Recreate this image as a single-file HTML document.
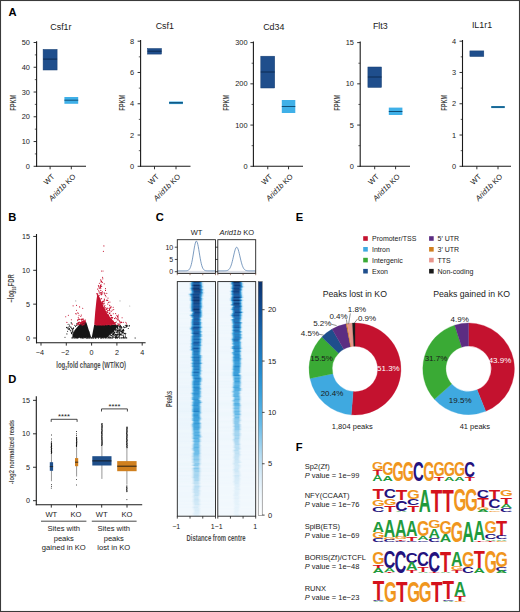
<!DOCTYPE html>
<html><head><meta charset="utf-8"><title>Figure</title>
<style>
html,body{margin:0;padding:0;background:#fff;}
body{width:520px;height:612px;overflow:hidden;font-family:"Liberation Sans",sans-serif;}
svg{display:block;font-family:"Liberation Sans",sans-serif;}
</style></head><body>
<svg width="520" height="612" viewBox="0 0 520 612">
<rect width="520" height="612" fill="#fff"/>
<rect x="0.50" y="0.50" width="519.00" height="611.00" fill="none" stroke="#3a3a3a" stroke-width="1.1"/>
<text x="8.40" y="15.90" font-size="11.2" text-anchor="start" font-weight="bold" font-style="normal" fill="#000" >A</text>
<line x1="36.60" y1="41.30" x2="36.60" y2="166.80" stroke="#1a1a1a" stroke-width="1.1" />
<line x1="36.10" y1="166.30" x2="86.00" y2="166.30" stroke="#1a1a1a" stroke-width="1.1" />
<line x1="33.60" y1="166.30" x2="36.60" y2="166.30" stroke="#1a1a1a" stroke-width="0.9" />
<text x="29.90" y="168.90" font-size="7.4" text-anchor="end" font-weight="normal" font-style="normal" fill="#1a1a1a" >0</text>
<line x1="33.60" y1="141.54" x2="36.60" y2="141.54" stroke="#1a1a1a" stroke-width="0.9" />
<text x="29.90" y="144.14" font-size="7.4" text-anchor="end" font-weight="normal" font-style="normal" fill="#1a1a1a" >10</text>
<line x1="33.60" y1="116.78" x2="36.60" y2="116.78" stroke="#1a1a1a" stroke-width="0.9" />
<text x="29.90" y="119.38" font-size="7.4" text-anchor="end" font-weight="normal" font-style="normal" fill="#1a1a1a" >20</text>
<line x1="33.60" y1="92.02" x2="36.60" y2="92.02" stroke="#1a1a1a" stroke-width="0.9" />
<text x="29.90" y="94.62" font-size="7.4" text-anchor="end" font-weight="normal" font-style="normal" fill="#1a1a1a" >30</text>
<line x1="33.60" y1="67.26" x2="36.60" y2="67.26" stroke="#1a1a1a" stroke-width="0.9" />
<text x="29.90" y="69.86" font-size="7.4" text-anchor="end" font-weight="normal" font-style="normal" fill="#1a1a1a" >40</text>
<line x1="33.60" y1="42.50" x2="36.60" y2="42.50" stroke="#1a1a1a" stroke-width="0.9" />
<text x="29.90" y="45.10" font-size="7.4" text-anchor="end" font-weight="normal" font-style="normal" fill="#1a1a1a" >50</text>
<line x1="34.80" y1="153.92" x2="36.60" y2="153.92" stroke="#1a1a1a" stroke-width="0.7" />
<line x1="34.80" y1="129.16" x2="36.60" y2="129.16" stroke="#1a1a1a" stroke-width="0.7" />
<line x1="34.80" y1="104.40" x2="36.60" y2="104.40" stroke="#1a1a1a" stroke-width="0.7" />
<line x1="34.80" y1="79.64" x2="36.60" y2="79.64" stroke="#1a1a1a" stroke-width="0.7" />
<line x1="34.80" y1="54.88" x2="36.60" y2="54.88" stroke="#1a1a1a" stroke-width="0.7" />
<text x="60.90" y="29.60" font-size="8.9" text-anchor="middle" font-weight="normal" font-style="normal" fill="#1a1a1a" >Csf1r</text>
<text x="0" y="0" transform="translate(15.70 102.80) rotate(-90) scale(0.67 1)" font-size="8.5" text-anchor="middle" font-weight="bold" font-style="normal" fill="#1a1a1a" opacity="0.8">FPKM</text>
<rect x="43.10" y="49.40" width="14.00" height="20.60" fill="#1f4e8c" stroke="#173e72" stroke-width="0.5"/>
<line x1="43.10" y1="59.10" x2="57.10" y2="59.10" stroke="#0d2a52" stroke-width="1.0" />
<rect x="64.40" y="97.00" width="13.80" height="6.80" fill="#3fb0e8" />
<line x1="64.40" y1="100.20" x2="78.20" y2="100.20" stroke="#0f4f78" stroke-width="1.0" />
<line x1="50.10" y1="166.30" x2="50.10" y2="169.30" stroke="#1a1a1a" stroke-width="0.9" />
<line x1="71.30" y1="166.30" x2="71.30" y2="169.30" stroke="#1a1a1a" stroke-width="0.9" />
<text x="0" y="0" transform="translate(55.00 177.00) rotate(-45)" font-size="7.5" text-anchor="end" font-weight="normal" font-style="normal" fill="#1a1a1a" >WT</text>
<text x="0" y="0" transform="translate(76.20 177.00) rotate(-45)" font-size="7.5" text-anchor="end" font-weight="normal" font-style="normal" fill="#1a1a1a" ><tspan font-style="italic">Arid1b</tspan> KO</text>
<line x1="140.60" y1="40.00" x2="140.60" y2="166.80" stroke="#1a1a1a" stroke-width="1.1" />
<line x1="140.10" y1="166.30" x2="190.50" y2="166.30" stroke="#1a1a1a" stroke-width="1.1" />
<line x1="137.60" y1="166.30" x2="140.60" y2="166.30" stroke="#1a1a1a" stroke-width="0.9" />
<text x="134.00" y="168.90" font-size="7.4" text-anchor="end" font-weight="normal" font-style="normal" fill="#1a1a1a" >0</text>
<line x1="137.60" y1="135.03" x2="140.60" y2="135.03" stroke="#1a1a1a" stroke-width="0.9" />
<text x="134.00" y="137.62" font-size="7.4" text-anchor="end" font-weight="normal" font-style="normal" fill="#1a1a1a" >2</text>
<line x1="137.60" y1="103.75" x2="140.60" y2="103.75" stroke="#1a1a1a" stroke-width="0.9" />
<text x="134.00" y="106.35" font-size="7.4" text-anchor="end" font-weight="normal" font-style="normal" fill="#1a1a1a" >4</text>
<line x1="137.60" y1="72.48" x2="140.60" y2="72.48" stroke="#1a1a1a" stroke-width="0.9" />
<text x="134.00" y="75.08" font-size="7.4" text-anchor="end" font-weight="normal" font-style="normal" fill="#1a1a1a" >6</text>
<line x1="137.60" y1="41.20" x2="140.60" y2="41.20" stroke="#1a1a1a" stroke-width="0.9" />
<text x="134.00" y="43.80" font-size="7.4" text-anchor="end" font-weight="normal" font-style="normal" fill="#1a1a1a" >8</text>
<line x1="138.80" y1="150.66" x2="140.60" y2="150.66" stroke="#1a1a1a" stroke-width="0.7" />
<line x1="138.80" y1="119.39" x2="140.60" y2="119.39" stroke="#1a1a1a" stroke-width="0.7" />
<line x1="138.80" y1="88.11" x2="140.60" y2="88.11" stroke="#1a1a1a" stroke-width="0.7" />
<line x1="138.80" y1="56.84" x2="140.60" y2="56.84" stroke="#1a1a1a" stroke-width="0.7" />
<text x="164.80" y="28.80" font-size="8.9" text-anchor="middle" font-weight="normal" font-style="normal" fill="#1a1a1a" >Csf1</text>
<text x="0" y="0" transform="translate(125.20 102.80) rotate(-90) scale(0.67 1)" font-size="8.5" text-anchor="middle" font-weight="bold" font-style="normal" fill="#1a1a1a" opacity="0.8">FPKM</text>
<rect x="147.50" y="48.50" width="14.00" height="5.60" fill="#1f4e8c" stroke="#173e72" stroke-width="0.5"/>
<line x1="147.50" y1="51.20" x2="161.50" y2="51.20" stroke="#0d2a52" stroke-width="1.0" />
<rect x="169.10" y="101.50" width="13.80" height="2.60" fill="#3fb0e8" />
<line x1="169.10" y1="102.80" x2="182.90" y2="102.80" stroke="#0f4f78" stroke-width="1.4" />
<line x1="154.50" y1="166.30" x2="154.50" y2="169.30" stroke="#1a1a1a" stroke-width="0.9" />
<line x1="176.00" y1="166.30" x2="176.00" y2="169.30" stroke="#1a1a1a" stroke-width="0.9" />
<text x="0" y="0" transform="translate(159.40 177.00) rotate(-45)" font-size="7.5" text-anchor="end" font-weight="normal" font-style="normal" fill="#1a1a1a" >WT</text>
<text x="0" y="0" transform="translate(180.90 177.00) rotate(-45)" font-size="7.5" text-anchor="end" font-weight="normal" font-style="normal" fill="#1a1a1a" ><tspan font-style="italic">Arid1b</tspan> KO</text>
<line x1="253.40" y1="41.40" x2="253.40" y2="166.80" stroke="#1a1a1a" stroke-width="1.1" />
<line x1="252.90" y1="166.30" x2="303.00" y2="166.30" stroke="#1a1a1a" stroke-width="1.1" />
<line x1="250.40" y1="166.30" x2="253.40" y2="166.30" stroke="#1a1a1a" stroke-width="0.9" />
<text x="247.50" y="168.90" font-size="7.4" text-anchor="end" font-weight="normal" font-style="normal" fill="#1a1a1a" >0</text>
<line x1="250.40" y1="125.07" x2="253.40" y2="125.07" stroke="#1a1a1a" stroke-width="0.9" />
<text x="247.50" y="127.67" font-size="7.4" text-anchor="end" font-weight="normal" font-style="normal" fill="#1a1a1a" >100</text>
<line x1="250.40" y1="83.83" x2="253.40" y2="83.83" stroke="#1a1a1a" stroke-width="0.9" />
<text x="247.50" y="86.43" font-size="7.4" text-anchor="end" font-weight="normal" font-style="normal" fill="#1a1a1a" >200</text>
<line x1="250.40" y1="42.60" x2="253.40" y2="42.60" stroke="#1a1a1a" stroke-width="0.9" />
<text x="247.50" y="45.20" font-size="7.4" text-anchor="end" font-weight="normal" font-style="normal" fill="#1a1a1a" >300</text>
<line x1="251.60" y1="145.68" x2="253.40" y2="145.68" stroke="#1a1a1a" stroke-width="0.7" />
<line x1="251.60" y1="104.45" x2="253.40" y2="104.45" stroke="#1a1a1a" stroke-width="0.7" />
<line x1="251.60" y1="63.22" x2="253.40" y2="63.22" stroke="#1a1a1a" stroke-width="0.7" />
<text x="273.80" y="30.40" font-size="8.9" text-anchor="middle" font-weight="normal" font-style="normal" fill="#1a1a1a" >Cd34</text>
<text x="0" y="0" transform="translate(228.90 102.80) rotate(-90) scale(0.67 1)" font-size="8.5" text-anchor="middle" font-weight="bold" font-style="normal" fill="#1a1a1a" opacity="0.8">FPKM</text>
<rect x="260.80" y="56.20" width="13.90" height="31.80" fill="#1f4e8c" stroke="#173e72" stroke-width="0.5"/>
<line x1="260.80" y1="72.00" x2="274.70" y2="72.00" stroke="#0d2a52" stroke-width="1.0" />
<rect x="281.80" y="100.00" width="13.50" height="13.00" fill="#3fb0e8" />
<line x1="281.80" y1="106.50" x2="295.30" y2="106.50" stroke="#0f4f78" stroke-width="1.0" />
<line x1="267.75" y1="166.30" x2="267.75" y2="169.30" stroke="#1a1a1a" stroke-width="0.9" />
<line x1="288.55" y1="166.30" x2="288.55" y2="169.30" stroke="#1a1a1a" stroke-width="0.9" />
<text x="0" y="0" transform="translate(272.65 177.00) rotate(-45)" font-size="7.5" text-anchor="end" font-weight="normal" font-style="normal" fill="#1a1a1a" >WT</text>
<text x="0" y="0" transform="translate(293.45 177.00) rotate(-45)" font-size="7.5" text-anchor="end" font-weight="normal" font-style="normal" fill="#1a1a1a" ><tspan font-style="italic">Arid1b</tspan> KO</text>
<line x1="360.20" y1="41.40" x2="360.20" y2="166.80" stroke="#1a1a1a" stroke-width="1.1" />
<line x1="359.70" y1="166.30" x2="410.00" y2="166.30" stroke="#1a1a1a" stroke-width="1.1" />
<line x1="357.20" y1="166.30" x2="360.20" y2="166.30" stroke="#1a1a1a" stroke-width="0.9" />
<text x="353.90" y="168.90" font-size="7.4" text-anchor="end" font-weight="normal" font-style="normal" fill="#1a1a1a" >0</text>
<line x1="357.20" y1="125.07" x2="360.20" y2="125.07" stroke="#1a1a1a" stroke-width="0.9" />
<text x="353.90" y="127.67" font-size="7.4" text-anchor="end" font-weight="normal" font-style="normal" fill="#1a1a1a" >5</text>
<line x1="357.20" y1="83.83" x2="360.20" y2="83.83" stroke="#1a1a1a" stroke-width="0.9" />
<text x="353.90" y="86.43" font-size="7.4" text-anchor="end" font-weight="normal" font-style="normal" fill="#1a1a1a" >10</text>
<line x1="357.20" y1="42.60" x2="360.20" y2="42.60" stroke="#1a1a1a" stroke-width="0.9" />
<text x="353.90" y="45.20" font-size="7.4" text-anchor="end" font-weight="normal" font-style="normal" fill="#1a1a1a" >15</text>
<line x1="358.40" y1="145.68" x2="360.20" y2="145.68" stroke="#1a1a1a" stroke-width="0.7" />
<line x1="358.40" y1="104.45" x2="360.20" y2="104.45" stroke="#1a1a1a" stroke-width="0.7" />
<line x1="358.40" y1="63.22" x2="360.20" y2="63.22" stroke="#1a1a1a" stroke-width="0.7" />
<text x="380.30" y="29.20" font-size="8.9" text-anchor="middle" font-weight="normal" font-style="normal" fill="#1a1a1a" >Flt3</text>
<text x="0" y="0" transform="translate(340.40 102.80) rotate(-90) scale(0.67 1)" font-size="8.5" text-anchor="middle" font-weight="bold" font-style="normal" fill="#1a1a1a" opacity="0.8">FPKM</text>
<rect x="367.90" y="67.00" width="13.60" height="20.40" fill="#1f4e8c" stroke="#173e72" stroke-width="0.5"/>
<line x1="367.90" y1="77.00" x2="381.50" y2="77.00" stroke="#0d2a52" stroke-width="1.0" />
<rect x="388.80" y="107.60" width="13.60" height="7.40" fill="#3fb0e8" />
<line x1="388.80" y1="111.50" x2="402.40" y2="111.50" stroke="#0f4f78" stroke-width="1.0" />
<line x1="374.70" y1="166.30" x2="374.70" y2="169.30" stroke="#1a1a1a" stroke-width="0.9" />
<line x1="395.60" y1="166.30" x2="395.60" y2="169.30" stroke="#1a1a1a" stroke-width="0.9" />
<text x="0" y="0" transform="translate(379.60 177.00) rotate(-45)" font-size="7.5" text-anchor="end" font-weight="normal" font-style="normal" fill="#1a1a1a" >WT</text>
<text x="0" y="0" transform="translate(400.50 177.00) rotate(-45)" font-size="7.5" text-anchor="end" font-weight="normal" font-style="normal" fill="#1a1a1a" ><tspan font-style="italic">Arid1b</tspan> KO</text>
<line x1="462.50" y1="40.00" x2="462.50" y2="166.80" stroke="#1a1a1a" stroke-width="1.1" />
<line x1="462.00" y1="166.30" x2="511.00" y2="166.30" stroke="#1a1a1a" stroke-width="1.1" />
<line x1="459.50" y1="166.30" x2="462.50" y2="166.30" stroke="#1a1a1a" stroke-width="0.9" />
<text x="456.00" y="168.90" font-size="7.4" text-anchor="end" font-weight="normal" font-style="normal" fill="#1a1a1a" >0</text>
<line x1="459.50" y1="135.03" x2="462.50" y2="135.03" stroke="#1a1a1a" stroke-width="0.9" />
<text x="456.00" y="137.62" font-size="7.4" text-anchor="end" font-weight="normal" font-style="normal" fill="#1a1a1a" >1</text>
<line x1="459.50" y1="103.75" x2="462.50" y2="103.75" stroke="#1a1a1a" stroke-width="0.9" />
<text x="456.00" y="106.35" font-size="7.4" text-anchor="end" font-weight="normal" font-style="normal" fill="#1a1a1a" >2</text>
<line x1="459.50" y1="72.48" x2="462.50" y2="72.48" stroke="#1a1a1a" stroke-width="0.9" />
<text x="456.00" y="75.08" font-size="7.4" text-anchor="end" font-weight="normal" font-style="normal" fill="#1a1a1a" >3</text>
<line x1="459.50" y1="41.20" x2="462.50" y2="41.20" stroke="#1a1a1a" stroke-width="0.9" />
<text x="456.00" y="43.80" font-size="7.4" text-anchor="end" font-weight="normal" font-style="normal" fill="#1a1a1a" >4</text>
<line x1="460.70" y1="150.66" x2="462.50" y2="150.66" stroke="#1a1a1a" stroke-width="0.7" />
<line x1="460.70" y1="119.39" x2="462.50" y2="119.39" stroke="#1a1a1a" stroke-width="0.7" />
<line x1="460.70" y1="88.11" x2="462.50" y2="88.11" stroke="#1a1a1a" stroke-width="0.7" />
<line x1="460.70" y1="56.84" x2="462.50" y2="56.84" stroke="#1a1a1a" stroke-width="0.7" />
<text x="482.00" y="28.20" font-size="8.9" text-anchor="middle" font-weight="normal" font-style="normal" fill="#1a1a1a" >IL1r1</text>
<text x="0" y="0" transform="translate(447.10 102.80) rotate(-90) scale(0.67 1)" font-size="8.5" text-anchor="middle" font-weight="bold" font-style="normal" fill="#1a1a1a" opacity="0.8">FPKM</text>
<rect x="469.90" y="50.90" width="13.90" height="5.60" fill="#1f4e8c" stroke="#173e72" stroke-width="0.5"/>
<rect x="491.30" y="106.00" width="13.40" height="2.10" fill="#3fb0e8" />
<line x1="491.30" y1="107.05" x2="504.70" y2="107.05" stroke="#0f4f78" stroke-width="1.4" />
<line x1="476.85" y1="166.30" x2="476.85" y2="169.30" stroke="#1a1a1a" stroke-width="0.9" />
<line x1="498.00" y1="166.30" x2="498.00" y2="169.30" stroke="#1a1a1a" stroke-width="0.9" />
<text x="0" y="0" transform="translate(481.75 177.00) rotate(-45)" font-size="7.5" text-anchor="end" font-weight="normal" font-style="normal" fill="#1a1a1a" >WT</text>
<text x="0" y="0" transform="translate(502.90 177.00) rotate(-45)" font-size="7.5" text-anchor="end" font-weight="normal" font-style="normal" fill="#1a1a1a" ><tspan font-style="italic">Arid1b</tspan> KO</text>
<text x="8.20" y="221.00" font-size="11.2" text-anchor="start" font-weight="bold" font-style="normal" fill="#000" >B</text>
<polygon points="91.7,337.8 94.2,324.8 116.0,324.8 117.4,326.4 114.2,330.8 110.0,334.6 107.0,337.8" fill="#161616"/>
<polygon points="91.3,337.8 88.6,329.5 86.4,322.6 84.4,321.6 81.5,323.2 78.6,325.6 75.2,329.6 72.8,334.0 72.2,337.8" fill="#161616"/>
<polygon points="94.2,324.8 95.2,312.0 96.4,300.5 97.4,293.5 98.6,295.0 100.8,300.5 103.4,306.5 107.0,313.0 110.6,318.0 114.2,322.0 116.4,324.8" fill="#c4122f"/>
<path d="M76.6 323.7h0M76.9 332.4h0M77.9 334.3h0M78.0 335.7h0M80.6 337.2h0M73.2 335.1h0M67.3 328.3h0M80.3 335.8h0M69.9 329.7h0M76.9 336.3h0M76.3 333.5h0M80.9 331.2h0M77.7 334.1h0M72.6 331.6h0M82.4 337.6h0M83.7 327.4h0M75.1 330.3h0M88.1 337.9h0M75.3 334.4h0M72.4 329.5h0M68.3 329.3h0M83.6 322.8h0M84.4 334.2h0M76.5 330.2h0M81.0 334.4h0M88.4 336.1h0M86.4 332.6h0M71.1 327.5h0M80.9 329.8h0M83.9 335.3h0M80.0 335.5h0M77.3 333.0h0M79.4 335.1h0M87.0 335.9h0M83.1 333.8h0M87.9 336.4h0M86.4 332.4h0M82.3 336.8h0M72.2 333.9h0M73.0 329.8h0M79.0 332.4h0M72.7 330.5h0M87.2 337.6h0M76.4 334.1h0M74.7 336.4h0M79.3 333.7h0M86.6 333.3h0M88.6 332.3h0M79.6 329.3h0M87.0 337.7h0M82.3 336.6h0M80.8 337.7h0M77.3 337.3h0M89.1 332.1h0M68.0 327.4h0M86.8 334.8h0M83.1 334.6h0M74.3 332.2h0M75.8 334.6h0M79.3 324.9h0M80.5 331.4h0M80.2 332.0h0M68.1 324.3h0M82.9 329.6h0M79.5 330.9h0M76.3 336.5h0M83.4 335.6h0M71.5 333.4h0M82.2 328.7h0M87.3 337.8h0M72.1 332.3h0M81.7 337.6h0M70.9 330.9h0M81.3 325.1h0M76.4 333.3h0M81.5 334.2h0M70.8 326.9h0M87.1 332.8h0M86.3 331.3h0M73.5 332.1h0M69.4 325.1h0M85.6 337.7h0M82.5 332.8h0M76.6 337.3h0M75.7 333.4h0M80.5 332.1h0M85.4 337.8h0M88.7 335.5h0M86.2 327.7h0M79.3 335.3h0M76.7 325.4h0M69.5 328.9h0M76.5 335.2h0M80.6 331.1h0M81.9 335.6h0M70.4 330.7h0M66.5 327.4h0M72.5 332.1h0M78.2 329.4h0M80.3 337.7h0M84.3 331.2h0M82.7 329.8h0M69.3 328.9h0M87.0 335.3h0M74.9 325.4h0M84.4 332.2h0M82.7 334.0h0M82.6 329.2h0M71.2 322.6h0M78.5 336.5h0M87.0 332.2h0M85.8 336.4h0M76.3 335.7h0M78.8 337.1h0M84.7 326.8h0M78.1 335.9h0M82.0 325.2h0M71.3 332.5h0M82.9 337.1h0M80.8 325.1h0M79.1 336.1h0M73.4 328.4h0M86.8 329.1h0M71.0 327.5h0M78.2 323.7h0M79.3 335.5h0M77.8 330.0h0M78.0 334.9h0M75.4 335.3h0M77.5 329.7h0M82.0 330.3h0M75.7 334.6h0M88.1 333.2h0M77.1 335.5h0M69.2 326.6h0M86.8 333.0h0M77.2 336.2h0M80.4 334.0h0M87.4 329.9h0M73.6 327.8h0M74.4 335.7h0M82.9 335.8h0M78.4 331.9h0M75.7 335.5h0M78.4 335.5h0M80.7 334.1h0M80.8 325.0h0M80.2 335.6h0M85.8 336.8h0M84.8 326.9h0M86.9 335.6h0M87.3 332.6h0M71.3 323.8h0M85.2 327.5h0M75.5 337.5h0M81.8 322.9h0M68.9 328.6h0M77.8 337.6h0M81.9 330.0h0M78.9 329.3h0M87.4 336.0h0M88.0 336.6h0M76.8 337.4h0M76.9 332.0h0M78.0 329.7h0M82.3 335.6h0M76.6 334.4h0M83.1 334.3h0M78.0 323.7h0M84.6 336.6h0M82.3 331.9h0M75.5 330.7h0M84.6 337.5h0M72.2 328.5h0M84.0 332.1h0M84.8 326.0h0M86.3 329.9h0M82.1 336.8h0M75.5 326.5h0M82.8 332.4h0M77.0 335.3h0M80.5 330.4h0M71.6 328.6h0M74.0 334.6h0M81.3 330.4h0M75.2 334.5h0M83.6 329.8h0M83.1 336.7h0M107.4 336.7h0M103.0 326.4h0M113.6 331.5h0M115.3 328.2h0M95.7 326.0h0M99.8 331.9h0M100.1 331.6h0M115.8 337.2h0M112.8 330.3h0M107.1 334.3h0M117.3 330.8h0M104.2 328.8h0M104.6 337.8h0M102.8 337.4h0M99.7 328.3h0M107.9 326.5h0M129.2 325.9h0M96.7 326.4h0M109.3 331.9h0M112.7 325.9h0M119.7 332.0h0M115.5 336.5h0M116.2 332.1h0M101.3 337.3h0M112.8 336.4h0M109.8 329.4h0M110.3 334.6h0M114.8 332.6h0M121.7 331.2h0M129.5 325.7h0M120.1 334.9h0M98.2 326.5h0M121.9 330.0h0M106.9 334.5h0M118.4 330.7h0M115.1 329.9h0M102.9 325.4h0M126.6 326.7h0M95.5 337.2h0M103.7 332.5h0M116.2 336.7h0M113.3 337.1h0M97.2 329.3h0M113.6 329.9h0M107.3 331.8h0M101.6 333.6h0M120.5 327.2h0M96.8 336.5h0M122.8 330.0h0M109.2 334.7h0M117.3 325.3h0M105.7 330.9h0M120.6 326.2h0M109.3 333.3h0M97.6 326.7h0M96.9 336.9h0M114.1 331.8h0M118.4 334.2h0M101.7 329.5h0M97.0 334.1h0M119.8 329.1h0M104.2 336.2h0M106.8 328.7h0M107.1 336.5h0M119.3 330.7h0M126.7 325.9h0M105.4 332.9h0M127.2 326.5h0M102.9 333.3h0M107.1 333.3h0M108.1 333.0h0M101.0 330.7h0M122.4 331.0h0M123.8 330.8h0M100.4 328.2h0M94.9 331.4h0M113.4 330.7h0M113.5 327.9h0M97.1 336.9h0M120.2 326.4h0M97.1 329.8h0M99.2 328.4h0M117.1 334.8h0M101.9 328.2h0M112.6 328.2h0M108.1 333.7h0M111.6 331.1h0M119.7 328.9h0M123.4 329.4h0M124.4 327.6h0M123.7 326.6h0M112.7 328.9h0M122.5 332.6h0M109.0 336.1h0M120.4 325.3h0M107.4 335.8h0M101.4 332.5h0M104.5 325.5h0M96.2 334.0h0M98.2 329.7h0M96.3 332.1h0M114.8 326.3h0M95.4 336.6h0M100.7 335.2h0M102.5 328.8h0M115.2 335.1h0M100.7 334.4h0M100.2 328.3h0M105.2 330.9h0M123.1 331.8h0M103.4 326.6h0M113.5 325.7h0M111.2 335.2h0M95.9 325.8h0M122.5 333.0h0M112.8 331.4h0M103.9 325.3h0M117.4 334.9h0M94.5 331.9h0M107.3 327.8h0M119.4 330.2h0M99.7 336.0h0M105.5 334.7h0M116.7 325.2h0M103.6 331.1h0M99.5 328.1h0M124.1 327.4h0M97.0 334.5h0M111.1 332.0h0M122.1 332.6h0M113.4 331.2h0M99.7 327.3h0M105.2 334.0h0M96.8 334.1h0M110.7 328.8h0M106.9 329.2h0M97.9 332.9h0M110.5 325.6h0M123.5 329.6h0M94.6 333.1h0M119.3 334.9h0M114.1 332.1h0M116.0 334.3h0M107.4 331.1h0M104.7 333.7h0M108.0 329.4h0M103.2 335.4h0M120.0 333.8h0M119.8 333.7h0M99.1 336.8h0M118.1 328.9h0M100.5 332.8h0M123.8 330.4h0M97.3 335.1h0M99.7 336.4h0M108.5 337.1h0M112.2 329.7h0M121.3 327.4h0M107.8 333.7h0M108.7 337.8h0M108.3 329.0h0M117.5 330.2h0M94.8 333.7h0M106.3 329.6h0M97.9 333.1h0M112.2 327.9h0M123.4 330.1h0M99.7 328.1h0M106.6 331.6h0M99.2 328.8h0M119.5 327.3h0M101.1 325.8h0M116.3 335.5h0M97.1 334.9h0M114.5 329.0h0M105.8 326.0h0M106.9 332.0h0M98.5 325.5h0M98.9 326.4h0M113.4 330.8h0M114.0 334.6h0M126.3 325.2h0M123.1 330.3h0M98.5 327.4h0M104.4 326.5h0M102.7 330.6h0M113.5 337.0h0M95.3 335.7h0M129.1 325.9h0M117.4 334.0h0M117.9 328.5h0M107.6 330.4h0M101.2 332.0h0M99.2 333.0h0M114.3 335.8h0M112.5 334.6h0M114.2 333.7h0M116.9 337.5h0M117.9 336.1h0M110.8 332.7h0M116.2 329.1h0M121.0 328.3h0M111.3 325.2h0M123.8 327.0h0M108.6 332.4h0M114.2 326.4h0M112.8 331.2h0M109.4 326.4h0M105.5 337.3h0M119.8 326.4h0M120.1 330.3h0M120.8 334.1h0M115.1 337.1h0M98.5 332.3h0M111.9 332.9h0M96.0 329.1h0M112.8 334.9h0M105.0 332.9h0M102.5 337.1h0M126.4 325.6h0M117.7 326.9h0M109.1 327.6h0M102.0 328.4h0M114.2 326.4h0M97.6 327.8h0M98.5 331.1h0M102.8 334.2h0M105.6 337.2h0M125.8 327.5h0M108.2 333.4h0M114.9 337.4h0M95.2 326.4h0M105.0 331.6h0M127.2 325.4h0M110.9 335.3h0M104.6 326.1h0M110.9 335.8h0M125.3 325.2h0M101.3 329.9h0M100.9 326.7h0M95.9 336.6h0M119.8 334.0h0M126.0 326.8h0M119.4 336.3h0M118.8 325.9h0M109.9 337.0h0M102.0 334.0h0M119.3 335.5h0M100.5 335.0h0M117.7 327.8h0M107.3 329.5h0M102.2 334.1h0M103.9 329.8h0M97.3 325.4h0M109.7 331.2h0M112.9 337.4h0M115.4 334.3h0M103.0 327.7h0M97.2 334.3h0M120.9 334.8h0M104.0 330.9h0M100.7 326.5h0M110.5 328.3h0M107.8 326.0h0M111.8 335.7h0M113.8 329.7h0M106.9 329.5h0M121.9 331.4h0M112.0 327.1h0M118.4 331.3h0M115.7 335.0h0M109.7 328.1h0M122.0 327.8h0M110.0 330.5h0M115.6 337.5h0M117.6 328.8h0M117.1 326.8h0M114.3 332.3h0M110.8 327.7h0M107.0 326.3h0M117.0 331.0h0M121.5 334.9h0M118.1 331.2h0M110.9 330.4h0M107.3 327.4h0M108.7 329.1h0M125.2 337.5h0M115.4 328.2h0M125.5 336.1h0M114.7 328.4h0M123.5 336.2h0M113.5 334.2h0M106.2 325.2h0M121.0 328.6h0M116.7 334.9h0M114.9 326.0h0M112.9 333.7h0M118.7 337.2h0M112.5 329.1h0M123.0 330.4h0M123.5 332.0h0M113.5 327.2h0M113.2 327.9h0M111.8 332.2h0M123.0 335.4h0M119.5 333.3h0M113.5 326.1h0M120.0 334.5h0M124.5 333.4h0M121.0 328.7h0M123.9 337.7h0M112.0 333.1h0M107.2 326.6h0M112.1 328.1h0M116.0 337.3h0M113.5 334.9h0M117.6 337.6h0M111.8 332.5h0M116.5 336.3h0M119.8 334.7h0M120.2 329.4h0M111.2 328.8h0M113.7 333.0h0M123.0 335.1h0M117.0 327.6h0M125.3 334.2h0M119.1 326.2h0M109.9 329.1h0M119.0 325.7h0M123.1 335.0h0M118.3 336.8h0M114.2 333.0h0M112.2 331.6h0M113.7 331.9h0M108.9 329.4h0M112.4 332.6h0M119.7 330.9h0M119.7 337.7h0M113.4 333.3h0M117.4 332.0h0M123.6 330.7h0M110.8 329.4h0M118.0 325.7h0M112.9 330.6h0M118.2 330.0h0M113.8 332.7h0M111.1 327.3h0M123.3 333.1h0M123.9 337.5h0M111.8 333.4h0M125.3 336.1h0M119.3 335.0h0M113.5 334.9h0M115.5 329.6h0M116.6 330.0h0M116.9 327.3h0M125.1 333.7h0M112.5 326.6h0M111.9 328.8h0M119.6 329.2h0M115.4 330.7h0M113.0 334.3h0M120.7 331.1h0M115.9 336.4h0M121.1 331.8h0M108.8 326.9h0M123.1 337.3h0M110.7 331.5h0M121.6 333.0h0M120.0 334.8h0M120.0 333.8h0M112.3 328.2h0M117.0 332.6h0M119.8 330.0h0M119.1 335.0h0M117.4 325.9h0M125.2 336.3h0M119.4 332.6h0M118.3 332.9h0M77.9 337.9h0M87.3 338.1h0M126.7 337.9h0M89.7 337.9h0M101.6 338.0h0M92.1 337.9h0M115.9 338.1h0M87.2 338.0h0M105.7 338.1h0M126.0 338.0h0M110.0 338.0h0M115.9 337.9h0M81.1 337.9h0M123.3 337.9h0M98.5 337.9h0M89.4 337.9h0M102.9 337.9h0M106.2 337.9h0M84.0 338.0h0M91.7 337.9h0M74.2 337.9h0M121.0 337.9h0M75.7 337.9h0M98.3 338.1h0M82.6 338.1h0M98.3 338.0h0M116.3 338.0h0M74.6 338.0h0M107.9 338.0h0M86.8 338.1h0M119.5 338.1h0M96.0 338.1h0M111.7 337.9h0M72.9 337.9h0M78.0 337.9h0M91.3 338.1h0M88.6 338.0h0M71.9 337.9h0M124.8 337.9h0M100.7 338.1h0M115.5 338.1h0M93.6 338.1h0M117.4 338.1h0M126.2 337.9h0M124.3 338.0h0M110.6 337.9h0M122.0 337.9h0M103.5 337.9h0M93.0 338.0h0M107.9 338.1h0M91.7 338.0h0M91.1 337.9h0M121.7 337.9h0M76.6 338.0h0M112.6 337.9h0M112.7 338.0h0M109.2 337.9h0M77.3 337.9h0M90.9 338.0h0M71.9 338.0h0M93.8 337.9h0M101.3 338.1h0M82.8 338.1h0M89.2 338.1h0M77.4 338.1h0M95.3 338.1h0M83.6 338.0h0M110.7 337.9h0M86.6 338.1h0M124.1 337.9h0M135.2 338.0h0M65.0 337.3h0M66.9 333.9h0M128.3 328.5h0M125.8 333.3h0M121.3 326.5h0M69.5 328.5h0M67.6 331.2h0" stroke="#161616" stroke-width="1.1" stroke-linecap="round" fill="none" opacity="1"/>
<path d="M97.8 320.0h0M98.7 301.5h0M106.1 316.1h0M116.3 318.6h0M101.7 322.3h0M104.7 324.8h0M102.1 315.4h0M109.9 310.7h0M101.4 323.7h0M102.9 305.3h0M119.8 322.0h0M102.3 303.4h0M99.6 324.3h0M112.5 322.1h0M118.0 316.5h0M100.8 324.7h0M119.1 323.8h0M101.2 314.7h0M96.7 322.6h0M120.7 322.8h0M101.9 320.6h0M106.1 315.1h0M98.3 312.3h0M105.6 322.8h0M108.1 320.3h0M101.5 314.3h0M114.8 318.5h0M108.5 315.8h0M118.0 318.6h0M101.2 315.2h0M96.5 321.6h0M108.2 322.1h0M97.6 322.0h0M100.5 304.6h0M104.0 300.6h0M100.8 311.2h0M100.5 292.8h0M106.2 320.3h0M100.1 315.1h0M101.3 313.8h0M102.4 313.6h0M100.9 319.7h0M96.9 313.8h0M110.1 307.1h0M102.5 303.9h0M100.6 316.9h0M112.7 317.5h0M104.5 324.1h0M99.8 322.1h0M96.4 318.6h0M102.4 323.9h0M97.9 317.1h0M103.7 323.9h0M101.6 321.9h0M102.9 301.5h0M104.5 299.8h0M99.9 321.9h0M101.8 320.3h0M102.2 305.6h0M103.7 319.6h0M97.1 321.0h0M98.9 317.9h0M101.5 325.1h0M105.3 321.3h0M105.0 317.7h0M97.0 321.7h0M101.8 319.6h0M100.3 306.6h0M106.5 309.5h0M106.0 296.7h0M109.9 312.8h0M112.2 310.1h0M102.2 323.8h0M97.3 313.3h0M97.3 321.1h0M104.4 322.6h0M103.8 323.7h0M102.6 319.0h0M107.5 317.8h0M101.2 323.9h0M98.1 322.7h0M98.0 315.4h0M101.2 305.1h0M108.3 321.9h0M104.7 324.4h0M101.0 319.0h0M104.3 299.1h0M102.9 310.0h0M100.0 324.8h0M104.5 320.7h0M98.5 314.9h0M99.8 311.1h0M103.9 321.4h0M97.6 321.7h0M99.6 302.7h0M118.5 315.0h0M109.8 313.5h0M111.8 324.5h0M100.8 322.3h0M100.9 294.0h0M104.5 322.3h0M97.3 313.5h0M107.2 324.8h0M118.1 317.2h0M103.6 317.0h0M103.1 311.9h0M102.8 317.9h0M97.6 320.7h0M118.4 324.9h0M105.1 314.9h0M103.5 324.8h0M119.7 324.9h0M115.6 317.2h0M110.9 325.1h0M100.4 325.0h0M99.4 317.0h0M107.5 322.2h0M98.2 322.0h0M112.3 322.2h0M99.3 321.9h0M98.3 321.3h0M109.4 308.2h0M96.8 322.1h0M101.6 320.1h0M112.7 320.7h0M101.0 315.4h0M102.7 325.0h0M101.1 298.5h0M108.9 322.8h0M107.6 311.1h0M102.3 323.8h0M98.3 324.6h0M98.3 317.0h0M104.5 317.0h0M96.8 324.3h0M111.0 317.5h0M100.3 321.4h0M105.4 318.4h0M101.4 323.2h0M109.9 324.9h0M113.3 313.7h0M99.9 321.9h0M100.9 314.5h0M100.7 315.7h0M103.9 320.8h0M99.0 304.4h0M99.7 311.2h0M104.9 293.2h0M97.1 320.5h0M103.1 317.3h0M104.7 318.4h0M103.1 314.0h0M99.6 324.2h0M99.0 307.8h0M101.8 293.5h0M102.8 305.2h0M100.5 322.5h0M113.2 307.2h0M98.2 321.2h0M103.3 308.1h0M100.0 312.3h0M97.5 324.5h0M103.0 320.4h0M98.0 322.3h0M111.8 317.3h0M99.5 313.8h0M99.7 314.7h0M111.8 321.6h0M102.9 303.6h0M102.6 322.0h0M104.8 320.8h0M96.3 317.0h0M106.4 319.5h0M102.6 323.7h0M107.9 316.4h0M103.7 309.4h0M97.8 321.7h0M109.5 309.4h0M108.6 319.0h0M102.6 301.4h0M96.7 312.3h0M97.5 315.9h0M101.4 312.8h0M96.2 323.6h0M102.6 324.3h0M102.5 291.8h0M102.9 321.0h0M97.4 322.4h0M103.3 319.6h0M99.3 311.8h0M100.8 318.6h0M105.9 321.2h0M102.3 302.2h0M101.0 284.6h0M101.4 310.5h0M109.3 313.6h0M101.9 322.4h0M103.9 320.6h0M99.3 322.4h0M104.9 305.5h0M105.1 309.6h0M104.8 311.9h0M104.0 323.5h0M100.2 292.6h0M104.5 317.7h0M106.0 313.3h0M113.8 323.4h0M99.9 312.4h0M101.1 320.3h0M97.8 302.8h0M99.2 323.8h0M113.0 321.8h0M114.7 322.6h0M108.4 302.3h0M102.6 318.8h0M98.8 323.4h0M100.5 319.0h0M98.1 311.9h0M121.5 322.4h0M98.9 324.6h0M96.5 316.6h0M100.6 315.2h0M96.5 324.9h0M98.2 313.2h0M100.2 321.4h0M100.7 322.0h0M100.0 321.7h0M103.3 301.5h0M105.9 312.4h0M101.6 317.5h0M103.7 308.3h0M99.9 307.9h0M99.7 303.2h0M107.8 310.4h0M101.3 302.1h0M104.0 321.1h0M103.4 324.3h0M101.2 323.9h0M111.1 315.7h0M102.4 313.0h0M102.1 320.7h0M98.8 322.5h0M97.1 321.8h0M109.3 324.5h0M100.2 306.1h0M104.4 306.3h0M109.0 317.7h0M99.1 298.1h0M96.6 322.2h0M106.1 311.4h0M96.4 319.9h0M100.3 315.4h0M98.2 317.6h0M104.5 322.9h0M96.8 324.8h0M102.5 314.7h0M111.1 324.6h0M97.8 324.7h0M97.3 322.8h0M98.5 323.1h0M103.8 323.4h0M103.3 318.2h0M105.7 320.7h0M101.2 294.7h0M101.1 320.1h0M99.7 310.1h0M108.4 322.9h0M117.8 323.8h0M110.1 320.3h0M106.9 323.5h0M104.5 308.7h0M106.1 320.9h0M98.4 304.1h0M99.4 312.3h0M104.3 325.1h0M99.5 314.1h0M109.0 318.0h0M118.2 319.2h0M101.3 310.5h0M107.9 308.6h0M98.6 323.2h0M101.6 310.9h0M107.5 324.5h0M107.8 304.1h0M97.3 324.9h0M95.9 324.4h0M97.5 306.3h0M97.4 311.0h0M104.2 303.6h0M111.8 318.3h0M102.7 315.2h0M103.3 323.6h0M107.7 308.1h0M102.3 307.5h0M101.3 320.3h0M96.2 324.2h0M97.8 319.2h0M111.2 321.3h0M97.6 301.2h0M96.5 322.5h0M105.4 295.4h0M97.7 323.9h0M106.8 300.1h0M105.4 321.3h0M98.6 324.3h0M100.2 299.8h0M96.1 323.5h0M99.2 321.0h0M110.2 320.7h0M108.2 318.4h0M103.0 320.2h0M98.2 315.1h0M108.5 314.8h0M106.6 319.4h0M106.6 320.4h0M106.5 321.0h0M113.3 321.2h0M97.4 314.1h0M96.9 309.7h0M102.6 321.4h0M99.6 324.8h0M98.4 324.3h0M102.3 321.0h0M101.7 286.3h0M104.7 307.3h0M104.3 324.1h0M97.9 315.8h0M106.6 308.8h0M97.9 319.4h0M108.9 316.0h0M98.0 321.1h0M102.5 321.6h0M100.3 307.5h0M104.1 301.8h0M99.4 315.5h0M101.6 322.7h0M99.3 323.9h0M98.5 315.7h0M101.1 306.2h0M98.2 306.7h0M98.6 323.2h0M100.6 313.8h0M111.9 318.5h0M100.9 312.6h0M100.3 323.4h0M101.2 324.8h0M101.8 305.5h0M100.1 321.1h0M105.1 319.9h0M111.3 311.2h0M96.9 321.0h0M109.9 318.6h0M102.6 321.9h0M98.1 322.7h0M97.4 318.8h0M107.7 300.4h0M103.3 321.5h0M101.7 315.3h0M96.7 310.9h0M98.9 324.6h0M104.1 316.1h0M102.9 321.7h0M99.8 323.8h0M102.7 302.3h0M102.1 324.9h0M112.4 317.8h0M110.6 308.1h0M107.5 316.9h0M103.6 304.0h0M110.6 315.3h0M96.3 320.0h0M98.0 323.4h0M102.9 321.2h0M121.0 321.7h0M108.7 324.5h0M103.7 318.1h0M97.5 321.7h0M97.3 319.4h0M101.9 294.6h0M125.9 322.3h0M102.4 315.0h0M98.6 305.2h0M99.0 308.4h0M99.4 288.2h0M109.0 310.3h0M103.3 317.1h0M100.2 323.4h0M98.7 290.2h0M117.3 316.1h0M109.7 305.4h0M96.5 317.9h0M107.5 312.3h0M106.4 300.2h0M113.5 322.7h0M107.7 323.9h0M101.3 322.4h0M101.6 298.7h0M109.7 320.4h0M96.7 324.5h0M105.5 290.4h0M118.9 320.2h0M99.5 324.0h0M101.3 315.3h0M103.7 325.0h0M102.9 321.8h0M96.6 321.5h0M111.5 315.3h0M97.6 305.3h0M104.5 315.1h0M99.4 319.9h0M107.3 322.5h0M105.5 313.3h0M104.9 324.0h0M97.5 317.0h0M122.1 317.7h0M95.8 324.7h0M97.4 312.0h0M111.6 319.4h0M99.5 301.3h0M111.6 322.9h0M96.5 324.6h0M105.9 321.3h0M98.8 324.8h0M101.7 292.4h0M115.4 324.0h0M105.6 324.6h0M99.0 305.7h0M99.1 288.1h0M96.6 324.7h0M100.7 320.4h0M101.9 313.5h0M103.8 318.8h0M99.4 322.1h0M104.2 311.5h0M108.2 322.7h0M99.6 324.1h0M101.6 323.7h0M117.4 319.8h0M97.5 307.5h0M102.7 314.0h0M97.6 314.0h0M99.9 317.8h0M115.5 322.5h0M96.4 318.2h0M99.7 303.3h0M105.8 312.9h0M103.2 316.0h0M102.4 319.3h0M110.0 318.5h0M96.4 316.0h0M97.8 324.4h0M96.8 323.5h0M105.6 316.4h0M99.6 315.6h0M106.2 322.7h0M116.9 315.4h0M96.2 319.4h0M98.6 325.0h0M113.9 323.3h0M104.7 314.8h0M110.4 315.0h0M99.3 321.1h0M96.1 322.1h0M110.7 320.2h0M104.9 320.0h0M99.2 303.5h0M100.9 304.8h0M103.5 316.4h0M104.3 322.2h0M102.0 293.4h0M104.7 318.6h0M98.9 322.7h0M96.8 323.1h0M105.3 318.0h0M99.8 312.5h0M104.1 321.5h0M101.9 311.4h0M103.0 314.6h0M105.1 314.8h0M102.0 315.1h0M104.1 316.2h0M107.5 319.1h0M102.8 317.4h0M98.0 323.0h0M96.9 325.1h0M106.3 323.2h0M102.0 323.8h0M102.6 308.1h0M100.2 315.2h0M104.1 324.6h0M102.9 323.3h0M102.0 315.2h0M105.8 307.9h0M99.0 316.6h0M99.3 318.9h0M99.3 321.8h0M102.0 315.8h0M104.1 292.7h0M97.0 325.0h0M96.4 317.8h0M106.6 315.5h0M107.4 320.1h0M97.3 318.0h0M103.0 321.7h0M97.0 322.9h0M107.9 312.5h0M110.5 320.7h0M102.3 323.0h0M106.6 324.8h0M104.0 321.8h0M102.1 312.8h0M105.9 316.8h0M116.3 322.0h0M97.2 317.5h0M104.4 294.0h0M114.5 318.6h0M103.0 323.7h0M100.1 320.4h0M102.8 323.4h0M99.2 322.1h0M103.9 245.9h0M103.4 251.3h0M101.5 271.0h0M103.0 271.0h0M100.7 279.8h0M102.4 282.5h0M104.2 283.8h0M99.4 283.2h0M105.5 288.6h0M119.4 321.1h0M123.2 322.4h0M126.4 323.8h0M117.5 317.0h0M115.6 313.6h0M113.7 309.6h0M111.2 306.9h0M109.9 302.1h0M108.0 298.1h0M106.8 293.3h0M100.2 287.9h0M100.6 288.0h0M98.4 285.6h0M98.8 286.7h0M100.8 290.4h0M100.6 286.9h0M99.2 293.1h0M97.5 293.8h0M96.8 293.6h0M102.8 278.8h0M97.5 289.1h0M101.1 282.1h0M99.3 295.2h0M97.4 294.7h0M101.7 281.3h0M99.0 291.6h0M101.1 280.9h0M98.7 286.1h0M97.2 294.7h0M100.2 286.1h0M100.2 287.3h0M100.5 285.3h0M100.8 288.2h0M101.3 286.0h0M102.6 277.3h0M101.4 281.4h0" stroke="#c4122f" stroke-width="1.15" stroke-linecap="round" fill="none" opacity="1"/>
<path d="M79.6 324.6h0M77.7 320.0h0M79.7 322.1h0M83.1 318.7h0M82.4 322.1h0M78.3 317.2h0M73.1 305.8h0M81.0 319.4h0M82.4 322.2h0M79.6 322.7h0M85.5 321.6h0M65.7 316.7h0M82.5 319.1h0M72.4 324.1h0M80.3 322.6h0M80.4 323.3h0M77.6 323.5h0M84.8 320.4h0M76.5 310.2h0M76.2 313.9h0M83.6 320.8h0M78.9 319.0h0M84.9 321.7h0M83.4 319.8h0M82.9 321.7h0M82.0 324.3h0M82.9 325.0h0M80.0 322.3h0M77.8 312.7h0M82.0 323.6h0M83.6 324.2h0M81.7 322.9h0M81.9 322.4h0M84.4 322.8h0M76.5 305.3h0M68.4 315.2h0M79.0 322.7h0M82.2 325.1h0M81.3 315.1h0M78.3 319.2h0M83.1 322.2h0M82.0 321.0h0M77.5 324.7h0M82.2 321.4h0M77.0 324.6h0M84.9 323.2h0M79.2 324.6h0M77.9 322.9h0M82.0 325.0h0M78.5 322.3h0M83.7 322.9h0M81.7 323.9h0M80.1 323.9h0M82.0 319.6h0M80.8 316.5h0M80.9 323.6h0M84.5 321.2h0M82.1 322.0h0M79.0 315.2h0M85.4 320.1h0M82.6 323.0h0M81.6 321.9h0M81.3 319.1h0M83.3 321.3h0M78.6 324.1h0M84.0 321.3h0M84.1 324.6h0M82.0 323.9h0M77.7 320.6h0M78.2 313.3h0M84.9 322.4h0M82.2 319.6h0M83.3 323.0h0M78.5 319.1h0M81.0 322.6h0M83.1 321.3h0M79.4 319.4h0M81.7 319.9h0M78.1 322.6h0M79.6 306.9h0M82.7 308.2h0M75.8 313.6h0M71.4 319.7h0M66.9 322.4h0" stroke="#c4122f" stroke-width="1.15" stroke-linecap="round" fill="none" opacity="1"/>
<path d="M75.7 300.9h0M120.0 300.9h0M129.7 306.0h0M135.0 337.8h0" stroke="#9a9a9a" stroke-width="1.2" stroke-linecap="round" fill="none" opacity="0.8"/>
<line x1="36.50" y1="234.00" x2="36.50" y2="343.30" stroke="#1a1a1a" stroke-width="1.1" />
<line x1="36.00" y1="342.80" x2="145.60" y2="342.80" stroke="#1a1a1a" stroke-width="1.1" />
<line x1="33.20" y1="338.00" x2="36.50" y2="338.00" stroke="#1a1a1a" stroke-width="0.9" />
<text x="30.00" y="340.55" font-size="7.2" text-anchor="end" font-weight="normal" font-style="normal" fill="#1a1a1a" >0</text>
<line x1="33.20" y1="304.15" x2="36.50" y2="304.15" stroke="#1a1a1a" stroke-width="0.9" />
<text x="30.00" y="306.70" font-size="7.2" text-anchor="end" font-weight="normal" font-style="normal" fill="#1a1a1a" >5</text>
<line x1="33.20" y1="270.30" x2="36.50" y2="270.30" stroke="#1a1a1a" stroke-width="0.9" />
<text x="30.00" y="272.85" font-size="7.2" text-anchor="end" font-weight="normal" font-style="normal" fill="#1a1a1a" >10</text>
<line x1="33.20" y1="236.45" x2="36.50" y2="236.45" stroke="#1a1a1a" stroke-width="0.9" />
<text x="30.00" y="239.00" font-size="7.2" text-anchor="end" font-weight="normal" font-style="normal" fill="#1a1a1a" >15</text>
<line x1="41.00" y1="342.80" x2="41.00" y2="345.60" stroke="#1a1a1a" stroke-width="0.9" />
<text x="39.80" y="355.40" font-size="7.2" text-anchor="middle" font-weight="normal" font-style="normal" fill="#1a1a1a" >−4</text>
<line x1="66.30" y1="342.80" x2="66.30" y2="345.60" stroke="#1a1a1a" stroke-width="0.9" />
<text x="65.10" y="355.40" font-size="7.2" text-anchor="middle" font-weight="normal" font-style="normal" fill="#1a1a1a" >−2</text>
<line x1="91.60" y1="342.80" x2="91.60" y2="345.60" stroke="#1a1a1a" stroke-width="0.9" />
<text x="91.60" y="355.40" font-size="7.2" text-anchor="middle" font-weight="normal" font-style="normal" fill="#1a1a1a" >0</text>
<line x1="116.90" y1="342.80" x2="116.90" y2="345.60" stroke="#1a1a1a" stroke-width="0.9" />
<text x="116.90" y="355.40" font-size="7.2" text-anchor="middle" font-weight="normal" font-style="normal" fill="#1a1a1a" >2</text>
<line x1="142.20" y1="342.80" x2="142.20" y2="345.60" stroke="#1a1a1a" stroke-width="0.9" />
<text x="142.20" y="355.40" font-size="7.2" text-anchor="middle" font-weight="normal" font-style="normal" fill="#1a1a1a" >4</text>
<text x="0" y="0" transform="translate(14.40 288.50) rotate(-90) scale(0.69 1)" font-size="8.5" text-anchor="middle" font-weight="bold" font-style="normal" fill="#1a1a1a" opacity="0.8">−log<tspan font-size="5.2" dy="1.5">10</tspan><tspan dy="-1.5">FDR</tspan></text>
<text x="0" y="0" transform="translate(91.20 368.20) scale(0.7 1)" font-size="8.5" text-anchor="middle" font-weight="bold" font-style="normal" fill="#1a1a1a" opacity="0.8">log<tspan font-size="5.2" dy="1.5">2</tspan><tspan dy="-1.5">fold change (WT/KO)</tspan></text>
<text x="155.70" y="221.00" font-size="11.2" text-anchor="start" font-weight="bold" font-style="normal" fill="#000" >C</text>
<rect x="177.30" y="281.60" width="38.20" height="234.60" fill="#f1f8fd" />
<rect x="217.80" y="281.60" width="37.90" height="234.60" fill="#f1f8fd" />
<defs><linearGradient id="h0"><stop offset=".316" stop-color="#f1f8fd"/><stop offset=".353" stop-color="#c6e4f5"/><stop offset=".371" stop-color="#72bfe9"/><stop offset=".389" stop-color="#3298d6"/><stop offset=".408" stop-color="#1d74ba"/><stop offset=".444" stop-color="#0f4b91"/><stop offset=".566" stop-color="#0f4b91"/><stop offset=".603" stop-color="#1d74ba"/><stop offset=".621" stop-color="#3298d6"/><stop offset=".639" stop-color="#72bfe9"/><stop offset=".658" stop-color="#c6e4f5"/><stop offset=".694" stop-color="#f1f8fd"/></linearGradient><linearGradient id="h1"><stop offset=".295" stop-color="#f2f8fd"/><stop offset=".334" stop-color="#cbe6f6"/><stop offset=".354" stop-color="#80c5eb"/><stop offset=".374" stop-color="#3ba1db"/><stop offset=".394" stop-color="#217fc3"/><stop offset=".433" stop-color="#145aa1"/><stop offset=".565" stop-color="#145aa1"/><stop offset=".605" stop-color="#217fc3"/><stop offset=".624" stop-color="#3ba1db"/><stop offset=".644" stop-color="#80c5eb"/><stop offset=".664" stop-color="#cbe6f6"/><stop offset=".704" stop-color="#f2f8fd"/></linearGradient><linearGradient id="h2"><stop offset=".308" stop-color="#f1f8fd"/><stop offset=".346" stop-color="#bde0f3"/><stop offset=".365" stop-color="#5eb5e5"/><stop offset=".384" stop-color="#2488cb"/><stop offset=".403" stop-color="#155ca3"/><stop offset=".440" stop-color="#0b326c"/><stop offset=".566" stop-color="#0b326c"/><stop offset=".604" stop-color="#155ca3"/><stop offset=".622" stop-color="#2488cb"/><stop offset=".641" stop-color="#5eb5e5"/><stop offset=".660" stop-color="#bde0f3"/><stop offset=".698" stop-color="#f1f8fd"/></linearGradient><linearGradient id="h3"><stop offset=".310" stop-color="#f1f8fd"/><stop offset=".348" stop-color="#c3e2f4"/><stop offset=".368" stop-color="#6abce8"/><stop offset=".387" stop-color="#2d93d3"/><stop offset=".407" stop-color="#1b6eb4"/><stop offset=".445" stop-color="#0e4385"/><stop offset=".574" stop-color="#0e4385"/><stop offset=".613" stop-color="#1b6eb4"/><stop offset=".632" stop-color="#2d93d3"/><stop offset=".652" stop-color="#6abce8"/><stop offset=".671" stop-color="#c3e2f4"/><stop offset=".710" stop-color="#f1f8fd"/></linearGradient><linearGradient id="h4"><stop offset=".297" stop-color="#f0f8fd"/><stop offset=".336" stop-color="#bee0f4"/><stop offset=".355" stop-color="#62b7e6"/><stop offset=".375" stop-color="#268ccf"/><stop offset=".394" stop-color="#1764ab"/><stop offset=".432" stop-color="#0c3976"/><stop offset=".561" stop-color="#0c3976"/><stop offset=".600" stop-color="#1764ab"/><stop offset=".619" stop-color="#268ccf"/><stop offset=".638" stop-color="#62b7e6"/><stop offset=".658" stop-color="#bee0f4"/><stop offset=".696" stop-color="#f0f8fd"/></linearGradient><linearGradient id="h5"><stop offset=".303" stop-color="#f2f8fd"/><stop offset=".343" stop-color="#bbdff3"/><stop offset=".363" stop-color="#5ab3e4"/><stop offset=".384" stop-color="#2384c7"/><stop offset=".404" stop-color="#13569e"/><stop offset=".444" stop-color="#0b326c"/><stop offset=".579" stop-color="#0b326c"/><stop offset=".620" stop-color="#13569e"/><stop offset=".640" stop-color="#2384c7"/><stop offset=".660" stop-color="#5ab3e4"/><stop offset=".680" stop-color="#bbdff3"/><stop offset=".721" stop-color="#f2f8fd"/></linearGradient><linearGradient id="h6"><stop offset=".323" stop-color="#f2f8fd"/><stop offset=".361" stop-color="#c5e3f5"/><stop offset=".379" stop-color="#6ebde9"/><stop offset=".398" stop-color="#3096d5"/><stop offset=".417" stop-color="#1c71b7"/><stop offset=".454" stop-color="#0f468a"/><stop offset=".578" stop-color="#0f468a"/><stop offset=".615" stop-color="#1c71b7"/><stop offset=".634" stop-color="#3096d5"/><stop offset=".653" stop-color="#6ebde9"/><stop offset=".671" stop-color="#c5e3f5"/><stop offset=".708" stop-color="#f2f8fd"/></linearGradient><linearGradient id="h7"><stop offset=".319" stop-color="#f0f7fd"/><stop offset=".358" stop-color="#c0e1f4"/><stop offset=".378" stop-color="#67bae8"/><stop offset=".398" stop-color="#2c92d3"/><stop offset=".417" stop-color="#1a6db3"/><stop offset=".456" stop-color="#0e4284"/><stop offset=".587" stop-color="#0e4284"/><stop offset=".626" stop-color="#1a6db3"/><stop offset=".646" stop-color="#2c92d3"/><stop offset=".666" stop-color="#67bae8"/><stop offset=".685" stop-color="#c0e1f4"/><stop offset=".725" stop-color="#f0f7fd"/></linearGradient><linearGradient id="h8"><stop offset=".265" stop-color="#f2f8fd"/><stop offset=".308" stop-color="#c6e3f5"/><stop offset=".330" stop-color="#71bfe9"/><stop offset=".352" stop-color="#3298d6"/><stop offset=".373" stop-color="#1d74b9"/><stop offset=".416" stop-color="#0f4a90"/><stop offset=".561" stop-color="#0f4a90"/><stop offset=".604" stop-color="#1d74b9"/><stop offset=".625" stop-color="#3298d6"/><stop offset=".647" stop-color="#71bfe9"/><stop offset=".669" stop-color="#c6e3f5"/><stop offset=".712" stop-color="#f2f8fd"/></linearGradient><linearGradient id="h9"><stop offset=".286" stop-color="#eff7fd"/><stop offset=".326" stop-color="#c1e1f4"/><stop offset=".347" stop-color="#6bbce8"/><stop offset=".367" stop-color="#3096d5"/><stop offset=".387" stop-color="#1c72b7"/><stop offset=".428" stop-color="#0f478c"/><stop offset=".563" stop-color="#0f478c"/><stop offset=".604" stop-color="#1c72b7"/><stop offset=".624" stop-color="#3096d5"/><stop offset=".645" stop-color="#6bbce8"/><stop offset=".665" stop-color="#c1e1f4"/><stop offset=".706" stop-color="#eff7fd"/></linearGradient><linearGradient id="h10"><stop offset=".311" stop-color="#f2f8fd"/><stop offset=".347" stop-color="#c1e1f4"/><stop offset=".365" stop-color="#65bae7"/><stop offset=".383" stop-color="#2a90d1"/><stop offset=".401" stop-color="#1969af"/><stop offset=".437" stop-color="#0d3d7d"/><stop offset=".557" stop-color="#0d3d7d"/><stop offset=".593" stop-color="#1969af"/><stop offset=".611" stop-color="#2a90d1"/><stop offset=".629" stop-color="#65bae7"/><stop offset=".647" stop-color="#c1e1f4"/><stop offset=".683" stop-color="#f2f8fd"/></linearGradient><linearGradient id="h11"><stop offset=".302" stop-color="#f0f8fd"/><stop offset=".341" stop-color="#bfe1f4"/><stop offset=".360" stop-color="#66bae7"/><stop offset=".380" stop-color="#2b91d2"/><stop offset=".399" stop-color="#1a6bb2"/><stop offset=".438" stop-color="#0d4081"/><stop offset=".567" stop-color="#0d4081"/><stop offset=".606" stop-color="#1a6bb2"/><stop offset=".625" stop-color="#2b91d2"/><stop offset=".645" stop-color="#66bae7"/><stop offset=".664" stop-color="#bfe1f4"/><stop offset=".703" stop-color="#f0f8fd"/></linearGradient><linearGradient id="h12"><stop offset=".306" stop-color="#eff7fd"/><stop offset=".343" stop-color="#badef3"/><stop offset=".361" stop-color="#5eb5e5"/><stop offset=".380" stop-color="#258acd"/><stop offset=".398" stop-color="#1762a8"/><stop offset=".435" stop-color="#0c3571"/><stop offset=".558" stop-color="#0c3571"/><stop offset=".595" stop-color="#1762a8"/><stop offset=".613" stop-color="#258acd"/><stop offset=".632" stop-color="#5eb5e5"/><stop offset=".650" stop-color="#badef3"/><stop offset=".687" stop-color="#eff7fd"/></linearGradient><linearGradient id="h13"><stop offset=".321" stop-color="#f0f8fd"/><stop offset=".356" stop-color="#bfe0f4"/><stop offset=".373" stop-color="#65b9e7"/><stop offset=".391" stop-color="#2a90d2"/><stop offset=".408" stop-color="#196ab0"/><stop offset=".443" stop-color="#0d3e7e"/><stop offset=".559" stop-color="#0d3e7e"/><stop offset=".593" stop-color="#196ab0"/><stop offset=".611" stop-color="#2a90d2"/><stop offset=".628" stop-color="#65b9e7"/><stop offset=".646" stop-color="#bfe0f4"/><stop offset=".680" stop-color="#f0f8fd"/></linearGradient><linearGradient id="h14"><stop offset=".317" stop-color="#f0f7fd"/><stop offset=".353" stop-color="#c1e1f4"/><stop offset=".371" stop-color="#6bbce8"/><stop offset=".389" stop-color="#3096d5"/><stop offset=".406" stop-color="#1c72b8"/><stop offset=".442" stop-color="#0f488d"/><stop offset=".561" stop-color="#0f488d"/><stop offset=".597" stop-color="#1c72b8"/><stop offset=".615" stop-color="#3096d5"/><stop offset=".633" stop-color="#6bbce8"/><stop offset=".651" stop-color="#c1e1f4"/><stop offset=".686" stop-color="#f0f7fd"/></linearGradient><linearGradient id="h15"><stop offset=".310" stop-color="#eff7fd"/><stop offset=".347" stop-color="#c0e1f4"/><stop offset=".365" stop-color="#6abce8"/><stop offset=".383" stop-color="#3096d5"/><stop offset=".401" stop-color="#1c72b8"/><stop offset=".438" stop-color="#0f488d"/><stop offset=".560" stop-color="#0f488d"/><stop offset=".596" stop-color="#1c72b8"/><stop offset=".614" stop-color="#3096d5"/><stop offset=".633" stop-color="#6abce8"/><stop offset=".651" stop-color="#c0e1f4"/><stop offset=".687" stop-color="#eff7fd"/></linearGradient><linearGradient id="h16"><stop offset=".305" stop-color="#f1f8fd"/><stop offset=".343" stop-color="#c6e4f5"/><stop offset=".362" stop-color="#77c1ea"/><stop offset=".382" stop-color="#379dd9"/><stop offset=".401" stop-color="#1f7bc0"/><stop offset=".439" stop-color="#11529a"/><stop offset=".566" stop-color="#11529a"/><stop offset=".604" stop-color="#1f7bc0"/><stop offset=".623" stop-color="#379dd9"/><stop offset=".642" stop-color="#77c1ea"/><stop offset=".661" stop-color="#c6e4f5"/><stop offset=".700" stop-color="#f1f8fd"/></linearGradient><linearGradient id="h17"><stop offset=".306" stop-color="#eff7fd"/><stop offset=".344" stop-color="#c0e1f4"/><stop offset=".362" stop-color="#6bbce8"/><stop offset=".381" stop-color="#3197d6"/><stop offset=".399" stop-color="#1d74b9"/><stop offset=".437" stop-color="#0f498f"/><stop offset=".561" stop-color="#0f498f"/><stop offset=".598" stop-color="#1d74b9"/><stop offset=".616" stop-color="#3197d6"/><stop offset=".635" stop-color="#6bbce8"/><stop offset=".654" stop-color="#c0e1f4"/><stop offset=".691" stop-color="#eff7fd"/></linearGradient><linearGradient id="h18"><stop offset=".323" stop-color="#f0f7fd"/><stop offset=".356" stop-color="#b9def3"/><stop offset=".373" stop-color="#5db5e5"/><stop offset=".390" stop-color="#258acd"/><stop offset=".407" stop-color="#1661a8"/><stop offset=".440" stop-color="#0b346f"/><stop offset=".552" stop-color="#0b346f"/><stop offset=".585" stop-color="#1661a8"/><stop offset=".602" stop-color="#258acd"/><stop offset=".619" stop-color="#5db5e5"/><stop offset=".635" stop-color="#b9def3"/><stop offset=".669" stop-color="#f0f7fd"/></linearGradient><linearGradient id="h19"><stop offset=".312" stop-color="#eff7fd"/><stop offset=".348" stop-color="#bee0f3"/><stop offset=".366" stop-color="#66bae8"/><stop offset=".384" stop-color="#2e94d4"/><stop offset=".401" stop-color="#1b6fb5"/><stop offset=".437" stop-color="#0e4487"/><stop offset=".556" stop-color="#0e4487"/><stop offset=".591" stop-color="#1b6fb5"/><stop offset=".609" stop-color="#2e94d4"/><stop offset=".627" stop-color="#66bae8"/><stop offset=".645" stop-color="#bee0f3"/><stop offset=".680" stop-color="#eff7fd"/></linearGradient><linearGradient id="h20"><stop offset=".357" stop-color="#f1f8fd"/><stop offset=".388" stop-color="#c1e2f4"/><stop offset=".404" stop-color="#6cbde8"/><stop offset=".420" stop-color="#3096d5"/><stop offset=".435" stop-color="#1c73b8"/><stop offset=".466" stop-color="#0f478c"/><stop offset=".571" stop-color="#0f478c"/><stop offset=".602" stop-color="#1c73b8"/><stop offset=".617" stop-color="#3096d5"/><stop offset=".633" stop-color="#6cbde8"/><stop offset=".649" stop-color="#c1e2f4"/><stop offset=".680" stop-color="#f1f8fd"/></linearGradient><linearGradient id="h21"><stop offset=".336" stop-color="#eef7fc"/><stop offset=".370" stop-color="#bee0f4"/><stop offset=".386" stop-color="#69bbe8"/><stop offset=".403" stop-color="#3096d5"/><stop offset=".420" stop-color="#1d73b9"/><stop offset=".453" stop-color="#0f498e"/><stop offset=".565" stop-color="#0f498e"/><stop offset=".598" stop-color="#1d73b9"/><stop offset=".615" stop-color="#3096d5"/><stop offset=".632" stop-color="#69bbe8"/><stop offset=".649" stop-color="#bee0f4"/><stop offset=".682" stop-color="#eef7fc"/></linearGradient><linearGradient id="h22"><stop offset=".293" stop-color="#f1f8fd"/><stop offset=".332" stop-color="#c8e4f5"/><stop offset=".351" stop-color="#80c5eb"/><stop offset=".370" stop-color="#3fa3dc"/><stop offset=".390" stop-color="#2383c7"/><stop offset=".429" stop-color="#155ea5"/><stop offset=".558" stop-color="#155ea5"/><stop offset=".597" stop-color="#2383c7"/><stop offset=".616" stop-color="#3fa3dc"/><stop offset=".636" stop-color="#80c5eb"/><stop offset=".655" stop-color="#c8e4f5"/><stop offset=".694" stop-color="#f1f8fd"/></linearGradient><linearGradient id="h23"><stop offset=".322" stop-color="#f1f8fd"/><stop offset=".357" stop-color="#c5e3f5"/><stop offset=".374" stop-color="#77c1ea"/><stop offset=".392" stop-color="#389eda"/><stop offset=".410" stop-color="#207dc1"/><stop offset=".445" stop-color="#12549c"/><stop offset=".561" stop-color="#12549c"/><stop offset=".596" stop-color="#207dc1"/><stop offset=".614" stop-color="#389eda"/><stop offset=".631" stop-color="#77c1ea"/><stop offset=".649" stop-color="#c5e3f5"/><stop offset=".684" stop-color="#f1f8fd"/></linearGradient><linearGradient id="h24"><stop offset=".357" stop-color="#eff7fc"/><stop offset=".385" stop-color="#c5e3f5"/><stop offset=".399" stop-color="#7fc5eb"/><stop offset=".413" stop-color="#40a4dd"/><stop offset=".427" stop-color="#2385c9"/><stop offset=".455" stop-color="#1661a8"/><stop offset=".548" stop-color="#1661a8"/><stop offset=".576" stop-color="#2385c9"/><stop offset=".590" stop-color="#40a4dd"/><stop offset=".604" stop-color="#7fc5eb"/><stop offset=".618" stop-color="#c5e3f5"/><stop offset=".646" stop-color="#eff7fc"/></linearGradient><linearGradient id="h25"><stop offset=".332" stop-color="#f1f8fd"/><stop offset=".364" stop-color="#c3e2f4"/><stop offset=".380" stop-color="#73c0e9"/><stop offset=".396" stop-color="#369cd9"/><stop offset=".413" stop-color="#1f7abf"/><stop offset=".445" stop-color="#115199"/><stop offset=".552" stop-color="#115199"/><stop offset=".584" stop-color="#1f7abf"/><stop offset=".600" stop-color="#369cd9"/><stop offset=".616" stop-color="#73c0e9"/><stop offset=".632" stop-color="#c3e2f4"/><stop offset=".665" stop-color="#f1f8fd"/></linearGradient><linearGradient id="h26"><stop offset=".327" stop-color="#f1f8fd"/><stop offset=".359" stop-color="#cbe6f6"/><stop offset=".375" stop-color="#88c9ec"/><stop offset=".391" stop-color="#47a8df"/><stop offset=".407" stop-color="#258acd"/><stop offset=".439" stop-color="#1968ae"/><stop offset=".545" stop-color="#1968ae"/><stop offset=".577" stop-color="#258acd"/><stop offset=".593" stop-color="#47a8df"/><stop offset=".609" stop-color="#88c9ec"/><stop offset=".625" stop-color="#cbe6f6"/><stop offset=".657" stop-color="#f1f8fd"/></linearGradient><linearGradient id="h27"><stop offset=".322" stop-color="#f0f7fd"/><stop offset=".356" stop-color="#c2e2f4"/><stop offset=".373" stop-color="#74c0ea"/><stop offset=".390" stop-color="#379dd9"/><stop offset=".408" stop-color="#207cc1"/><stop offset=".442" stop-color="#12539b"/><stop offset=".556" stop-color="#12539b"/><stop offset=".590" stop-color="#207cc1"/><stop offset=".608" stop-color="#379dd9"/><stop offset=".625" stop-color="#74c0ea"/><stop offset=".642" stop-color="#c2e2f4"/><stop offset=".676" stop-color="#f0f7fd"/></linearGradient><linearGradient id="h28"><stop offset=".329" stop-color="#eff7fd"/><stop offset=".361" stop-color="#c2e2f4"/><stop offset=".378" stop-color="#74c0ea"/><stop offset=".394" stop-color="#389eda"/><stop offset=".411" stop-color="#207dc2"/><stop offset=".443" stop-color="#12559d"/><stop offset=".552" stop-color="#12559d"/><stop offset=".585" stop-color="#207dc2"/><stop offset=".601" stop-color="#389eda"/><stop offset=".618" stop-color="#74c0ea"/><stop offset=".634" stop-color="#c2e2f4"/><stop offset=".667" stop-color="#eff7fd"/></linearGradient><linearGradient id="h29"><stop offset=".323" stop-color="#f1f8fd"/><stop offset=".356" stop-color="#cde7f6"/><stop offset=".373" stop-color="#92cded"/><stop offset=".390" stop-color="#52aee2"/><stop offset=".407" stop-color="#2e94d4"/><stop offset=".440" stop-color="#1d75ba"/><stop offset=".552" stop-color="#1d75ba"/><stop offset=".586" stop-color="#2e94d4"/><stop offset=".603" stop-color="#52aee2"/><stop offset=".620" stop-color="#92cded"/><stop offset=".637" stop-color="#cde7f6"/><stop offset=".670" stop-color="#f1f8fd"/></linearGradient><linearGradient id="h30"><stop offset=".310" stop-color="#edf6fc"/><stop offset=".346" stop-color="#bde0f3"/><stop offset=".364" stop-color="#6cbde9"/><stop offset=".383" stop-color="#349ad7"/><stop offset=".401" stop-color="#1e78bd"/><stop offset=".437" stop-color="#104e96"/><stop offset=".558" stop-color="#104e96"/><stop offset=".594" stop-color="#1e78bd"/><stop offset=".613" stop-color="#349ad7"/><stop offset=".631" stop-color="#6cbde9"/><stop offset=".649" stop-color="#bde0f3"/><stop offset=".685" stop-color="#edf6fc"/></linearGradient><linearGradient id="h31"><stop offset=".295" stop-color="#eff7fd"/><stop offset=".332" stop-color="#c0e1f4"/><stop offset=".350" stop-color="#70bfe9"/><stop offset=".368" stop-color="#369cd8"/><stop offset=".386" stop-color="#1f7abf"/><stop offset=".422" stop-color="#115198"/><stop offset=".543" stop-color="#115198"/><stop offset=".580" stop-color="#1f7abf"/><stop offset=".598" stop-color="#369cd8"/><stop offset=".616" stop-color="#70bfe9"/><stop offset=".634" stop-color="#c0e1f4"/><stop offset=".670" stop-color="#eff7fd"/></linearGradient><linearGradient id="h32"><stop offset=".322" stop-color="#f0f8fd"/><stop offset=".355" stop-color="#cae6f6"/><stop offset=".372" stop-color="#8dcbed"/><stop offset=".388" stop-color="#4dabe1"/><stop offset=".405" stop-color="#2a90d1"/><stop offset=".438" stop-color="#1b70b6"/><stop offset=".549" stop-color="#1b70b6"/><stop offset=".582" stop-color="#2a90d1"/><stop offset=".599" stop-color="#4dabe1"/><stop offset=".615" stop-color="#8dcbed"/><stop offset=".632" stop-color="#cae6f6"/><stop offset=".665" stop-color="#f0f8fd"/></linearGradient><linearGradient id="h33"><stop offset=".330" stop-color="#eef6fc"/><stop offset=".364" stop-color="#c2e2f4"/><stop offset=".381" stop-color="#79c2ea"/><stop offset=".398" stop-color="#3da2dc"/><stop offset=".415" stop-color="#2383c7"/><stop offset=".449" stop-color="#155ea5"/><stop offset=".563" stop-color="#155ea5"/><stop offset=".597" stop-color="#2383c7"/><stop offset=".614" stop-color="#3da2dc"/><stop offset=".631" stop-color="#79c2ea"/><stop offset=".648" stop-color="#c2e2f4"/><stop offset=".682" stop-color="#eef6fc"/></linearGradient><linearGradient id="h34"><stop offset=".327" stop-color="#f0f8fd"/><stop offset=".359" stop-color="#c1e1f4"/><stop offset=".375" stop-color="#72bfe9"/><stop offset=".391" stop-color="#379dd9"/><stop offset=".407" stop-color="#207bc0"/><stop offset=".439" stop-color="#115299"/><stop offset=".546" stop-color="#115299"/><stop offset=".579" stop-color="#207bc0"/><stop offset=".595" stop-color="#379dd9"/><stop offset=".611" stop-color="#72bfe9"/><stop offset=".627" stop-color="#c1e1f4"/><stop offset=".659" stop-color="#f0f8fd"/></linearGradient><linearGradient id="h35"><stop offset=".347" stop-color="#eef6fc"/><stop offset=".379" stop-color="#c3e2f4"/><stop offset=".395" stop-color="#7dc4eb"/><stop offset=".411" stop-color="#41a4dd"/><stop offset=".427" stop-color="#2486ca"/><stop offset=".460" stop-color="#1762a9"/><stop offset=".567" stop-color="#1762a9"/><stop offset=".600" stop-color="#2486ca"/><stop offset=".616" stop-color="#41a4dd"/><stop offset=".632" stop-color="#7dc4eb"/><stop offset=".648" stop-color="#c3e2f4"/><stop offset=".681" stop-color="#eef6fc"/></linearGradient><linearGradient id="h36"><stop offset=".319" stop-color="#eff7fd"/><stop offset=".354" stop-color="#c8e5f5"/><stop offset=".372" stop-color="#8acaec"/><stop offset=".390" stop-color="#4dabe0"/><stop offset=".408" stop-color="#2a90d1"/><stop offset=".443" stop-color="#1b6fb5"/><stop offset=".561" stop-color="#1b6fb5"/><stop offset=".596" stop-color="#2a90d1"/><stop offset=".614" stop-color="#4dabe0"/><stop offset=".632" stop-color="#8acaec"/><stop offset=".649" stop-color="#c8e5f5"/><stop offset=".685" stop-color="#eff7fd"/></linearGradient><linearGradient id="h37"><stop offset=".323" stop-color="#eff7fd"/><stop offset=".356" stop-color="#cae5f5"/><stop offset=".372" stop-color="#8fcced"/><stop offset=".389" stop-color="#51aee2"/><stop offset=".405" stop-color="#2e94d4"/><stop offset=".438" stop-color="#1d74ba"/><stop offset=".547" stop-color="#1d74ba"/><stop offset=".580" stop-color="#2e94d4"/><stop offset=".596" stop-color="#51aee2"/><stop offset=".613" stop-color="#8fcced"/><stop offset=".629" stop-color="#cae5f5"/><stop offset=".662" stop-color="#eff7fd"/></linearGradient><linearGradient id="h38"><stop offset=".321" stop-color="#f0f7fd"/><stop offset=".356" stop-color="#c7e4f5"/><stop offset=".374" stop-color="#85c7ec"/><stop offset=".391" stop-color="#47a8df"/><stop offset=".409" stop-color="#268bce"/><stop offset=".443" stop-color="#1968af"/><stop offset=".560" stop-color="#1968af"/><stop offset=".594" stop-color="#268bce"/><stop offset=".612" stop-color="#47a8df"/><stop offset=".629" stop-color="#85c7ec"/><stop offset=".647" stop-color="#c7e4f5"/><stop offset=".682" stop-color="#f0f7fd"/></linearGradient><linearGradient id="h39"><stop offset=".314" stop-color="#eff7fd"/><stop offset=".349" stop-color="#cae6f6"/><stop offset=".367" stop-color="#91cded"/><stop offset=".385" stop-color="#53afe2"/><stop offset=".402" stop-color="#3096d5"/><stop offset=".437" stop-color="#1e77bc"/><stop offset=".555" stop-color="#1e77bc"/><stop offset=".590" stop-color="#3096d5"/><stop offset=".608" stop-color="#53afe2"/><stop offset=".625" stop-color="#91cded"/><stop offset=".643" stop-color="#cae6f6"/><stop offset=".678" stop-color="#eff7fd"/></linearGradient><linearGradient id="h40"><stop offset=".331" stop-color="#eff7fd"/><stop offset=".364" stop-color="#c1e1f4"/><stop offset=".380" stop-color="#78c2ea"/><stop offset=".396" stop-color="#3ca1dc"/><stop offset=".413" stop-color="#2282c6"/><stop offset=".445" stop-color="#145ba3"/><stop offset=".554" stop-color="#145ba3"/><stop offset=".587" stop-color="#2282c6"/><stop offset=".604" stop-color="#3ca1dc"/><stop offset=".620" stop-color="#78c2ea"/><stop offset=".636" stop-color="#c1e1f4"/><stop offset=".669" stop-color="#eff7fd"/></linearGradient><linearGradient id="h41"><stop offset=".316" stop-color="#edf6fc"/><stop offset=".349" stop-color="#bfe0f4"/><stop offset=".366" stop-color="#75c1ea"/><stop offset=".383" stop-color="#3ba0db"/><stop offset=".400" stop-color="#2281c5"/><stop offset=".434" stop-color="#145aa2"/><stop offset=".546" stop-color="#145aa2"/><stop offset=".579" stop-color="#2281c5"/><stop offset=".596" stop-color="#3ba0db"/><stop offset=".613" stop-color="#75c1ea"/><stop offset=".630" stop-color="#bfe0f4"/><stop offset=".663" stop-color="#edf6fc"/></linearGradient><linearGradient id="h42"><stop offset=".319" stop-color="#f0f7fd"/><stop offset=".354" stop-color="#cae5f5"/><stop offset=".372" stop-color="#8fcced"/><stop offset=".389" stop-color="#51ade1"/><stop offset=".406" stop-color="#2e94d4"/><stop offset=".441" stop-color="#1d74b9"/><stop offset=".557" stop-color="#1d74b9"/><stop offset=".591" stop-color="#2e94d4"/><stop offset=".609" stop-color="#51ade1"/><stop offset=".626" stop-color="#8fcced"/><stop offset=".644" stop-color="#cae5f5"/><stop offset=".678" stop-color="#f0f7fd"/></linearGradient><linearGradient id="h43"><stop offset=".308" stop-color="#eff7fd"/><stop offset=".343" stop-color="#cce6f6"/><stop offset=".360" stop-color="#98cfee"/><stop offset=".377" stop-color="#5ab3e4"/><stop offset=".395" stop-color="#369cd9"/><stop offset=".429" stop-color="#217ec3"/><stop offset=".544" stop-color="#217ec3"/><stop offset=".579" stop-color="#369cd9"/><stop offset=".596" stop-color="#5ab3e4"/><stop offset=".613" stop-color="#98cfee"/><stop offset=".631" stop-color="#cce6f6"/><stop offset=".665" stop-color="#eff7fd"/></linearGradient><linearGradient id="h44"><stop offset=".327" stop-color="#eff7fd"/><stop offset=".359" stop-color="#bfe0f4"/><stop offset=".375" stop-color="#72bfe9"/><stop offset=".390" stop-color="#389eda"/><stop offset=".406" stop-color="#217ec2"/><stop offset=".438" stop-color="#12559c"/><stop offset=".543" stop-color="#12559c"/><stop offset=".575" stop-color="#217ec2"/><stop offset=".591" stop-color="#389eda"/><stop offset=".606" stop-color="#72bfe9"/><stop offset=".622" stop-color="#bfe0f4"/><stop offset=".654" stop-color="#eff7fd"/></linearGradient><linearGradient id="h45"><stop offset=".305" stop-color="#eff7fd"/><stop offset=".340" stop-color="#c7e4f5"/><stop offset=".357" stop-color="#8acaec"/><stop offset=".374" stop-color="#4eace1"/><stop offset=".392" stop-color="#2b91d2"/><stop offset=".426" stop-color="#1c71b7"/><stop offset=".542" stop-color="#1c71b7"/><stop offset=".577" stop-color="#2b91d2"/><stop offset=".594" stop-color="#4eace1"/><stop offset=".611" stop-color="#8acaec"/><stop offset=".629" stop-color="#c7e4f5"/><stop offset=".663" stop-color="#eff7fd"/></linearGradient><linearGradient id="h46"><stop offset=".348" stop-color="#eef6fc"/><stop offset=".377" stop-color="#c8e4f5"/><stop offset=".392" stop-color="#8ecbed"/><stop offset=".406" stop-color="#52aee2"/><stop offset=".421" stop-color="#2f95d5"/><stop offset=".450" stop-color="#1e76bb"/><stop offset=".548" stop-color="#1e76bb"/><stop offset=".578" stop-color="#2f95d5"/><stop offset=".592" stop-color="#52aee2"/><stop offset=".607" stop-color="#8ecbed"/><stop offset=".622" stop-color="#c8e4f5"/><stop offset=".651" stop-color="#eef6fc"/></linearGradient><linearGradient id="h47"><stop offset=".341" stop-color="#eff7fd"/><stop offset=".371" stop-color="#c9e5f5"/><stop offset=".385" stop-color="#91cded"/><stop offset=".400" stop-color="#54afe2"/><stop offset=".415" stop-color="#3197d5"/><stop offset=".445" stop-color="#1e77bc"/><stop offset=".544" stop-color="#1e77bc"/><stop offset=".574" stop-color="#3197d5"/><stop offset=".588" stop-color="#54afe2"/><stop offset=".603" stop-color="#91cded"/><stop offset=".618" stop-color="#c9e5f5"/><stop offset=".648" stop-color="#eff7fd"/></linearGradient><linearGradient id="h48"><stop offset=".338" stop-color="#f1f8fd"/><stop offset=".368" stop-color="#cee7f6"/><stop offset=".383" stop-color="#9ad0ee"/><stop offset=".397" stop-color="#5bb4e4"/><stop offset=".412" stop-color="#369cd9"/><stop offset=".442" stop-color="#217ec2"/><stop offset=".541" stop-color="#217ec2"/><stop offset=".571" stop-color="#369cd9"/><stop offset=".586" stop-color="#5bb4e4"/><stop offset=".601" stop-color="#9ad0ee"/><stop offset=".616" stop-color="#cee7f6"/><stop offset=".646" stop-color="#f1f8fd"/></linearGradient><linearGradient id="h49"><stop offset=".336" stop-color="#eef7fc"/><stop offset=".369" stop-color="#cbe6f6"/><stop offset=".385" stop-color="#97cfee"/><stop offset=".402" stop-color="#5bb3e4"/><stop offset=".419" stop-color="#379dd9"/><stop offset=".452" stop-color="#217fc3"/><stop offset=".562" stop-color="#217fc3"/><stop offset=".596" stop-color="#379dd9"/><stop offset=".612" stop-color="#5bb3e4"/><stop offset=".629" stop-color="#97cfee"/><stop offset=".645" stop-color="#cbe6f6"/><stop offset=".679" stop-color="#eef7fc"/></linearGradient><linearGradient id="h50"><stop offset=".318" stop-color="#eef7fc"/><stop offset=".353" stop-color="#c7e4f5"/><stop offset=".370" stop-color="#8ccaed"/><stop offset=".388" stop-color="#50ade1"/><stop offset=".405" stop-color="#2d93d3"/><stop offset=".440" stop-color="#1c73b8"/><stop offset=".557" stop-color="#1c73b8"/><stop offset=".592" stop-color="#2d93d3"/><stop offset=".609" stop-color="#50ade1"/><stop offset=".626" stop-color="#8ccaed"/><stop offset=".644" stop-color="#c7e4f5"/><stop offset=".679" stop-color="#eef7fc"/></linearGradient><linearGradient id="h51"><stop offset=".337" stop-color="#f0f7fd"/><stop offset=".369" stop-color="#cae5f6"/><stop offset=".385" stop-color="#93cdee"/><stop offset=".401" stop-color="#56b0e3"/><stop offset=".417" stop-color="#3298d6"/><stop offset=".449" stop-color="#1f79be"/><stop offset=".556" stop-color="#1f79be"/><stop offset=".588" stop-color="#3298d6"/><stop offset=".604" stop-color="#56b0e3"/><stop offset=".620" stop-color="#93cdee"/><stop offset=".636" stop-color="#cae5f6"/><stop offset=".668" stop-color="#f0f7fd"/></linearGradient><linearGradient id="h52"><stop offset=".330" stop-color="#eef7fc"/><stop offset=".363" stop-color="#c9e5f5"/><stop offset=".380" stop-color="#93cdee"/><stop offset=".396" stop-color="#57b1e3"/><stop offset=".413" stop-color="#3399d7"/><stop offset=".446" stop-color="#1f7abf"/><stop offset=".556" stop-color="#1f7abf"/><stop offset=".589" stop-color="#3399d7"/><stop offset=".605" stop-color="#57b1e3"/><stop offset=".622" stop-color="#93cdee"/><stop offset=".638" stop-color="#c9e5f5"/><stop offset=".671" stop-color="#eef7fc"/></linearGradient><linearGradient id="h53"><stop offset=".353" stop-color="#eef6fc"/><stop offset=".383" stop-color="#c7e4f5"/><stop offset=".398" stop-color="#8ecbed"/><stop offset=".412" stop-color="#53afe2"/><stop offset=".427" stop-color="#3096d5"/><stop offset=".457" stop-color="#1e77bc"/><stop offset=".557" stop-color="#1e77bc"/><stop offset=".587" stop-color="#3096d5"/><stop offset=".602" stop-color="#53afe2"/><stop offset=".617" stop-color="#8ecbed"/><stop offset=".632" stop-color="#c7e4f5"/><stop offset=".662" stop-color="#eef6fc"/></linearGradient><linearGradient id="h54"><stop offset=".322" stop-color="#eff7fd"/><stop offset=".358" stop-color="#c9e5f5"/><stop offset=".376" stop-color="#91cded"/><stop offset=".394" stop-color="#56b0e3"/><stop offset=".412" stop-color="#3298d6"/><stop offset=".448" stop-color="#1f78bd"/><stop offset=".568" stop-color="#1f78bd"/><stop offset=".604" stop-color="#3298d6"/><stop offset=".622" stop-color="#56b0e3"/><stop offset=".640" stop-color="#91cded"/><stop offset=".658" stop-color="#c9e5f5"/><stop offset=".694" stop-color="#eff7fd"/></linearGradient><linearGradient id="h55"><stop offset=".342" stop-color="#edf6fc"/><stop offset=".373" stop-color="#c7e4f5"/><stop offset=".388" stop-color="#91cded"/><stop offset=".404" stop-color="#57b1e3"/><stop offset=".419" stop-color="#349ad7"/><stop offset=".450" stop-color="#1f7bc0"/><stop offset=".554" stop-color="#1f7bc0"/><stop offset=".585" stop-color="#349ad7"/><stop offset=".600" stop-color="#57b1e3"/><stop offset=".616" stop-color="#91cded"/><stop offset=".631" stop-color="#c7e4f5"/><stop offset=".662" stop-color="#edf6fc"/></linearGradient><linearGradient id="h56"><stop offset=".331" stop-color="#eef6fc"/><stop offset=".364" stop-color="#c9e5f5"/><stop offset=".380" stop-color="#95ceee"/><stop offset=".396" stop-color="#5ab3e4"/><stop offset=".412" stop-color="#369cd9"/><stop offset=".444" stop-color="#207dc2"/><stop offset=".551" stop-color="#207dc2"/><stop offset=".583" stop-color="#369cd9"/><stop offset=".599" stop-color="#5ab3e4"/><stop offset=".615" stop-color="#95ceee"/><stop offset=".631" stop-color="#c9e5f5"/><stop offset=".663" stop-color="#eef6fc"/></linearGradient><linearGradient id="h57"><stop offset=".352" stop-color="#ecf6fc"/><stop offset=".382" stop-color="#c8e4f5"/><stop offset=".397" stop-color="#95ceee"/><stop offset=".413" stop-color="#5bb3e4"/><stop offset=".428" stop-color="#379dd9"/><stop offset=".458" stop-color="#217fc4"/><stop offset=".559" stop-color="#217fc4"/><stop offset=".590" stop-color="#379dd9"/><stop offset=".605" stop-color="#5bb3e4"/><stop offset=".620" stop-color="#95ceee"/><stop offset=".635" stop-color="#c8e4f5"/><stop offset=".666" stop-color="#ecf6fc"/></linearGradient><linearGradient id="h58"><stop offset=".350" stop-color="#eef7fc"/><stop offset=".380" stop-color="#c8e5f5"/><stop offset=".395" stop-color="#92cded"/><stop offset=".410" stop-color="#57b1e3"/><stop offset=".425" stop-color="#349ad7"/><stop offset=".455" stop-color="#1f7abf"/><stop offset=".554" stop-color="#1f7abf"/><stop offset=".584" stop-color="#349ad7"/><stop offset=".599" stop-color="#57b1e3"/><stop offset=".614" stop-color="#92cded"/><stop offset=".629" stop-color="#c8e5f5"/><stop offset=".659" stop-color="#eef7fc"/></linearGradient><linearGradient id="h59"><stop offset=".337" stop-color="#eef7fc"/><stop offset=".370" stop-color="#cee7f6"/><stop offset=".387" stop-color="#a1d4ef"/><stop offset=".403" stop-color="#65b9e7"/><stop offset=".420" stop-color="#43a5de"/><stop offset=".453" stop-color="#258acd"/><stop offset=".564" stop-color="#258acd"/><stop offset=".597" stop-color="#43a5de"/><stop offset=".613" stop-color="#65b9e7"/><stop offset=".630" stop-color="#a1d4ef"/><stop offset=".647" stop-color="#cee7f6"/><stop offset=".680" stop-color="#eef7fc"/></linearGradient><linearGradient id="h60"><stop offset=".338" stop-color="#ebf5fc"/><stop offset=".368" stop-color="#bfe0f4"/><stop offset=".384" stop-color="#7fc5eb"/><stop offset=".399" stop-color="#48a8df"/><stop offset=".414" stop-color="#288ed0"/><stop offset=".444" stop-color="#1a6bb1"/><stop offset=".545" stop-color="#1a6bb1"/><stop offset=".575" stop-color="#288ed0"/><stop offset=".590" stop-color="#48a8df"/><stop offset=".605" stop-color="#7fc5eb"/><stop offset=".620" stop-color="#bfe0f4"/><stop offset=".650" stop-color="#ebf5fc"/></linearGradient><linearGradient id="h61"><stop offset=".333" stop-color="#eef6fc"/><stop offset=".365" stop-color="#cbe6f6"/><stop offset=".381" stop-color="#9dd2ef"/><stop offset=".397" stop-color="#62b7e6"/><stop offset=".414" stop-color="#3ea2dc"/><stop offset=".446" stop-color="#2486c9"/><stop offset=".554" stop-color="#2486c9"/><stop offset=".586" stop-color="#3ea2dc"/><stop offset=".603" stop-color="#62b7e6"/><stop offset=".619" stop-color="#9dd2ef"/><stop offset=".635" stop-color="#cbe6f6"/><stop offset=".667" stop-color="#eef6fc"/></linearGradient><linearGradient id="h62"><stop offset=".330" stop-color="#eef7fc"/><stop offset=".361" stop-color="#cce6f6"/><stop offset=".376" stop-color="#9dd2ef"/><stop offset=".391" stop-color="#62b7e6"/><stop offset=".407" stop-color="#3ea2dc"/><stop offset=".437" stop-color="#2385c9"/><stop offset=".540" stop-color="#2385c9"/><stop offset=".571" stop-color="#3ea2dc"/><stop offset=".586" stop-color="#62b7e6"/><stop offset=".601" stop-color="#9dd2ef"/><stop offset=".617" stop-color="#cce6f6"/><stop offset=".647" stop-color="#eef7fc"/></linearGradient><linearGradient id="h63"><stop offset=".347" stop-color="#eff7fd"/><stop offset=".377" stop-color="#d0e8f7"/><stop offset=".392" stop-color="#a8d6f0"/><stop offset=".407" stop-color="#6dbde9"/><stop offset=".422" stop-color="#4aaae0"/><stop offset=".452" stop-color="#298fd1"/><stop offset=".553" stop-color="#298fd1"/><stop offset=".583" stop-color="#4aaae0"/><stop offset=".598" stop-color="#6dbde9"/><stop offset=".613" stop-color="#a8d6f0"/><stop offset=".628" stop-color="#d0e8f7"/><stop offset=".658" stop-color="#eff7fd"/></linearGradient><linearGradient id="h64"><stop offset=".357" stop-color="#edf6fc"/><stop offset=".388" stop-color="#c7e4f5"/><stop offset=".403" stop-color="#92cded"/><stop offset=".419" stop-color="#59b2e4"/><stop offset=".434" stop-color="#369cd8"/><stop offset=".465" stop-color="#207dc1"/><stop offset=".569" stop-color="#207dc1"/><stop offset=".600" stop-color="#369cd8"/><stop offset=".615" stop-color="#59b2e4"/><stop offset=".631" stop-color="#92cded"/><stop offset=".646" stop-color="#c7e4f5"/><stop offset=".677" stop-color="#edf6fc"/></linearGradient><linearGradient id="h65"><stop offset=".362" stop-color="#eef6fc"/><stop offset=".393" stop-color="#cce6f6"/><stop offset=".409" stop-color="#a0d3ef"/><stop offset=".424" stop-color="#65b9e7"/><stop offset=".440" stop-color="#43a5de"/><stop offset=".470" stop-color="#2589cd"/><stop offset=".574" stop-color="#2589cd"/><stop offset=".605" stop-color="#43a5de"/><stop offset=".620" stop-color="#65b9e7"/><stop offset=".636" stop-color="#a0d3ef"/><stop offset=".651" stop-color="#cce6f6"/><stop offset=".682" stop-color="#eef6fc"/></linearGradient><linearGradient id="h66"><stop offset=".343" stop-color="#eef7fc"/><stop offset=".375" stop-color="#cee7f6"/><stop offset=".392" stop-color="#a4d5f0"/><stop offset=".408" stop-color="#68bbe8"/><stop offset=".424" stop-color="#47a7df"/><stop offset=".456" stop-color="#268ccf"/><stop offset=".563" stop-color="#268ccf"/><stop offset=".595" stop-color="#47a7df"/><stop offset=".611" stop-color="#68bbe8"/><stop offset=".627" stop-color="#a4d5f0"/><stop offset=".643" stop-color="#cee7f6"/><stop offset=".675" stop-color="#eef7fc"/></linearGradient><linearGradient id="h67"><stop offset=".344" stop-color="#edf6fc"/><stop offset=".375" stop-color="#cbe6f6"/><stop offset=".390" stop-color="#9ed2ef"/><stop offset=".405" stop-color="#64b8e7"/><stop offset=".420" stop-color="#41a4dd"/><stop offset=".450" stop-color="#2588cc"/><stop offset=".551" stop-color="#2588cc"/><stop offset=".581" stop-color="#41a4dd"/><stop offset=".596" stop-color="#64b8e7"/><stop offset=".611" stop-color="#9ed2ef"/><stop offset=".627" stop-color="#cbe6f6"/><stop offset=".657" stop-color="#edf6fc"/></linearGradient><linearGradient id="h68"><stop offset=".339" stop-color="#eff7fd"/><stop offset=".371" stop-color="#d0e8f6"/><stop offset=".387" stop-color="#a7d6f0"/><stop offset=".403" stop-color="#6cbde9"/><stop offset=".418" stop-color="#4aa9df"/><stop offset=".450" stop-color="#288ed0"/><stop offset=".556" stop-color="#288ed0"/><stop offset=".587" stop-color="#4aa9df"/><stop offset=".603" stop-color="#6cbde9"/><stop offset=".619" stop-color="#a7d6f0"/><stop offset=".635" stop-color="#d0e8f6"/><stop offset=".667" stop-color="#eff7fd"/></linearGradient><linearGradient id="h69"><stop offset=".346" stop-color="#edf6fc"/><stop offset=".375" stop-color="#d0e8f6"/><stop offset=".390" stop-color="#acd8f1"/><stop offset=".405" stop-color="#77c2ea"/><stop offset=".420" stop-color="#53afe2"/><stop offset=".449" stop-color="#3197d6"/><stop offset=".548" stop-color="#3197d6"/><stop offset=".578" stop-color="#53afe2"/><stop offset=".593" stop-color="#77c2ea"/><stop offset=".607" stop-color="#acd8f1"/><stop offset=".622" stop-color="#d0e8f6"/><stop offset=".652" stop-color="#edf6fc"/></linearGradient><linearGradient id="h70"><stop offset=".346" stop-color="#ebf5fc"/><stop offset=".376" stop-color="#c9e5f5"/><stop offset=".391" stop-color="#9dd2ef"/><stop offset=".406" stop-color="#64b9e7"/><stop offset=".420" stop-color="#42a5dd"/><stop offset=".450" stop-color="#2589cc"/><stop offset=".549" stop-color="#2589cc"/><stop offset=".579" stop-color="#42a5dd"/><stop offset=".593" stop-color="#64b9e7"/><stop offset=".608" stop-color="#9dd2ef"/><stop offset=".623" stop-color="#c9e5f5"/><stop offset=".653" stop-color="#ebf5fc"/></linearGradient><linearGradient id="h71"><stop offset=".354" stop-color="#edf6fc"/><stop offset=".384" stop-color="#cae5f6"/><stop offset=".399" stop-color="#9cd1ef"/><stop offset=".414" stop-color="#63b8e7"/><stop offset=".430" stop-color="#40a4dd"/><stop offset=".460" stop-color="#2487cb"/><stop offset=".561" stop-color="#2487cb"/><stop offset=".591" stop-color="#40a4dd"/><stop offset=".606" stop-color="#63b8e7"/><stop offset=".621" stop-color="#9cd1ef"/><stop offset=".637" stop-color="#cae5f6"/><stop offset=".667" stop-color="#edf6fc"/></linearGradient><linearGradient id="h72"><stop offset=".350" stop-color="#edf6fc"/><stop offset=".379" stop-color="#cee7f6"/><stop offset=".394" stop-color="#a7d6f0"/><stop offset=".408" stop-color="#70bee9"/><stop offset=".423" stop-color="#4eace1"/><stop offset=".452" stop-color="#2d93d3"/><stop offset=".548" stop-color="#2d93d3"/><stop offset=".577" stop-color="#4eace1"/><stop offset=".591" stop-color="#70bee9"/><stop offset=".606" stop-color="#a7d6f0"/><stop offset=".620" stop-color="#cee7f6"/><stop offset=".649" stop-color="#edf6fc"/></linearGradient><linearGradient id="h73"><stop offset=".353" stop-color="#eef6fc"/><stop offset=".384" stop-color="#cfe7f6"/><stop offset=".399" stop-color="#a7d6f0"/><stop offset=".414" stop-color="#6fbee9"/><stop offset=".429" stop-color="#4dabe0"/><stop offset=".459" stop-color="#2b91d2"/><stop offset=".559" stop-color="#2b91d2"/><stop offset=".590" stop-color="#4dabe0"/><stop offset=".605" stop-color="#6fbee9"/><stop offset=".620" stop-color="#a7d6f0"/><stop offset=".635" stop-color="#cfe7f6"/><stop offset=".665" stop-color="#eef6fc"/></linearGradient><linearGradient id="h74"><stop offset=".322" stop-color="#ecf6fc"/><stop offset=".355" stop-color="#cde7f6"/><stop offset=".372" stop-color="#a5d5f0"/><stop offset=".388" stop-color="#6dbde9"/><stop offset=".405" stop-color="#4cabe0"/><stop offset=".438" stop-color="#2b91d2"/><stop offset=".548" stop-color="#2b91d2"/><stop offset=".581" stop-color="#4cabe0"/><stop offset=".597" stop-color="#6dbde9"/><stop offset=".614" stop-color="#a5d5f0"/><stop offset=".630" stop-color="#cde7f6"/><stop offset=".663" stop-color="#ecf6fc"/></linearGradient><linearGradient id="h75"><stop offset=".342" stop-color="#eef6fc"/><stop offset=".372" stop-color="#cde7f6"/><stop offset=".388" stop-color="#a4d5f0"/><stop offset=".403" stop-color="#6abce8"/><stop offset=".418" stop-color="#49a9df"/><stop offset=".448" stop-color="#288ed0"/><stop offset=".549" stop-color="#288ed0"/><stop offset=".580" stop-color="#49a9df"/><stop offset=".595" stop-color="#6abce8"/><stop offset=".610" stop-color="#a4d5f0"/><stop offset=".625" stop-color="#cde7f6"/><stop offset=".656" stop-color="#eef6fc"/></linearGradient><linearGradient id="h76"><stop offset=".343" stop-color="#eff7fd"/><stop offset=".375" stop-color="#d6ebf8"/><stop offset=".391" stop-color="#b7ddf2"/><stop offset=".407" stop-color="#87c8ec"/><stop offset=".423" stop-color="#5fb6e5"/><stop offset=".454" stop-color="#3aa0db"/><stop offset=".561" stop-color="#3aa0db"/><stop offset=".592" stop-color="#5fb6e5"/><stop offset=".608" stop-color="#87c8ec"/><stop offset=".624" stop-color="#b7ddf2"/><stop offset=".640" stop-color="#d6ebf8"/><stop offset=".672" stop-color="#eff7fd"/></linearGradient><linearGradient id="h77"><stop offset=".332" stop-color="#edf6fc"/><stop offset=".363" stop-color="#cfe8f6"/><stop offset=".378" stop-color="#acd8f1"/><stop offset=".394" stop-color="#77c2ea"/><stop offset=".409" stop-color="#54afe2"/><stop offset=".440" stop-color="#3197d6"/><stop offset=".544" stop-color="#3197d6"/><stop offset=".575" stop-color="#54afe2"/><stop offset=".590" stop-color="#77c2ea"/><stop offset=".606" stop-color="#acd8f1"/><stop offset=".621" stop-color="#cfe8f6"/><stop offset=".652" stop-color="#edf6fc"/></linearGradient><linearGradient id="h78"><stop offset=".338" stop-color="#edf6fc"/><stop offset=".366" stop-color="#cfe8f6"/><stop offset=".380" stop-color="#aad7f1"/><stop offset=".394" stop-color="#74c0ea"/><stop offset=".408" stop-color="#51aee2"/><stop offset=".436" stop-color="#2f95d4"/><stop offset=".530" stop-color="#2f95d4"/><stop offset=".558" stop-color="#51aee2"/><stop offset=".572" stop-color="#74c0ea"/><stop offset=".586" stop-color="#aad7f1"/><stop offset=".600" stop-color="#cfe8f6"/><stop offset=".628" stop-color="#edf6fc"/></linearGradient><linearGradient id="h79"><stop offset=".366" stop-color="#eef6fc"/><stop offset=".394" stop-color="#cee7f6"/><stop offset=".408" stop-color="#a7d6f0"/><stop offset=".422" stop-color="#70bee9"/><stop offset=".436" stop-color="#4dabe0"/><stop offset=".463" stop-color="#2b91d2"/><stop offset=".556" stop-color="#2b91d2"/><stop offset=".584" stop-color="#4dabe0"/><stop offset=".598" stop-color="#70bee9"/><stop offset=".611" stop-color="#a7d6f0"/><stop offset=".625" stop-color="#cee7f6"/><stop offset=".653" stop-color="#eef6fc"/></linearGradient><linearGradient id="h80"><stop offset=".339" stop-color="#ecf6fc"/><stop offset=".373" stop-color="#cfe7f6"/><stop offset=".390" stop-color="#acd8f1"/><stop offset=".407" stop-color="#78c2ea"/><stop offset=".424" stop-color="#55b0e2"/><stop offset=".457" stop-color="#3298d6"/><stop offset=".570" stop-color="#3298d6"/><stop offset=".604" stop-color="#55b0e2"/><stop offset=".621" stop-color="#78c2ea"/><stop offset=".637" stop-color="#acd8f1"/><stop offset=".654" stop-color="#cfe7f6"/><stop offset=".688" stop-color="#ecf6fc"/></linearGradient><linearGradient id="h81"><stop offset=".353" stop-color="#ebf5fc"/><stop offset=".382" stop-color="#cae5f6"/><stop offset=".396" stop-color="#a2d4f0"/><stop offset=".411" stop-color="#6bbce8"/><stop offset=".425" stop-color="#4baae0"/><stop offset=".454" stop-color="#298fd1"/><stop offset=".551" stop-color="#298fd1"/><stop offset=".580" stop-color="#4baae0"/><stop offset=".595" stop-color="#6bbce8"/><stop offset=".609" stop-color="#a2d4f0"/><stop offset=".624" stop-color="#cae5f6"/><stop offset=".653" stop-color="#ebf5fc"/></linearGradient><linearGradient id="h82"><stop offset=".336" stop-color="#ecf6fc"/><stop offset=".366" stop-color="#cde6f6"/><stop offset=".381" stop-color="#a6d6f0"/><stop offset=".396" stop-color="#71bfe9"/><stop offset=".411" stop-color="#4face1"/><stop offset=".441" stop-color="#2d93d3"/><stop offset=".540" stop-color="#2d93d3"/><stop offset=".570" stop-color="#4face1"/><stop offset=".584" stop-color="#71bfe9"/><stop offset=".599" stop-color="#a6d6f0"/><stop offset=".614" stop-color="#cde6f6"/><stop offset=".644" stop-color="#ecf6fc"/></linearGradient><linearGradient id="h83"><stop offset=".351" stop-color="#ecf6fc"/><stop offset=".380" stop-color="#cde7f6"/><stop offset=".395" stop-color="#a9d7f0"/><stop offset=".410" stop-color="#75c1ea"/><stop offset=".425" stop-color="#52aee2"/><stop offset=".454" stop-color="#3096d5"/><stop offset=".553" stop-color="#3096d5"/><stop offset=".583" stop-color="#52aee2"/><stop offset=".598" stop-color="#75c1ea"/><stop offset=".613" stop-color="#a9d7f0"/><stop offset=".628" stop-color="#cde7f6"/><stop offset=".657" stop-color="#ecf6fc"/></linearGradient><linearGradient id="h84"><stop offset=".349" stop-color="#ebf5fc"/><stop offset=".379" stop-color="#cde7f6"/><stop offset=".394" stop-color="#a9d7f0"/><stop offset=".408" stop-color="#76c1ea"/><stop offset=".423" stop-color="#53afe2"/><stop offset=".453" stop-color="#3197d5"/><stop offset=".551" stop-color="#3197d5"/><stop offset=".580" stop-color="#53afe2"/><stop offset=".595" stop-color="#76c1ea"/><stop offset=".610" stop-color="#a9d7f0"/><stop offset=".625" stop-color="#cde7f6"/><stop offset=".654" stop-color="#ebf5fc"/></linearGradient><linearGradient id="h85"><stop offset=".344" stop-color="#ebf5fc"/><stop offset=".374" stop-color="#c8e4f5"/><stop offset=".389" stop-color="#9ed2ef"/><stop offset=".404" stop-color="#67bae8"/><stop offset=".419" stop-color="#47a7df"/><stop offset=".449" stop-color="#268ccf"/><stop offset=".548" stop-color="#268ccf"/><stop offset=".578" stop-color="#47a7df"/><stop offset=".593" stop-color="#67bae8"/><stop offset=".608" stop-color="#9ed2ef"/><stop offset=".623" stop-color="#c8e4f5"/><stop offset=".653" stop-color="#ebf5fc"/></linearGradient><linearGradient id="h86"><stop offset=".349" stop-color="#e9f4fb"/><stop offset=".378" stop-color="#c2e2f4"/><stop offset=".393" stop-color="#91cded"/><stop offset=".407" stop-color="#5db4e5"/><stop offset=".422" stop-color="#3aa0db"/><stop offset=".451" stop-color="#2282c6"/><stop offset=".548" stop-color="#2282c6"/><stop offset=".577" stop-color="#3aa0db"/><stop offset=".591" stop-color="#5db4e5"/><stop offset=".606" stop-color="#91cded"/><stop offset=".620" stop-color="#c2e2f4"/><stop offset=".650" stop-color="#e9f4fb"/></linearGradient><linearGradient id="h87"><stop offset=".354" stop-color="#ebf5fc"/><stop offset=".385" stop-color="#cfe7f6"/><stop offset=".400" stop-color="#afd9f1"/><stop offset=".415" stop-color="#7fc5eb"/><stop offset=".430" stop-color="#5bb3e4"/><stop offset=".460" stop-color="#379dd9"/><stop offset=".562" stop-color="#379dd9"/><stop offset=".592" stop-color="#5bb3e4"/><stop offset=".607" stop-color="#7fc5eb"/><stop offset=".622" stop-color="#afd9f1"/><stop offset=".638" stop-color="#cfe7f6"/><stop offset=".668" stop-color="#ebf5fc"/></linearGradient><linearGradient id="h88"><stop offset=".346" stop-color="#edf6fc"/><stop offset=".375" stop-color="#d2e9f7"/><stop offset=".390" stop-color="#b2dbf2"/><stop offset=".404" stop-color="#82c6eb"/><stop offset=".418" stop-color="#5cb4e5"/><stop offset=".447" stop-color="#379dd9"/><stop offset=".543" stop-color="#379dd9"/><stop offset=".572" stop-color="#5cb4e5"/><stop offset=".587" stop-color="#82c6eb"/><stop offset=".601" stop-color="#b2dbf2"/><stop offset=".616" stop-color="#d2e9f7"/><stop offset=".644" stop-color="#edf6fc"/></linearGradient><linearGradient id="h89"><stop offset=".349" stop-color="#ecf6fc"/><stop offset=".377" stop-color="#cbe6f6"/><stop offset=".391" stop-color="#a3d4f0"/><stop offset=".405" stop-color="#6cbde9"/><stop offset=".419" stop-color="#4baae0"/><stop offset=".448" stop-color="#298fd1"/><stop offset=".542" stop-color="#298fd1"/><stop offset=".570" stop-color="#4baae0"/><stop offset=".584" stop-color="#6cbde9"/><stop offset=".599" stop-color="#a3d4f0"/><stop offset=".613" stop-color="#cbe6f6"/><stop offset=".641" stop-color="#ecf6fc"/></linearGradient><linearGradient id="h90"><stop offset=".355" stop-color="#eef6fc"/><stop offset=".384" stop-color="#d3e9f7"/><stop offset=".399" stop-color="#b5dcf2"/><stop offset=".413" stop-color="#87c8ec"/><stop offset=".428" stop-color="#60b6e6"/><stop offset=".457" stop-color="#3aa0db"/><stop offset=".555" stop-color="#3aa0db"/><stop offset=".584" stop-color="#60b6e6"/><stop offset=".599" stop-color="#87c8ec"/><stop offset=".613" stop-color="#b5dcf2"/><stop offset=".628" stop-color="#d3e9f7"/><stop offset=".657" stop-color="#eef6fc"/></linearGradient><linearGradient id="h91"><stop offset=".340" stop-color="#ebf5fc"/><stop offset=".372" stop-color="#cee7f6"/><stop offset=".387" stop-color="#aed9f1"/><stop offset=".403" stop-color="#7ec4eb"/><stop offset=".419" stop-color="#5ab3e4"/><stop offset=".451" stop-color="#369cd9"/><stop offset=".556" stop-color="#369cd9"/><stop offset=".588" stop-color="#5ab3e4"/><stop offset=".604" stop-color="#7ec4eb"/><stop offset=".620" stop-color="#aed9f1"/><stop offset=".636" stop-color="#cee7f6"/><stop offset=".667" stop-color="#ebf5fc"/></linearGradient><linearGradient id="h92"><stop offset=".345" stop-color="#ecf5fc"/><stop offset=".374" stop-color="#d0e8f6"/><stop offset=".388" stop-color="#b1daf2"/><stop offset=".403" stop-color="#83c6eb"/><stop offset=".417" stop-color="#5db5e5"/><stop offset=".446" stop-color="#399fda"/><stop offset=".542" stop-color="#399fda"/><stop offset=".571" stop-color="#5db5e5"/><stop offset=".585" stop-color="#83c6eb"/><stop offset=".599" stop-color="#b1daf2"/><stop offset=".614" stop-color="#d0e8f6"/><stop offset=".643" stop-color="#ecf5fc"/></linearGradient><linearGradient id="h93"><stop offset=".371" stop-color="#ecf6fc"/><stop offset=".396" stop-color="#d1e9f7"/><stop offset=".409" stop-color="#b4dbf2"/><stop offset=".421" stop-color="#86c8ec"/><stop offset=".434" stop-color="#5fb6e6"/><stop offset=".459" stop-color="#3aa0db"/><stop offset=".543" stop-color="#3aa0db"/><stop offset=".568" stop-color="#5fb6e6"/><stop offset=".581" stop-color="#86c8ec"/><stop offset=".594" stop-color="#b4dbf2"/><stop offset=".606" stop-color="#d1e9f7"/><stop offset=".631" stop-color="#ecf6fc"/></linearGradient><linearGradient id="h94"><stop offset=".350" stop-color="#ebf5fc"/><stop offset=".381" stop-color="#cee7f6"/><stop offset=".396" stop-color="#add8f1"/><stop offset=".411" stop-color="#7cc4eb"/><stop offset=".426" stop-color="#59b2e4"/><stop offset=".456" stop-color="#359bd8"/><stop offset=".557" stop-color="#359bd8"/><stop offset=".587" stop-color="#59b2e4"/><stop offset=".602" stop-color="#7cc4eb"/><stop offset=".617" stop-color="#add8f1"/><stop offset=".632" stop-color="#cee7f6"/><stop offset=".663" stop-color="#ebf5fc"/></linearGradient><linearGradient id="h95"><stop offset=".334" stop-color="#ebf5fc"/><stop offset=".365" stop-color="#cfe7f6"/><stop offset=".381" stop-color="#b0daf1"/><stop offset=".396" stop-color="#81c6eb"/><stop offset=".412" stop-color="#5cb4e5"/><stop offset=".443" stop-color="#389eda"/><stop offset=".546" stop-color="#389eda"/><stop offset=".578" stop-color="#5cb4e5"/><stop offset=".593" stop-color="#81c6eb"/><stop offset=".609" stop-color="#b0daf1"/><stop offset=".624" stop-color="#cfe7f6"/><stop offset=".655" stop-color="#ebf5fc"/></linearGradient><linearGradient id="h96"><stop offset=".338" stop-color="#ecf6fc"/><stop offset=".369" stop-color="#d3e9f7"/><stop offset=".385" stop-color="#b8ddf3"/><stop offset=".400" stop-color="#8fcced"/><stop offset=".416" stop-color="#67bae8"/><stop offset=".447" stop-color="#45a6de"/><stop offset=".552" stop-color="#45a6de"/><stop offset=".583" stop-color="#67bae8"/><stop offset=".599" stop-color="#8fcced"/><stop offset=".615" stop-color="#b8ddf3"/><stop offset=".630" stop-color="#d3e9f7"/><stop offset=".661" stop-color="#ecf6fc"/></linearGradient><linearGradient id="h97"><stop offset=".350" stop-color="#ecf5fc"/><stop offset=".380" stop-color="#cfe8f6"/><stop offset=".395" stop-color="#b0daf1"/><stop offset=".410" stop-color="#81c6eb"/><stop offset=".425" stop-color="#5cb4e5"/><stop offset=".454" stop-color="#379dd9"/><stop offset=".554" stop-color="#379dd9"/><stop offset=".584" stop-color="#5cb4e5"/><stop offset=".599" stop-color="#81c6eb"/><stop offset=".614" stop-color="#b0daf1"/><stop offset=".629" stop-color="#cfe8f6"/><stop offset=".659" stop-color="#ecf5fc"/></linearGradient><linearGradient id="h98"><stop offset=".353" stop-color="#edf6fc"/><stop offset=".381" stop-color="#d6ebf7"/><stop offset=".395" stop-color="#bbdff3"/><stop offset=".409" stop-color="#94ceee"/><stop offset=".423" stop-color="#6cbde8"/><stop offset=".451" stop-color="#48a8df"/><stop offset=".544" stop-color="#48a8df"/><stop offset=".572" stop-color="#6cbde8"/><stop offset=".586" stop-color="#94ceee"/><stop offset=".600" stop-color="#bbdff3"/><stop offset=".613" stop-color="#d6ebf7"/><stop offset=".641" stop-color="#edf6fc"/></linearGradient><linearGradient id="h99"><stop offset=".350" stop-color="#eef7fc"/><stop offset=".378" stop-color="#daecf8"/><stop offset=".393" stop-color="#c2e2f4"/><stop offset=".407" stop-color="#a2d4f0"/><stop offset=".421" stop-color="#7ec4eb"/><stop offset=".450" stop-color="#56b1e3"/><stop offset=".545" stop-color="#56b1e3"/><stop offset=".573" stop-color="#7ec4eb"/><stop offset=".587" stop-color="#a2d4f0"/><stop offset=".601" stop-color="#c2e2f4"/><stop offset=".616" stop-color="#daecf8"/><stop offset=".644" stop-color="#eef7fc"/></linearGradient><linearGradient id="h100"><stop offset=".361" stop-color="#edf6fc"/><stop offset=".389" stop-color="#d7ebf8"/><stop offset=".403" stop-color="#bfe0f4"/><stop offset=".418" stop-color="#9cd1ef"/><stop offset=".432" stop-color="#77c1ea"/><stop offset=".460" stop-color="#51ade1"/><stop offset=".553" stop-color="#51ade1"/><stop offset=".581" stop-color="#77c1ea"/><stop offset=".595" stop-color="#9cd1ef"/><stop offset=".609" stop-color="#bfe0f4"/><stop offset=".623" stop-color="#d7ebf8"/><stop offset=".651" stop-color="#edf6fc"/></linearGradient><linearGradient id="h101"><stop offset=".349" stop-color="#ecf5fc"/><stop offset=".378" stop-color="#d7ebf8"/><stop offset=".392" stop-color="#bfe0f4"/><stop offset=".407" stop-color="#9ed2ef"/><stop offset=".421" stop-color="#7ac3ea"/><stop offset=".450" stop-color="#54afe2"/><stop offset=".546" stop-color="#54afe2"/><stop offset=".575" stop-color="#7ac3ea"/><stop offset=".589" stop-color="#9ed2ef"/><stop offset=".604" stop-color="#bfe0f4"/><stop offset=".618" stop-color="#d7ebf8"/><stop offset=".647" stop-color="#ecf5fc"/></linearGradient><linearGradient id="h102"><stop offset=".362" stop-color="#edf6fc"/><stop offset=".391" stop-color="#d5eaf7"/><stop offset=".405" stop-color="#bcdff3"/><stop offset=".420" stop-color="#96cfee"/><stop offset=".434" stop-color="#6fbee9"/><stop offset=".463" stop-color="#4baae0"/><stop offset=".560" stop-color="#4baae0"/><stop offset=".589" stop-color="#6fbee9"/><stop offset=".603" stop-color="#96cfee"/><stop offset=".617" stop-color="#bcdff3"/><stop offset=".632" stop-color="#d5eaf7"/><stop offset=".661" stop-color="#edf6fc"/></linearGradient><linearGradient id="h103"><stop offset=".349" stop-color="#ecf5fc"/><stop offset=".381" stop-color="#d7ebf8"/><stop offset=".397" stop-color="#c0e1f4"/><stop offset=".413" stop-color="#9fd3ef"/><stop offset=".429" stop-color="#7cc4eb"/><stop offset=".461" stop-color="#55b0e3"/><stop offset=".567" stop-color="#55b0e3"/><stop offset=".599" stop-color="#7cc4eb"/><stop offset=".615" stop-color="#9fd3ef"/><stop offset=".631" stop-color="#c0e1f4"/><stop offset=".647" stop-color="#d7ebf8"/><stop offset=".679" stop-color="#ecf5fc"/></linearGradient><linearGradient id="h104"><stop offset=".352" stop-color="#edf6fc"/><stop offset=".380" stop-color="#d7ebf8"/><stop offset=".394" stop-color="#bfe0f4"/><stop offset=".407" stop-color="#9dd2ef"/><stop offset=".421" stop-color="#78c2ea"/><stop offset=".449" stop-color="#52aee2"/><stop offset=".541" stop-color="#52aee2"/><stop offset=".568" stop-color="#78c2ea"/><stop offset=".582" stop-color="#9dd2ef"/><stop offset=".596" stop-color="#bfe0f4"/><stop offset=".610" stop-color="#d7ebf8"/><stop offset=".637" stop-color="#edf6fc"/></linearGradient><linearGradient id="h105"><stop offset=".369" stop-color="#edf6fc"/><stop offset=".396" stop-color="#daecf8"/><stop offset=".410" stop-color="#c4e3f4"/><stop offset=".423" stop-color="#a7d6f0"/><stop offset=".437" stop-color="#85c7ec"/><stop offset=".464" stop-color="#5cb4e5"/><stop offset=".555" stop-color="#5cb4e5"/><stop offset=".582" stop-color="#85c7ec"/><stop offset=".595" stop-color="#a7d6f0"/><stop offset=".609" stop-color="#c4e3f4"/><stop offset=".623" stop-color="#daecf8"/><stop offset=".650" stop-color="#edf6fc"/></linearGradient><linearGradient id="h106"><stop offset=".356" stop-color="#ebf5fc"/><stop offset=".385" stop-color="#d8ecf8"/><stop offset=".400" stop-color="#c2e2f4"/><stop offset=".414" stop-color="#a5d5f0"/><stop offset=".429" stop-color="#84c7ec"/><stop offset=".457" stop-color="#5cb4e5"/><stop offset=".554" stop-color="#5cb4e5"/><stop offset=".583" stop-color="#84c7ec"/><stop offset=".597" stop-color="#a5d5f0"/><stop offset=".611" stop-color="#c2e2f4"/><stop offset=".626" stop-color="#d8ecf8"/><stop offset=".655" stop-color="#ebf5fc"/></linearGradient><linearGradient id="h107"><stop offset=".376" stop-color="#edf6fc"/><stop offset=".401" stop-color="#dbedf8"/><stop offset=".414" stop-color="#c8e4f5"/><stop offset=".427" stop-color="#b0daf1"/><stop offset=".439" stop-color="#91cced"/><stop offset=".464" stop-color="#65b9e7"/><stop offset=".548" stop-color="#65b9e7"/><stop offset=".573" stop-color="#91cced"/><stop offset=".586" stop-color="#b0daf1"/><stop offset=".599" stop-color="#c8e4f5"/><stop offset=".611" stop-color="#dbedf8"/><stop offset=".636" stop-color="#edf6fc"/></linearGradient><linearGradient id="h108"><stop offset=".361" stop-color="#eef7fc"/><stop offset=".387" stop-color="#dceef9"/><stop offset=".401" stop-color="#c9e5f5"/><stop offset=".414" stop-color="#b2dbf2"/><stop offset=".428" stop-color="#93cdee"/><stop offset=".455" stop-color="#66bae8"/><stop offset=".544" stop-color="#66bae8"/><stop offset=".571" stop-color="#93cdee"/><stop offset=".585" stop-color="#b2dbf2"/><stop offset=".598" stop-color="#c9e5f5"/><stop offset=".612" stop-color="#dceef9"/><stop offset=".639" stop-color="#eef7fc"/></linearGradient><linearGradient id="h109"><stop offset=".351" stop-color="#eef7fc"/><stop offset=".380" stop-color="#ddeef9"/><stop offset=".394" stop-color="#cae5f6"/><stop offset=".409" stop-color="#b4dbf2"/><stop offset=".423" stop-color="#95ceee"/><stop offset=".453" stop-color="#68bbe8"/><stop offset=".550" stop-color="#68bbe8"/><stop offset=".579" stop-color="#95ceee"/><stop offset=".593" stop-color="#b4dbf2"/><stop offset=".608" stop-color="#cae5f6"/><stop offset=".622" stop-color="#ddeef9"/><stop offset=".652" stop-color="#eef7fc"/></linearGradient><linearGradient id="h110"><stop offset=".362" stop-color="#ecf5fc"/><stop offset=".389" stop-color="#d8ecf8"/><stop offset=".402" stop-color="#c2e2f4"/><stop offset=".415" stop-color="#a5d5f0"/><stop offset=".429" stop-color="#84c7ec"/><stop offset=".455" stop-color="#5bb3e4"/><stop offset=".545" stop-color="#5bb3e4"/><stop offset=".571" stop-color="#84c7ec"/><stop offset=".585" stop-color="#a5d5f0"/><stop offset=".598" stop-color="#c2e2f4"/><stop offset=".611" stop-color="#d8ecf8"/><stop offset=".638" stop-color="#ecf5fc"/></linearGradient><linearGradient id="h111"><stop offset=".340" stop-color="#edf6fc"/><stop offset=".369" stop-color="#dbedf8"/><stop offset=".384" stop-color="#c7e4f5"/><stop offset=".399" stop-color="#afd9f1"/><stop offset=".414" stop-color="#90cced"/><stop offset=".444" stop-color="#65b9e7"/><stop offset=".542" stop-color="#65b9e7"/><stop offset=".572" stop-color="#90cced"/><stop offset=".587" stop-color="#afd9f1"/><stop offset=".602" stop-color="#c7e4f5"/><stop offset=".617" stop-color="#dbedf8"/><stop offset=".646" stop-color="#edf6fc"/></linearGradient><linearGradient id="h112"><stop offset=".358" stop-color="#edf6fc"/><stop offset=".386" stop-color="#dcedf9"/><stop offset=".400" stop-color="#cae5f6"/><stop offset=".414" stop-color="#b5dcf2"/><stop offset=".428" stop-color="#97cfee"/><stop offset=".456" stop-color="#6cbde8"/><stop offset=".549" stop-color="#6cbde8"/><stop offset=".577" stop-color="#97cfee"/><stop offset=".591" stop-color="#b5dcf2"/><stop offset=".605" stop-color="#cae5f6"/><stop offset=".619" stop-color="#dcedf9"/><stop offset=".647" stop-color="#edf6fc"/></linearGradient><linearGradient id="h113"><stop offset=".381" stop-color="#edf6fc"/><stop offset=".406" stop-color="#dbedf8"/><stop offset=".419" stop-color="#c8e5f5"/><stop offset=".431" stop-color="#b1daf1"/><stop offset=".444" stop-color="#92cded"/><stop offset=".469" stop-color="#66bae7"/><stop offset=".553" stop-color="#66bae7"/><stop offset=".578" stop-color="#92cded"/><stop offset=".590" stop-color="#b1daf1"/><stop offset=".603" stop-color="#c8e5f5"/><stop offset=".615" stop-color="#dbedf8"/><stop offset=".640" stop-color="#edf6fc"/></linearGradient><linearGradient id="h114"><stop offset=".354" stop-color="#edf6fc"/><stop offset=".383" stop-color="#dceef9"/><stop offset=".397" stop-color="#cbe6f6"/><stop offset=".412" stop-color="#b6dcf2"/><stop offset=".426" stop-color="#99d0ee"/><stop offset=".455" stop-color="#6ebee9"/><stop offset=".552" stop-color="#6ebee9"/><stop offset=".581" stop-color="#99d0ee"/><stop offset=".595" stop-color="#b6dcf2"/><stop offset=".610" stop-color="#cbe6f6"/><stop offset=".624" stop-color="#dceef9"/><stop offset=".653" stop-color="#edf6fc"/></linearGradient><linearGradient id="h115"><stop offset=".360" stop-color="#ebf5fc"/><stop offset=".387" stop-color="#daecf8"/><stop offset=".401" stop-color="#c7e4f5"/><stop offset=".414" stop-color="#b1daf2"/><stop offset=".428" stop-color="#94ceee"/><stop offset=".455" stop-color="#69bbe8"/><stop offset=".545" stop-color="#69bbe8"/><stop offset=".573" stop-color="#94ceee"/><stop offset=".586" stop-color="#b1daf2"/><stop offset=".600" stop-color="#c7e4f5"/><stop offset=".613" stop-color="#daecf8"/><stop offset=".640" stop-color="#ebf5fc"/></linearGradient><linearGradient id="h116"><stop offset=".339" stop-color="#eef6fc"/><stop offset=".369" stop-color="#dfeff9"/><stop offset=".384" stop-color="#d2e9f7"/><stop offset=".400" stop-color="#c1e1f4"/><stop offset=".415" stop-color="#add9f1"/><stop offset=".445" stop-color="#88c9ec"/><stop offset=".546" stop-color="#88c9ec"/><stop offset=".576" stop-color="#add9f1"/><stop offset=".591" stop-color="#c1e1f4"/><stop offset=".607" stop-color="#d2e9f7"/><stop offset=".622" stop-color="#dfeff9"/><stop offset=".652" stop-color="#eef6fc"/></linearGradient><linearGradient id="h117"><stop offset=".353" stop-color="#edf6fc"/><stop offset=".381" stop-color="#dfeff9"/><stop offset=".396" stop-color="#d2e9f7"/><stop offset=".410" stop-color="#c1e1f4"/><stop offset=".424" stop-color="#add9f1"/><stop offset=".452" stop-color="#89c9ec"/><stop offset=".546" stop-color="#89c9ec"/><stop offset=".574" stop-color="#add9f1"/><stop offset=".588" stop-color="#c1e1f4"/><stop offset=".602" stop-color="#d2e9f7"/><stop offset=".616" stop-color="#dfeff9"/><stop offset=".644" stop-color="#edf6fc"/></linearGradient><linearGradient id="h118"><stop offset=".346" stop-color="#eef7fc"/><stop offset=".376" stop-color="#dfeff9"/><stop offset=".391" stop-color="#d1e8f7"/><stop offset=".406" stop-color="#bee0f4"/><stop offset=".420" stop-color="#a9d7f0"/><stop offset=".450" stop-color="#82c6eb"/><stop offset=".549" stop-color="#82c6eb"/><stop offset=".578" stop-color="#a9d7f0"/><stop offset=".593" stop-color="#bee0f4"/><stop offset=".608" stop-color="#d1e8f7"/><stop offset=".623" stop-color="#dfeff9"/><stop offset=".653" stop-color="#eef7fc"/></linearGradient><linearGradient id="h119"><stop offset=".354" stop-color="#eff7fd"/><stop offset=".383" stop-color="#e0eff9"/><stop offset=".397" stop-color="#d3e9f7"/><stop offset=".411" stop-color="#c1e1f4"/><stop offset=".425" stop-color="#add9f1"/><stop offset=".454" stop-color="#88c9ec"/><stop offset=".548" stop-color="#88c9ec"/><stop offset=".576" stop-color="#add9f1"/><stop offset=".591" stop-color="#c1e1f4"/><stop offset=".605" stop-color="#d3e9f7"/><stop offset=".619" stop-color="#e0eff9"/><stop offset=".647" stop-color="#eff7fd"/></linearGradient><linearGradient id="h120"><stop offset=".342" stop-color="#eef7fc"/><stop offset=".372" stop-color="#e2f0fa"/><stop offset=".387" stop-color="#d8ecf8"/><stop offset=".402" stop-color="#c9e5f5"/><stop offset=".416" stop-color="#badef3"/><stop offset=".446" stop-color="#9dd2ef"/><stop offset=".545" stop-color="#9dd2ef"/><stop offset=".575" stop-color="#badef3"/><stop offset=".589" stop-color="#c9e5f5"/><stop offset=".604" stop-color="#d8ecf8"/><stop offset=".619" stop-color="#e2f0fa"/><stop offset=".649" stop-color="#eef7fc"/></linearGradient><linearGradient id="h121"><stop offset=".376" stop-color="#ecf6fc"/><stop offset=".402" stop-color="#ddeef9"/><stop offset=".415" stop-color="#cfe8f6"/><stop offset=".429" stop-color="#bde0f3"/><stop offset=".442" stop-color="#a8d6f0"/><stop offset=".468" stop-color="#81c6eb"/><stop offset=".557" stop-color="#81c6eb"/><stop offset=".583" stop-color="#a8d6f0"/><stop offset=".596" stop-color="#bde0f3"/><stop offset=".610" stop-color="#cfe8f6"/><stop offset=".623" stop-color="#ddeef9"/><stop offset=".649" stop-color="#ecf6fc"/></linearGradient><linearGradient id="h122"><stop offset=".347" stop-color="#edf6fc"/><stop offset=".375" stop-color="#deeff9"/><stop offset=".389" stop-color="#d1e9f7"/><stop offset=".403" stop-color="#c0e1f4"/><stop offset=".417" stop-color="#add9f1"/><stop offset=".445" stop-color="#88c9ec"/><stop offset=".538" stop-color="#88c9ec"/><stop offset=".566" stop-color="#add9f1"/><stop offset=".580" stop-color="#c0e1f4"/><stop offset=".594" stop-color="#d1e9f7"/><stop offset=".608" stop-color="#deeff9"/><stop offset=".636" stop-color="#edf6fc"/></linearGradient><linearGradient id="h123"><stop offset=".391" stop-color="#f0f7fd"/><stop offset=".414" stop-color="#e4f1fa"/><stop offset=".425" stop-color="#dbedf8"/><stop offset=".437" stop-color="#cee7f6"/><stop offset=".448" stop-color="#c0e1f4"/><stop offset=".471" stop-color="#a6d6f0"/><stop offset=".547" stop-color="#a6d6f0"/><stop offset=".570" stop-color="#c0e1f4"/><stop offset=".581" stop-color="#cee7f6"/><stop offset=".593" stop-color="#dbedf8"/><stop offset=".604" stop-color="#e4f1fa"/><stop offset=".627" stop-color="#f0f7fd"/></linearGradient><linearGradient id="h124"><stop offset=".354" stop-color="#ecf6fc"/><stop offset=".382" stop-color="#deeef9"/><stop offset=".396" stop-color="#d0e8f7"/><stop offset=".410" stop-color="#bee0f4"/><stop offset=".424" stop-color="#aad7f1"/><stop offset=".452" stop-color="#84c7ec"/><stop offset=".544" stop-color="#84c7ec"/><stop offset=".572" stop-color="#aad7f1"/><stop offset=".586" stop-color="#bee0f4"/><stop offset=".600" stop-color="#d0e8f7"/><stop offset=".614" stop-color="#deeef9"/><stop offset=".642" stop-color="#ecf6fc"/></linearGradient><linearGradient id="h125"><stop offset=".352" stop-color="#eef6fc"/><stop offset=".380" stop-color="#e1f0fa"/><stop offset=".394" stop-color="#d6ebf8"/><stop offset=".409" stop-color="#c7e4f5"/><stop offset=".423" stop-color="#b7ddf2"/><stop offset=".452" stop-color="#96cfee"/><stop offset=".547" stop-color="#96cfee"/><stop offset=".576" stop-color="#b7ddf2"/><stop offset=".590" stop-color="#c7e4f5"/><stop offset=".604" stop-color="#d6ebf8"/><stop offset=".619" stop-color="#e1f0fa"/><stop offset=".647" stop-color="#eef6fc"/></linearGradient><linearGradient id="h126"><stop offset=".368" stop-color="#ecf6fc"/><stop offset=".395" stop-color="#dfeff9"/><stop offset=".409" stop-color="#d5eaf7"/><stop offset=".422" stop-color="#c6e4f5"/><stop offset=".436" stop-color="#b8ddf2"/><stop offset=".462" stop-color="#98d0ee"/><stop offset=".552" stop-color="#98d0ee"/><stop offset=".579" stop-color="#b8ddf2"/><stop offset=".593" stop-color="#c6e4f5"/><stop offset=".606" stop-color="#d5eaf7"/><stop offset=".620" stop-color="#dfeff9"/><stop offset=".646" stop-color="#ecf6fc"/></linearGradient><linearGradient id="h127"><stop offset=".359" stop-color="#f0f7fd"/><stop offset=".387" stop-color="#e4f1fa"/><stop offset=".401" stop-color="#dbedf8"/><stop offset=".415" stop-color="#cee7f6"/><stop offset=".428" stop-color="#c0e1f4"/><stop offset=".456" stop-color="#a6d6f0"/><stop offset=".548" stop-color="#a6d6f0"/><stop offset=".576" stop-color="#c0e1f4"/><stop offset=".589" stop-color="#cee7f6"/><stop offset=".603" stop-color="#dbedf8"/><stop offset=".617" stop-color="#e4f1fa"/><stop offset=".645" stop-color="#f0f7fd"/></linearGradient><linearGradient id="h128"><stop offset=".362" stop-color="#eff7fd"/><stop offset=".388" stop-color="#e3f1fa"/><stop offset=".402" stop-color="#dbedf8"/><stop offset=".415" stop-color="#cde7f6"/><stop offset=".428" stop-color="#c0e1f4"/><stop offset=".455" stop-color="#a6d6f0"/><stop offset=".544" stop-color="#a6d6f0"/><stop offset=".571" stop-color="#c0e1f4"/><stop offset=".584" stop-color="#cde7f6"/><stop offset=".598" stop-color="#dbedf8"/><stop offset=".611" stop-color="#e3f1fa"/><stop offset=".638" stop-color="#eff7fd"/></linearGradient><linearGradient id="h129"><stop offset=".363" stop-color="#ecf5fc"/><stop offset=".389" stop-color="#e0eff9"/><stop offset=".403" stop-color="#d7ebf8"/><stop offset=".416" stop-color="#c8e5f5"/><stop offset=".430" stop-color="#badef3"/><stop offset=".456" stop-color="#9ed2ef"/><stop offset=".545" stop-color="#9ed2ef"/><stop offset=".572" stop-color="#badef3"/><stop offset=".585" stop-color="#c8e5f5"/><stop offset=".599" stop-color="#d7ebf8"/><stop offset=".612" stop-color="#e0eff9"/><stop offset=".639" stop-color="#ecf5fc"/></linearGradient><linearGradient id="h130"><stop offset=".348" stop-color="#eff7fd"/><stop offset=".376" stop-color="#e3f1fa"/><stop offset=".390" stop-color="#dbedf8"/><stop offset=".404" stop-color="#cee7f6"/><stop offset=".418" stop-color="#c0e1f4"/><stop offset=".446" stop-color="#a7d6f0"/><stop offset=".539" stop-color="#a7d6f0"/><stop offset=".566" stop-color="#c0e1f4"/><stop offset=".580" stop-color="#cee7f6"/><stop offset=".594" stop-color="#dbedf8"/><stop offset=".608" stop-color="#e3f1fa"/><stop offset=".636" stop-color="#eff7fd"/></linearGradient><linearGradient id="h131"><stop offset=".370" stop-color="#eef6fc"/><stop offset=".396" stop-color="#e2f1fa"/><stop offset=".409" stop-color="#daedf8"/><stop offset=".422" stop-color="#cee7f6"/><stop offset=".435" stop-color="#c1e1f4"/><stop offset=".460" stop-color="#a9d7f0"/><stop offset=".546" stop-color="#a9d7f0"/><stop offset=".572" stop-color="#c1e1f4"/><stop offset=".585" stop-color="#cee7f6"/><stop offset=".598" stop-color="#daedf8"/><stop offset=".611" stop-color="#e2f1fa"/><stop offset=".637" stop-color="#eef6fc"/></linearGradient><linearGradient id="h132"><stop offset=".374" stop-color="#eff7fd"/><stop offset=".399" stop-color="#e4f1fa"/><stop offset=".412" stop-color="#dbedf9"/><stop offset=".424" stop-color="#cfe8f6"/><stop offset=".437" stop-color="#c2e2f4"/><stop offset=".462" stop-color="#a9d7f0"/><stop offset=".545" stop-color="#a9d7f0"/><stop offset=".570" stop-color="#c2e2f4"/><stop offset=".582" stop-color="#cfe8f6"/><stop offset=".595" stop-color="#dbedf9"/><stop offset=".607" stop-color="#e4f1fa"/><stop offset=".632" stop-color="#eff7fd"/></linearGradient><linearGradient id="h133"><stop offset=".373" stop-color="#eef7fc"/><stop offset=".397" stop-color="#e5f2fa"/><stop offset=".409" stop-color="#deeff9"/><stop offset=".421" stop-color="#d5eaf7"/><stop offset=".433" stop-color="#cae5f6"/><stop offset=".458" stop-color="#b9def3"/><stop offset=".538" stop-color="#b9def3"/><stop offset=".562" stop-color="#cae5f6"/><stop offset=".574" stop-color="#d5eaf7"/><stop offset=".586" stop-color="#deeff9"/><stop offset=".598" stop-color="#e5f2fa"/><stop offset=".622" stop-color="#eef7fc"/></linearGradient><linearGradient id="h134"><stop offset=".356" stop-color="#f0f7fd"/><stop offset=".384" stop-color="#e6f3fb"/><stop offset=".397" stop-color="#e0eff9"/><stop offset=".411" stop-color="#d9ecf8"/><stop offset=".425" stop-color="#cee7f6"/><stop offset=".452" stop-color="#bde0f3"/><stop offset=".543" stop-color="#bde0f3"/><stop offset=".570" stop-color="#cee7f6"/><stop offset=".584" stop-color="#d9ecf8"/><stop offset=".597" stop-color="#e0eff9"/><stop offset=".611" stop-color="#e6f3fb"/><stop offset=".638" stop-color="#f0f7fd"/></linearGradient><linearGradient id="h135"><stop offset=".386" stop-color="#f1f8fd"/><stop offset=".409" stop-color="#e8f4fb"/><stop offset=".421" stop-color="#e3f1fa"/><stop offset=".432" stop-color="#dceef9"/><stop offset=".443" stop-color="#d5eaf7"/><stop offset=".466" stop-color="#c6e4f5"/><stop offset=".543" stop-color="#c6e4f5"/><stop offset=".566" stop-color="#d5eaf7"/><stop offset=".577" stop-color="#dceef9"/><stop offset=".589" stop-color="#e3f1fa"/><stop offset=".600" stop-color="#e8f4fb"/><stop offset=".623" stop-color="#f1f8fd"/></linearGradient><linearGradient id="h136"><stop offset=".375" stop-color="#edf6fc"/><stop offset=".401" stop-color="#e4f1fa"/><stop offset=".415" stop-color="#ddeef9"/><stop offset=".428" stop-color="#d4eaf7"/><stop offset=".441" stop-color="#c9e5f5"/><stop offset=".467" stop-color="#b8ddf3"/><stop offset=".556" stop-color="#b8ddf3"/><stop offset=".582" stop-color="#c9e5f5"/><stop offset=".595" stop-color="#d4eaf7"/><stop offset=".609" stop-color="#ddeef9"/><stop offset=".622" stop-color="#e4f1fa"/><stop offset=".648" stop-color="#edf6fc"/></linearGradient><linearGradient id="h137"><stop offset=".374" stop-color="#f0f7fd"/><stop offset=".399" stop-color="#e6f2fb"/><stop offset=".412" stop-color="#dfeff9"/><stop offset=".424" stop-color="#d7ebf8"/><stop offset=".437" stop-color="#cbe6f6"/><stop offset=".462" stop-color="#b9def3"/><stop offset=".546" stop-color="#b9def3"/><stop offset=".571" stop-color="#cbe6f6"/><stop offset=".584" stop-color="#d7ebf8"/><stop offset=".596" stop-color="#dfeff9"/><stop offset=".609" stop-color="#e6f2fb"/><stop offset=".634" stop-color="#f0f7fd"/></linearGradient><linearGradient id="h138"><stop offset=".356" stop-color="#f0f7fd"/><stop offset=".382" stop-color="#e7f3fb"/><stop offset=".395" stop-color="#e1f0fa"/><stop offset=".408" stop-color="#daecf8"/><stop offset=".421" stop-color="#d0e8f7"/><stop offset=".447" stop-color="#c0e1f4"/><stop offset=".534" stop-color="#c0e1f4"/><stop offset=".560" stop-color="#d0e8f7"/><stop offset=".573" stop-color="#daecf8"/><stop offset=".586" stop-color="#e1f0fa"/><stop offset=".599" stop-color="#e7f3fb"/><stop offset=".625" stop-color="#f0f7fd"/></linearGradient><linearGradient id="h139"><stop offset=".363" stop-color="#f0f8fd"/><stop offset=".390" stop-color="#e7f3fb"/><stop offset=".404" stop-color="#e1f0fa"/><stop offset=".418" stop-color="#daecf8"/><stop offset=".431" stop-color="#d0e8f6"/><stop offset=".459" stop-color="#bfe0f4"/><stop offset=".550" stop-color="#bfe0f4"/><stop offset=".578" stop-color="#d0e8f6"/><stop offset=".592" stop-color="#daecf8"/><stop offset=".605" stop-color="#e1f0fa"/><stop offset=".619" stop-color="#e7f3fb"/><stop offset=".646" stop-color="#f0f8fd"/></linearGradient><linearGradient id="h140"><stop offset=".361" stop-color="#eff7fd"/><stop offset=".388" stop-color="#e7f3fb"/><stop offset=".401" stop-color="#e1f0fa"/><stop offset=".414" stop-color="#dbedf8"/><stop offset=".427" stop-color="#d2e9f7"/><stop offset=".454" stop-color="#c2e2f4"/><stop offset=".541" stop-color="#c2e2f4"/><stop offset=".568" stop-color="#d2e9f7"/><stop offset=".581" stop-color="#dbedf8"/><stop offset=".594" stop-color="#e1f0fa"/><stop offset=".607" stop-color="#e7f3fb"/><stop offset=".634" stop-color="#eff7fd"/></linearGradient><linearGradient id="h141"><stop offset=".388" stop-color="#eff7fd"/><stop offset=".412" stop-color="#e7f3fb"/><stop offset=".424" stop-color="#e1f0fa"/><stop offset=".436" stop-color="#dbedf8"/><stop offset=".448" stop-color="#d3e9f7"/><stop offset=".472" stop-color="#c4e3f5"/><stop offset=".552" stop-color="#c4e3f5"/><stop offset=".576" stop-color="#d3e9f7"/><stop offset=".588" stop-color="#dbedf8"/><stop offset=".600" stop-color="#e1f0fa"/><stop offset=".612" stop-color="#e7f3fb"/><stop offset=".637" stop-color="#eff7fd"/></linearGradient><linearGradient id="h142"><stop offset=".378" stop-color="#eff7fd"/><stop offset=".402" stop-color="#e7f3fb"/><stop offset=".414" stop-color="#e1f0fa"/><stop offset=".426" stop-color="#daedf8"/><stop offset=".438" stop-color="#d2e9f7"/><stop offset=".461" stop-color="#c2e2f4"/><stop offset=".540" stop-color="#c2e2f4"/><stop offset=".564" stop-color="#d2e9f7"/><stop offset=".575" stop-color="#daedf8"/><stop offset=".587" stop-color="#e1f0fa"/><stop offset=".599" stop-color="#e7f3fb"/><stop offset=".623" stop-color="#eff7fd"/></linearGradient><linearGradient id="h143"><stop offset=".356" stop-color="#eff7fc"/><stop offset=".382" stop-color="#e8f4fb"/><stop offset=".395" stop-color="#e4f1fa"/><stop offset=".408" stop-color="#dfeff9"/><stop offset=".421" stop-color="#daedf8"/><stop offset=".447" stop-color="#cfe8f6"/><stop offset=".532" stop-color="#cfe8f6"/><stop offset=".558" stop-color="#daedf8"/><stop offset=".571" stop-color="#dfeff9"/><stop offset=".584" stop-color="#e4f1fa"/><stop offset=".597" stop-color="#e8f4fb"/><stop offset=".623" stop-color="#eff7fc"/></linearGradient><linearGradient id="h144"><stop offset=".382" stop-color="#f0f8fd"/><stop offset=".405" stop-color="#e9f4fb"/><stop offset=".416" stop-color="#e4f2fa"/><stop offset=".427" stop-color="#dfeff9"/><stop offset=".438" stop-color="#d9ecf8"/><stop offset=".461" stop-color="#cde7f6"/><stop offset=".536" stop-color="#cde7f6"/><stop offset=".558" stop-color="#d9ecf8"/><stop offset=".570" stop-color="#dfeff9"/><stop offset=".581" stop-color="#e4f2fa"/><stop offset=".592" stop-color="#e9f4fb"/><stop offset=".615" stop-color="#f0f8fd"/></linearGradient><linearGradient id="h145"><stop offset=".373" stop-color="#f0f8fd"/><stop offset=".398" stop-color="#e8f3fb"/><stop offset=".410" stop-color="#e2f1fa"/><stop offset=".423" stop-color="#dceef9"/><stop offset=".435" stop-color="#d5eaf7"/><stop offset=".460" stop-color="#c6e3f5"/><stop offset=".544" stop-color="#c6e3f5"/><stop offset=".569" stop-color="#d5eaf7"/><stop offset=".581" stop-color="#dceef9"/><stop offset=".594" stop-color="#e2f1fa"/><stop offset=".606" stop-color="#e8f3fb"/><stop offset=".631" stop-color="#f0f8fd"/></linearGradient><linearGradient id="h146"><stop offset=".361" stop-color="#eff7fd"/><stop offset=".388" stop-color="#e9f4fb"/><stop offset=".401" stop-color="#e4f2fa"/><stop offset=".415" stop-color="#dfeff9"/><stop offset=".428" stop-color="#dbedf8"/><stop offset=".455" stop-color="#cfe8f6"/><stop offset=".544" stop-color="#cfe8f6"/><stop offset=".571" stop-color="#dbedf8"/><stop offset=".584" stop-color="#dfeff9"/><stop offset=".598" stop-color="#e4f2fa"/><stop offset=".611" stop-color="#e9f4fb"/><stop offset=".638" stop-color="#eff7fd"/></linearGradient><linearGradient id="h147"><stop offset=".375" stop-color="#f1f8fd"/><stop offset=".399" stop-color="#eaf5fc"/><stop offset=".411" stop-color="#e6f2fb"/><stop offset=".423" stop-color="#e0f0fa"/><stop offset=".435" stop-color="#dbedf8"/><stop offset=".459" stop-color="#cfe8f6"/><stop offset=".540" stop-color="#cfe8f6"/><stop offset=".564" stop-color="#dbedf8"/><stop offset=".576" stop-color="#e0f0fa"/><stop offset=".588" stop-color="#e6f2fb"/><stop offset=".600" stop-color="#eaf5fc"/><stop offset=".624" stop-color="#f1f8fd"/></linearGradient><linearGradient id="h148"><stop offset=".381" stop-color="#eff7fd"/><stop offset=".407" stop-color="#e9f4fb"/><stop offset=".419" stop-color="#e4f2fa"/><stop offset=".432" stop-color="#e0eff9"/><stop offset=".445" stop-color="#dbedf8"/><stop offset=".470" stop-color="#cfe8f6"/><stop offset=".554" stop-color="#cfe8f6"/><stop offset=".580" stop-color="#dbedf8"/><stop offset=".593" stop-color="#e0eff9"/><stop offset=".605" stop-color="#e4f2fa"/><stop offset=".618" stop-color="#e9f4fb"/><stop offset=".643" stop-color="#eff7fd"/></linearGradient><linearGradient id="h149"><stop offset=".382" stop-color="#f1f8fd"/><stop offset=".406" stop-color="#ecf6fc"/><stop offset=".419" stop-color="#e9f4fb"/><stop offset=".431" stop-color="#e5f2fa"/><stop offset=".443" stop-color="#e1f0fa"/><stop offset=".468" stop-color="#dbedf8"/><stop offset=".549" stop-color="#dbedf8"/><stop offset=".573" stop-color="#e1f0fa"/><stop offset=".586" stop-color="#e5f2fa"/><stop offset=".598" stop-color="#e9f4fb"/><stop offset=".610" stop-color="#ecf6fc"/><stop offset=".635" stop-color="#f1f8fd"/></linearGradient><linearGradient id="h150"><stop offset=".361" stop-color="#eff7fd"/><stop offset=".386" stop-color="#eaf4fc"/><stop offset=".398" stop-color="#e6f2fb"/><stop offset=".410" stop-color="#e2f0fa"/><stop offset=".422" stop-color="#deeef9"/><stop offset=".447" stop-color="#d5eaf7"/><stop offset=".528" stop-color="#d5eaf7"/><stop offset=".552" stop-color="#deeef9"/><stop offset=".564" stop-color="#e2f0fa"/><stop offset=".577" stop-color="#e6f2fb"/><stop offset=".589" stop-color="#eaf4fc"/><stop offset=".613" stop-color="#eff7fd"/></linearGradient><linearGradient id="h151"><stop offset=".374" stop-color="#f1f8fd"/><stop offset=".399" stop-color="#ecf6fc"/><stop offset=".412" stop-color="#e9f4fb"/><stop offset=".425" stop-color="#e5f2fa"/><stop offset=".437" stop-color="#e1f0fa"/><stop offset=".463" stop-color="#daedf8"/><stop offset=".548" stop-color="#daedf8"/><stop offset=".574" stop-color="#e1f0fa"/><stop offset=".586" stop-color="#e5f2fa"/><stop offset=".599" stop-color="#e9f4fb"/><stop offset=".612" stop-color="#ecf6fc"/><stop offset=".637" stop-color="#f1f8fd"/></linearGradient><linearGradient id="h152"><stop offset=".397" stop-color="#f1f8fd"/><stop offset=".419" stop-color="#ecf6fc"/><stop offset=".431" stop-color="#e8f4fb"/><stop offset=".442" stop-color="#e4f2fa"/><stop offset=".453" stop-color="#e0f0f9"/><stop offset=".476" stop-color="#d9ecf8"/><stop offset=".550" stop-color="#d9ecf8"/><stop offset=".573" stop-color="#e0f0f9"/><stop offset=".584" stop-color="#e4f2fa"/><stop offset=".595" stop-color="#e8f4fb"/><stop offset=".606" stop-color="#ecf6fc"/><stop offset=".629" stop-color="#f1f8fd"/></linearGradient><linearGradient id="h153"><stop offset=".399" stop-color="#f1f8fd"/><stop offset=".422" stop-color="#ecf5fc"/><stop offset=".433" stop-color="#e9f4fb"/><stop offset=".444" stop-color="#e5f2fa"/><stop offset=".456" stop-color="#e1f0fa"/><stop offset=".478" stop-color="#dbedf8"/><stop offset=".554" stop-color="#dbedf8"/><stop offset=".576" stop-color="#e1f0fa"/><stop offset=".587" stop-color="#e5f2fa"/><stop offset=".599" stop-color="#e9f4fb"/><stop offset=".610" stop-color="#ecf5fc"/><stop offset=".632" stop-color="#f1f8fd"/></linearGradient><linearGradient id="h154"><stop offset=".376" stop-color="#f1f8fd"/><stop offset=".400" stop-color="#ecf6fc"/><stop offset=".413" stop-color="#e9f4fb"/><stop offset=".425" stop-color="#e6f2fb"/><stop offset=".437" stop-color="#e2f1fa"/><stop offset=".461" stop-color="#ddeef9"/><stop offset=".543" stop-color="#ddeef9"/><stop offset=".567" stop-color="#e2f1fa"/><stop offset=".579" stop-color="#e6f2fb"/><stop offset=".591" stop-color="#e9f4fb"/><stop offset=".604" stop-color="#ecf6fc"/><stop offset=".628" stop-color="#f1f8fd"/></linearGradient><linearGradient id="h155"><stop offset=".366" stop-color="#f2f9fd"/><stop offset=".392" stop-color="#eff7fd"/><stop offset=".404" stop-color="#ecf6fc"/><stop offset=".417" stop-color="#e9f4fb"/><stop offset=".430" stop-color="#e6f3fb"/><stop offset=".455" stop-color="#e1f0fa"/><stop offset=".541" stop-color="#e1f0fa"/><stop offset=".566" stop-color="#e6f3fb"/><stop offset=".579" stop-color="#e9f4fb"/><stop offset=".592" stop-color="#ecf6fc"/><stop offset=".604" stop-color="#eff7fd"/><stop offset=".630" stop-color="#f2f9fd"/></linearGradient><linearGradient id="h156"><stop offset=".406" stop-color="#f2f8fd"/><stop offset=".428" stop-color="#edf6fc"/><stop offset=".439" stop-color="#eaf4fb"/><stop offset=".450" stop-color="#e6f2fb"/><stop offset=".461" stop-color="#e2f1fa"/><stop offset=".484" stop-color="#dcedf9"/><stop offset=".558" stop-color="#dcedf9"/><stop offset=".580" stop-color="#e2f1fa"/><stop offset=".591" stop-color="#e6f2fb"/><stop offset=".602" stop-color="#eaf4fb"/><stop offset=".613" stop-color="#edf6fc"/><stop offset=".635" stop-color="#f2f8fd"/></linearGradient><linearGradient id="h157"><stop offset=".311" stop-color="#f0f7fd"/><stop offset=".347" stop-color="#bde0f3"/><stop offset=".365" stop-color="#5fb6e6"/><stop offset=".383" stop-color="#2589cd"/><stop offset=".401" stop-color="#165fa6"/><stop offset=".436" stop-color="#0b346f"/><stop offset=".555" stop-color="#0b346f"/><stop offset=".591" stop-color="#165fa6"/><stop offset=".609" stop-color="#2589cd"/><stop offset=".627" stop-color="#5fb6e6"/><stop offset=".644" stop-color="#bde0f3"/><stop offset=".680" stop-color="#f0f7fd"/></linearGradient><linearGradient id="h158"><stop offset=".299" stop-color="#f1f8fd"/><stop offset=".338" stop-color="#c4e3f5"/><stop offset=".357" stop-color="#6cbde9"/><stop offset=".376" stop-color="#2e94d4"/><stop offset=".396" stop-color="#1b6fb5"/><stop offset=".435" stop-color="#0e4588"/><stop offset=".564" stop-color="#0e4588"/><stop offset=".602" stop-color="#1b6fb5"/><stop offset=".622" stop-color="#2e94d4"/><stop offset=".641" stop-color="#6cbde9"/><stop offset=".660" stop-color="#c4e3f5"/><stop offset=".699" stop-color="#f1f8fd"/></linearGradient><linearGradient id="h159"><stop offset=".329" stop-color="#f2f8fd"/><stop offset=".364" stop-color="#c1e1f4"/><stop offset=".381" stop-color="#64b8e7"/><stop offset=".399" stop-color="#278dd0"/><stop offset=".417" stop-color="#1764ab"/><stop offset=".452" stop-color="#0c3876"/><stop offset=".569" stop-color="#0c3876"/><stop offset=".604" stop-color="#1764ab"/><stop offset=".622" stop-color="#278dd0"/><stop offset=".639" stop-color="#64b8e7"/><stop offset=".657" stop-color="#c1e1f4"/><stop offset=".692" stop-color="#f2f8fd"/></linearGradient><linearGradient id="h160"><stop offset=".316" stop-color="#f0f8fd"/><stop offset=".354" stop-color="#c3e2f4"/><stop offset=".374" stop-color="#6bbce8"/><stop offset=".393" stop-color="#2e94d4"/><stop offset=".412" stop-color="#1b70b6"/><stop offset=".451" stop-color="#0e4689"/><stop offset=".579" stop-color="#0e4689"/><stop offset=".618" stop-color="#1b70b6"/><stop offset=".637" stop-color="#2e94d4"/><stop offset=".657" stop-color="#6bbce8"/><stop offset=".676" stop-color="#c3e2f4"/><stop offset=".714" stop-color="#f0f8fd"/></linearGradient><linearGradient id="h161"><stop offset=".312" stop-color="#f2f8fd"/><stop offset=".347" stop-color="#c5e3f5"/><stop offset=".365" stop-color="#6cbde9"/><stop offset=".383" stop-color="#2e94d4"/><stop offset=".400" stop-color="#1b6fb5"/><stop offset=".436" stop-color="#0e4487"/><stop offset=".553" stop-color="#0e4487"/><stop offset=".589" stop-color="#1b6fb5"/><stop offset=".606" stop-color="#2e94d4"/><stop offset=".624" stop-color="#6cbde9"/><stop offset=".642" stop-color="#c5e3f5"/><stop offset=".677" stop-color="#f2f8fd"/></linearGradient><linearGradient id="h162"><stop offset=".326" stop-color="#f2f8fd"/><stop offset=".361" stop-color="#c2e2f4"/><stop offset=".378" stop-color="#66bae7"/><stop offset=".395" stop-color="#2a90d1"/><stop offset=".413" stop-color="#1968ae"/><stop offset=".447" stop-color="#0d3c7b"/><stop offset=".562" stop-color="#0d3c7b"/><stop offset=".597" stop-color="#1968ae"/><stop offset=".614" stop-color="#2a90d1"/><stop offset=".631" stop-color="#66bae7"/><stop offset=".648" stop-color="#c2e2f4"/><stop offset=".683" stop-color="#f2f8fd"/></linearGradient><linearGradient id="h163"><stop offset=".300" stop-color="#f2f8fd"/><stop offset=".335" stop-color="#c3e2f4"/><stop offset=".353" stop-color="#69bce8"/><stop offset=".371" stop-color="#2d93d3"/><stop offset=".389" stop-color="#1a6db3"/><stop offset=".424" stop-color="#0e4284"/><stop offset=".543" stop-color="#0e4284"/><stop offset=".578" stop-color="#1a6db3"/><stop offset=".596" stop-color="#2d93d3"/><stop offset=".614" stop-color="#69bce8"/><stop offset=".631" stop-color="#c3e2f4"/><stop offset=".667" stop-color="#f2f8fd"/></linearGradient><linearGradient id="h164"><stop offset=".316" stop-color="#f1f8fd"/><stop offset=".350" stop-color="#c1e1f4"/><stop offset=".367" stop-color="#67bbe8"/><stop offset=".385" stop-color="#2c92d3"/><stop offset=".402" stop-color="#1a6db3"/><stop offset=".436" stop-color="#0e4283"/><stop offset=".551" stop-color="#0e4283"/><stop offset=".585" stop-color="#1a6db3"/><stop offset=".602" stop-color="#2c92d3"/><stop offset=".620" stop-color="#67bbe8"/><stop offset=".637" stop-color="#c1e1f4"/><stop offset=".671" stop-color="#f1f8fd"/></linearGradient><linearGradient id="h165"><stop offset=".303" stop-color="#f2f9fd"/><stop offset=".340" stop-color="#cce6f6"/><stop offset=".358" stop-color="#81c6eb"/><stop offset=".377" stop-color="#3da2dc"/><stop offset=".395" stop-color="#2280c5"/><stop offset=".432" stop-color="#145ba2"/><stop offset=".554" stop-color="#145ba2"/><stop offset=".590" stop-color="#2280c5"/><stop offset=".609" stop-color="#3da2dc"/><stop offset=".627" stop-color="#81c6eb"/><stop offset=".645" stop-color="#cce6f6"/><stop offset=".682" stop-color="#f2f9fd"/></linearGradient><linearGradient id="h166"><stop offset=".320" stop-color="#f1f8fd"/><stop offset=".355" stop-color="#c9e5f5"/><stop offset=".373" stop-color="#7bc3ea"/><stop offset=".391" stop-color="#399fda"/><stop offset=".408" stop-color="#207dc1"/><stop offset=".444" stop-color="#12559d"/><stop offset=".562" stop-color="#12559d"/><stop offset=".598" stop-color="#207dc1"/><stop offset=".616" stop-color="#399fda"/><stop offset=".633" stop-color="#7bc3ea"/><stop offset=".651" stop-color="#c9e5f5"/><stop offset=".687" stop-color="#f1f8fd"/></linearGradient><linearGradient id="h167"><stop offset=".309" stop-color="#f1f8fd"/><stop offset=".346" stop-color="#c0e1f4"/><stop offset=".364" stop-color="#65b9e7"/><stop offset=".383" stop-color="#2a90d1"/><stop offset=".402" stop-color="#1969b0"/><stop offset=".439" stop-color="#0d3d7d"/><stop offset=".563" stop-color="#0d3d7d"/><stop offset=".601" stop-color="#1969b0"/><stop offset=".619" stop-color="#2a90d1"/><stop offset=".638" stop-color="#65b9e7"/><stop offset=".656" stop-color="#c0e1f4"/><stop offset=".694" stop-color="#f1f8fd"/></linearGradient><linearGradient id="h168"><stop offset=".297" stop-color="#f0f8fd"/><stop offset=".333" stop-color="#c7e4f5"/><stop offset=".351" stop-color="#7cc4eb"/><stop offset=".369" stop-color="#3ba0db"/><stop offset=".387" stop-color="#2180c4"/><stop offset=".422" stop-color="#145aa1"/><stop offset=".541" stop-color="#145aa1"/><stop offset=".577" stop-color="#2180c4"/><stop offset=".595" stop-color="#3ba0db"/><stop offset=".613" stop-color="#7cc4eb"/><stop offset=".631" stop-color="#c7e4f5"/><stop offset=".666" stop-color="#f0f8fd"/></linearGradient><linearGradient id="h169"><stop offset=".299" stop-color="#f0f7fd"/><stop offset=".337" stop-color="#bcdff3"/><stop offset=".356" stop-color="#60b6e6"/><stop offset=".375" stop-color="#268ccf"/><stop offset=".394" stop-color="#1763aa"/><stop offset=".431" stop-color="#0c3774"/><stop offset=".557" stop-color="#0c3774"/><stop offset=".595" stop-color="#1763aa"/><stop offset=".614" stop-color="#268ccf"/><stop offset=".633" stop-color="#60b6e6"/><stop offset=".652" stop-color="#bcdff3"/><stop offset=".690" stop-color="#f0f7fd"/></linearGradient><linearGradient id="h170"><stop offset=".318" stop-color="#f0f8fd"/><stop offset=".352" stop-color="#c9e5f5"/><stop offset=".369" stop-color="#80c5eb"/><stop offset=".386" stop-color="#3fa3dc"/><stop offset=".403" stop-color="#2383c7"/><stop offset=".437" stop-color="#165fa6"/><stop offset=".549" stop-color="#165fa6"/><stop offset=".583" stop-color="#2383c7"/><stop offset=".600" stop-color="#3fa3dc"/><stop offset=".617" stop-color="#80c5eb"/><stop offset=".634" stop-color="#c9e5f5"/><stop offset=".668" stop-color="#f0f8fd"/></linearGradient><linearGradient id="h171"><stop offset=".330" stop-color="#f1f8fd"/><stop offset=".363" stop-color="#c1e1f4"/><stop offset=".379" stop-color="#67bae8"/><stop offset=".395" stop-color="#2c92d3"/><stop offset=".412" stop-color="#1a6cb2"/><stop offset=".444" stop-color="#0e4081"/><stop offset=".554" stop-color="#0e4081"/><stop offset=".586" stop-color="#1a6cb2"/><stop offset=".603" stop-color="#2c92d3"/><stop offset=".619" stop-color="#67bae8"/><stop offset=".636" stop-color="#c1e1f4"/><stop offset=".668" stop-color="#f1f8fd"/></linearGradient><linearGradient id="h172"><stop offset=".306" stop-color="#f0f7fd"/><stop offset=".342" stop-color="#bfe0f4"/><stop offset=".359" stop-color="#67bae8"/><stop offset=".377" stop-color="#2d93d3"/><stop offset=".394" stop-color="#1b6fb5"/><stop offset=".430" stop-color="#0e4386"/><stop offset=".547" stop-color="#0e4386"/><stop offset=".582" stop-color="#1b6fb5"/><stop offset=".600" stop-color="#2d93d3"/><stop offset=".617" stop-color="#67bae8"/><stop offset=".635" stop-color="#bfe0f4"/><stop offset=".670" stop-color="#f0f7fd"/></linearGradient><linearGradient id="h173"><stop offset=".350" stop-color="#f1f8fd"/><stop offset=".382" stop-color="#c7e4f5"/><stop offset=".399" stop-color="#7bc3ea"/><stop offset=".415" stop-color="#399fdb"/><stop offset=".431" stop-color="#217ec2"/><stop offset=".463" stop-color="#13579e"/><stop offset=".571" stop-color="#13579e"/><stop offset=".603" stop-color="#217ec2"/><stop offset=".619" stop-color="#399fdb"/><stop offset=".636" stop-color="#7bc3ea"/><stop offset=".652" stop-color="#c7e4f5"/><stop offset=".684" stop-color="#f1f8fd"/></linearGradient><linearGradient id="h174"><stop offset=".330" stop-color="#eff7fd"/><stop offset=".363" stop-color="#c2e2f4"/><stop offset=".379" stop-color="#71bfe9"/><stop offset=".396" stop-color="#359bd8"/><stop offset=".412" stop-color="#1f79be"/><stop offset=".445" stop-color="#115098"/><stop offset=".555" stop-color="#115098"/><stop offset=".588" stop-color="#1f79be"/><stop offset=".605" stop-color="#359bd8"/><stop offset=".621" stop-color="#71bfe9"/><stop offset=".638" stop-color="#c2e2f4"/><stop offset=".671" stop-color="#eff7fd"/></linearGradient><linearGradient id="h175"><stop offset=".307" stop-color="#f0f7fd"/><stop offset=".343" stop-color="#c8e4f5"/><stop offset=".361" stop-color="#83c6eb"/><stop offset=".379" stop-color="#42a5dd"/><stop offset=".397" stop-color="#2486ca"/><stop offset=".433" stop-color="#1763aa"/><stop offset=".553" stop-color="#1763aa"/><stop offset=".589" stop-color="#2486ca"/><stop offset=".607" stop-color="#42a5dd"/><stop offset=".625" stop-color="#83c6eb"/><stop offset=".643" stop-color="#c8e4f5"/><stop offset=".679" stop-color="#f0f7fd"/></linearGradient><linearGradient id="h176"><stop offset=".344" stop-color="#eff7fd"/><stop offset=".375" stop-color="#c3e2f4"/><stop offset=".390" stop-color="#76c1ea"/><stop offset=".406" stop-color="#389eda"/><stop offset=".421" stop-color="#207dc1"/><stop offset=".451" stop-color="#12559d"/><stop offset=".553" stop-color="#12559d"/><stop offset=".584" stop-color="#207dc1"/><stop offset=".599" stop-color="#389eda"/><stop offset=".615" stop-color="#76c1ea"/><stop offset=".630" stop-color="#c3e2f4"/><stop offset=".661" stop-color="#eff7fd"/></linearGradient><linearGradient id="h177"><stop offset=".348" stop-color="#f0f7fd"/><stop offset=".382" stop-color="#c0e1f4"/><stop offset=".399" stop-color="#6cbde9"/><stop offset=".415" stop-color="#3298d6"/><stop offset=".432" stop-color="#1d75ba"/><stop offset=".466" stop-color="#0f4a90"/><stop offset=".577" stop-color="#0f4a90"/><stop offset=".611" stop-color="#1d75ba"/><stop offset=".628" stop-color="#3298d6"/><stop offset=".644" stop-color="#6cbde9"/><stop offset=".661" stop-color="#c0e1f4"/><stop offset=".695" stop-color="#f0f7fd"/></linearGradient><linearGradient id="h178"><stop offset=".325" stop-color="#f0f7fd"/><stop offset=".359" stop-color="#c5e3f5"/><stop offset=".375" stop-color="#7ac3ea"/><stop offset=".392" stop-color="#3ba0db"/><stop offset=".408" stop-color="#2180c4"/><stop offset=".441" stop-color="#145aa1"/><stop offset=".551" stop-color="#145aa1"/><stop offset=".584" stop-color="#2180c4"/><stop offset=".601" stop-color="#3ba0db"/><stop offset=".617" stop-color="#7ac3ea"/><stop offset=".634" stop-color="#c5e3f5"/><stop offset=".667" stop-color="#f0f7fd"/></linearGradient><linearGradient id="h179"><stop offset=".303" stop-color="#f0f7fd"/><stop offset=".339" stop-color="#c4e3f5"/><stop offset=".357" stop-color="#78c2ea"/><stop offset=".375" stop-color="#399fda"/><stop offset=".393" stop-color="#217ec3"/><stop offset=".429" stop-color="#13579e"/><stop offset=".550" stop-color="#13579e"/><stop offset=".586" stop-color="#217ec3"/><stop offset=".604" stop-color="#399fda"/><stop offset=".623" stop-color="#78c2ea"/><stop offset=".641" stop-color="#c4e3f5"/><stop offset=".677" stop-color="#f0f7fd"/></linearGradient><linearGradient id="h180"><stop offset=".325" stop-color="#f0f7fd"/><stop offset=".358" stop-color="#c7e4f5"/><stop offset=".375" stop-color="#81c6eb"/><stop offset=".391" stop-color="#41a4dd"/><stop offset=".408" stop-color="#2486c9"/><stop offset=".441" stop-color="#1762a9"/><stop offset=".551" stop-color="#1762a9"/><stop offset=".585" stop-color="#2486c9"/><stop offset=".601" stop-color="#41a4dd"/><stop offset=".618" stop-color="#81c6eb"/><stop offset=".634" stop-color="#c7e4f5"/><stop offset=".667" stop-color="#f0f7fd"/></linearGradient><linearGradient id="h181"><stop offset=".359" stop-color="#f1f8fd"/><stop offset=".389" stop-color="#cce6f6"/><stop offset=".404" stop-color="#8dcbed"/><stop offset=".418" stop-color="#4caae0"/><stop offset=".433" stop-color="#288ed0"/><stop offset=".463" stop-color="#1a6db3"/><stop offset=".561" stop-color="#1a6db3"/><stop offset=".590" stop-color="#288ed0"/><stop offset=".605" stop-color="#4caae0"/><stop offset=".620" stop-color="#8dcbed"/><stop offset=".635" stop-color="#cce6f6"/><stop offset=".664" stop-color="#f1f8fd"/></linearGradient><linearGradient id="h182"><stop offset=".314" stop-color="#f1f8fd"/><stop offset=".348" stop-color="#cae5f5"/><stop offset=".365" stop-color="#86c8ec"/><stop offset=".382" stop-color="#46a7de"/><stop offset=".398" stop-color="#2589cc"/><stop offset=".432" stop-color="#1866ac"/><stop offset=".544" stop-color="#1866ac"/><stop offset=".577" stop-color="#2589cc"/><stop offset=".594" stop-color="#46a7de"/><stop offset=".611" stop-color="#86c8ec"/><stop offset=".628" stop-color="#cae5f5"/><stop offset=".661" stop-color="#f1f8fd"/></linearGradient><linearGradient id="h183"><stop offset=".336" stop-color="#f1f8fd"/><stop offset=".366" stop-color="#cee7f6"/><stop offset=".381" stop-color="#94ceee"/><stop offset=".396" stop-color="#52aee2"/><stop offset=".411" stop-color="#2e94d4"/><stop offset=".440" stop-color="#1d74ba"/><stop offset=".540" stop-color="#1d74ba"/><stop offset=".569" stop-color="#2e94d4"/><stop offset=".584" stop-color="#52aee2"/><stop offset=".599" stop-color="#94ceee"/><stop offset=".614" stop-color="#cee7f6"/><stop offset=".644" stop-color="#f1f8fd"/></linearGradient><linearGradient id="h184"><stop offset=".339" stop-color="#eff7fd"/><stop offset=".372" stop-color="#c3e2f4"/><stop offset=".388" stop-color="#79c2ea"/><stop offset=".404" stop-color="#3ba1db"/><stop offset=".421" stop-color="#2281c5"/><stop offset=".453" stop-color="#145ba2"/><stop offset=".562" stop-color="#145ba2"/><stop offset=".595" stop-color="#2281c5"/><stop offset=".611" stop-color="#3ba1db"/><stop offset=".628" stop-color="#79c2ea"/><stop offset=".644" stop-color="#c3e2f4"/><stop offset=".677" stop-color="#eff7fd"/></linearGradient><linearGradient id="h185"><stop offset=".350" stop-color="#f1f8fd"/><stop offset=".380" stop-color="#cfe8f6"/><stop offset=".395" stop-color="#99d0ee"/><stop offset=".410" stop-color="#58b2e3"/><stop offset=".425" stop-color="#3399d7"/><stop offset=".454" stop-color="#207bc0"/><stop offset=".554" stop-color="#207bc0"/><stop offset=".584" stop-color="#3399d7"/><stop offset=".599" stop-color="#58b2e3"/><stop offset=".613" stop-color="#99d0ee"/><stop offset=".628" stop-color="#cfe8f6"/><stop offset=".658" stop-color="#f1f8fd"/></linearGradient><linearGradient id="h186"><stop offset=".341" stop-color="#eef7fc"/><stop offset=".371" stop-color="#c5e3f5"/><stop offset=".386" stop-color="#81c6eb"/><stop offset=".402" stop-color="#43a6de"/><stop offset=".417" stop-color="#2488cb"/><stop offset=".447" stop-color="#1865ac"/><stop offset=".549" stop-color="#1865ac"/><stop offset=".579" stop-color="#2488cb"/><stop offset=".594" stop-color="#43a6de"/><stop offset=".609" stop-color="#81c6eb"/><stop offset=".625" stop-color="#c5e3f5"/><stop offset=".655" stop-color="#eef7fc"/></linearGradient><linearGradient id="h187"><stop offset=".340" stop-color="#f1f8fd"/><stop offset=".371" stop-color="#c7e4f5"/><stop offset=".387" stop-color="#81c6eb"/><stop offset=".403" stop-color="#42a5dd"/><stop offset=".418" stop-color="#2486ca"/><stop offset=".450" stop-color="#1661a8"/><stop offset=".554" stop-color="#1661a8"/><stop offset=".585" stop-color="#2486ca"/><stop offset=".601" stop-color="#42a5dd"/><stop offset=".617" stop-color="#81c6eb"/><stop offset=".632" stop-color="#c7e4f5"/><stop offset=".663" stop-color="#f1f8fd"/></linearGradient><linearGradient id="h188"><stop offset=".347" stop-color="#f0f8fd"/><stop offset=".377" stop-color="#cfe7f6"/><stop offset=".392" stop-color="#99d0ee"/><stop offset=".407" stop-color="#59b2e4"/><stop offset=".422" stop-color="#349ad7"/><stop offset=".452" stop-color="#207cc1"/><stop offset=".552" stop-color="#207cc1"/><stop offset=".582" stop-color="#349ad7"/><stop offset=".597" stop-color="#59b2e4"/><stop offset=".612" stop-color="#99d0ee"/><stop offset=".627" stop-color="#cfe7f6"/><stop offset=".657" stop-color="#f0f8fd"/></linearGradient><linearGradient id="h189"><stop offset=".340" stop-color="#eff7fd"/><stop offset=".369" stop-color="#c8e4f5"/><stop offset=".384" stop-color="#89c9ec"/><stop offset=".398" stop-color="#4baae0"/><stop offset=".413" stop-color="#288ed0"/><stop offset=".442" stop-color="#1a6db3"/><stop offset=".539" stop-color="#1a6db3"/><stop offset=".568" stop-color="#288ed0"/><stop offset=".583" stop-color="#4baae0"/><stop offset=".597" stop-color="#89c9ec"/><stop offset=".612" stop-color="#c8e4f5"/><stop offset=".641" stop-color="#eff7fd"/></linearGradient><linearGradient id="h190"><stop offset=".347" stop-color="#f0f8fd"/><stop offset=".379" stop-color="#c9e5f5"/><stop offset=".394" stop-color="#88c9ec"/><stop offset=".410" stop-color="#49a9df"/><stop offset=".426" stop-color="#268ccf"/><stop offset=".457" stop-color="#1a6bb1"/><stop offset=".563" stop-color="#1a6bb1"/><stop offset=".594" stop-color="#268ccf"/><stop offset=".610" stop-color="#49a9df"/><stop offset=".626" stop-color="#88c9ec"/><stop offset=".642" stop-color="#c9e5f5"/><stop offset=".673" stop-color="#f0f8fd"/></linearGradient><linearGradient id="h191"><stop offset=".324" stop-color="#eff7fd"/><stop offset=".356" stop-color="#d1e9f7"/><stop offset=".373" stop-color="#a3d4f0"/><stop offset=".389" stop-color="#64b9e7"/><stop offset=".405" stop-color="#40a3dd"/><stop offset=".437" stop-color="#2589cc"/><stop offset=".545" stop-color="#2589cc"/><stop offset=".577" stop-color="#40a3dd"/><stop offset=".593" stop-color="#64b9e7"/><stop offset=".609" stop-color="#a3d4f0"/><stop offset=".625" stop-color="#d1e9f7"/><stop offset=".657" stop-color="#eff7fd"/></linearGradient><linearGradient id="h192"><stop offset=".332" stop-color="#f1f8fd"/><stop offset=".366" stop-color="#cde7f6"/><stop offset=".382" stop-color="#94ceee"/><stop offset=".399" stop-color="#54afe2"/><stop offset=".416" stop-color="#2f95d5"/><stop offset=".449" stop-color="#1e76bb"/><stop offset=".561" stop-color="#1e76bb"/><stop offset=".594" stop-color="#2f95d5"/><stop offset=".611" stop-color="#54afe2"/><stop offset=".627" stop-color="#94ceee"/><stop offset=".644" stop-color="#cde7f6"/><stop offset=".678" stop-color="#f1f8fd"/></linearGradient><linearGradient id="h193"><stop offset=".345" stop-color="#f1f8fd"/><stop offset=".376" stop-color="#d2e9f7"/><stop offset=".391" stop-color="#9fd3ef"/><stop offset=".406" stop-color="#5fb6e5"/><stop offset=".422" stop-color="#399fda"/><stop offset=".453" stop-color="#2281c6"/><stop offset=".556" stop-color="#2281c6"/><stop offset=".587" stop-color="#399fda"/><stop offset=".602" stop-color="#5fb6e5"/><stop offset=".618" stop-color="#9fd3ef"/><stop offset=".633" stop-color="#d2e9f7"/><stop offset=".664" stop-color="#f1f8fd"/></linearGradient><linearGradient id="h194"><stop offset=".342" stop-color="#eff7fd"/><stop offset=".375" stop-color="#c9e5f5"/><stop offset=".391" stop-color="#8fcced"/><stop offset=".407" stop-color="#51ade1"/><stop offset=".424" stop-color="#2e94d4"/><stop offset=".456" stop-color="#1d74ba"/><stop offset=".565" stop-color="#1d74ba"/><stop offset=".597" stop-color="#2e94d4"/><stop offset=".614" stop-color="#51ade1"/><stop offset=".630" stop-color="#8fcced"/><stop offset=".646" stop-color="#c9e5f5"/><stop offset=".679" stop-color="#eff7fd"/></linearGradient><linearGradient id="h195"><stop offset=".323" stop-color="#eff7fd"/><stop offset=".355" stop-color="#c9e5f5"/><stop offset=".371" stop-color="#8ecbed"/><stop offset=".386" stop-color="#51ade1"/><stop offset=".402" stop-color="#2e94d4"/><stop offset=".434" stop-color="#1d74b9"/><stop offset=".540" stop-color="#1d74b9"/><stop offset=".572" stop-color="#2e94d4"/><stop offset=".587" stop-color="#51ade1"/><stop offset=".603" stop-color="#8ecbed"/><stop offset=".619" stop-color="#c9e5f5"/><stop offset=".651" stop-color="#eff7fd"/></linearGradient><linearGradient id="h196"><stop offset=".340" stop-color="#f1f8fd"/><stop offset=".368" stop-color="#c8e5f5"/><stop offset=".382" stop-color="#89c9ec"/><stop offset=".396" stop-color="#4aaae0"/><stop offset=".410" stop-color="#288ed0"/><stop offset=".438" stop-color="#1a6cb2"/><stop offset=".533" stop-color="#1a6cb2"/><stop offset=".561" stop-color="#288ed0"/><stop offset=".575" stop-color="#4aaae0"/><stop offset=".589" stop-color="#89c9ec"/><stop offset=".603" stop-color="#c8e5f5"/><stop offset=".631" stop-color="#f1f8fd"/></linearGradient><linearGradient id="h197"><stop offset=".343" stop-color="#f1f8fd"/><stop offset=".373" stop-color="#d5eaf7"/><stop offset=".389" stop-color="#acd8f1"/><stop offset=".404" stop-color="#6dbde9"/><stop offset=".420" stop-color="#48a9df"/><stop offset=".450" stop-color="#298fd1"/><stop offset=".553" stop-color="#298fd1"/><stop offset=".584" stop-color="#48a9df"/><stop offset=".599" stop-color="#6dbde9"/><stop offset=".615" stop-color="#acd8f1"/><stop offset=".630" stop-color="#d5eaf7"/><stop offset=".661" stop-color="#f1f8fd"/></linearGradient><linearGradient id="h198"><stop offset=".331" stop-color="#f1f8fd"/><stop offset=".363" stop-color="#d3e9f7"/><stop offset=".378" stop-color="#a5d5f0"/><stop offset=".394" stop-color="#65b9e7"/><stop offset=".410" stop-color="#40a4dd"/><stop offset=".442" stop-color="#2488cb"/><stop offset=".547" stop-color="#2488cb"/><stop offset=".579" stop-color="#40a4dd"/><stop offset=".595" stop-color="#65b9e7"/><stop offset=".610" stop-color="#a5d5f0"/><stop offset=".626" stop-color="#d3e9f7"/><stop offset=".658" stop-color="#f1f8fd"/></linearGradient><linearGradient id="h199"><stop offset=".360" stop-color="#f1f8fd"/><stop offset=".388" stop-color="#d4eaf7"/><stop offset=".402" stop-color="#abd8f1"/><stop offset=".416" stop-color="#6dbde9"/><stop offset=".430" stop-color="#49a9df"/><stop offset=".459" stop-color="#298fd1"/><stop offset=".553" stop-color="#298fd1"/><stop offset=".581" stop-color="#49a9df"/><stop offset=".595" stop-color="#6dbde9"/><stop offset=".609" stop-color="#abd8f1"/><stop offset=".623" stop-color="#d4eaf7"/><stop offset=".652" stop-color="#f1f8fd"/></linearGradient><linearGradient id="h200"><stop offset=".328" stop-color="#eff7fd"/><stop offset=".359" stop-color="#cce6f6"/><stop offset=".375" stop-color="#98cfee"/><stop offset=".391" stop-color="#5ab3e4"/><stop offset=".407" stop-color="#359bd8"/><stop offset=".439" stop-color="#207dc2"/><stop offset=".544" stop-color="#207dc2"/><stop offset=".576" stop-color="#359bd8"/><stop offset=".592" stop-color="#5ab3e4"/><stop offset=".608" stop-color="#98cfee"/><stop offset=".624" stop-color="#cce6f6"/><stop offset=".655" stop-color="#eff7fd"/></linearGradient><linearGradient id="h201"><stop offset=".319" stop-color="#f1f8fd"/><stop offset=".353" stop-color="#cee7f6"/><stop offset=".370" stop-color="#9bd1ef"/><stop offset=".387" stop-color="#5cb4e4"/><stop offset=".404" stop-color="#369cd9"/><stop offset=".439" stop-color="#217ec3"/><stop offset=".553" stop-color="#217ec3"/><stop offset=".587" stop-color="#369cd9"/><stop offset=".604" stop-color="#5cb4e4"/><stop offset=".621" stop-color="#9bd1ef"/><stop offset=".638" stop-color="#cee7f6"/><stop offset=".672" stop-color="#f1f8fd"/></linearGradient><linearGradient id="h202"><stop offset=".359" stop-color="#f0f7fd"/><stop offset=".386" stop-color="#d0e8f7"/><stop offset=".400" stop-color="#a2d4f0"/><stop offset=".413" stop-color="#63b8e7"/><stop offset=".427" stop-color="#3fa3dd"/><stop offset=".454" stop-color="#2487cb"/><stop offset=".544" stop-color="#2487cb"/><stop offset=".571" stop-color="#3fa3dd"/><stop offset=".585" stop-color="#63b8e7"/><stop offset=".598" stop-color="#a2d4f0"/><stop offset=".612" stop-color="#d0e8f7"/><stop offset=".639" stop-color="#f0f7fd"/></linearGradient><linearGradient id="h203"><stop offset=".365" stop-color="#eef6fc"/><stop offset=".393" stop-color="#cee7f6"/><stop offset=".407" stop-color="#9ed2ef"/><stop offset=".421" stop-color="#61b7e6"/><stop offset=".435" stop-color="#3da2dc"/><stop offset=".463" stop-color="#2486ca"/><stop offset=".557" stop-color="#2486ca"/><stop offset=".585" stop-color="#3da2dc"/><stop offset=".599" stop-color="#61b7e6"/><stop offset=".613" stop-color="#9ed2ef"/><stop offset=".627" stop-color="#cee7f6"/><stop offset=".655" stop-color="#eef6fc"/></linearGradient><linearGradient id="h204"><stop offset=".329" stop-color="#eff7fd"/><stop offset=".359" stop-color="#d2e9f7"/><stop offset=".375" stop-color="#a9d7f0"/><stop offset=".390" stop-color="#6dbde9"/><stop offset=".406" stop-color="#4aa9df"/><stop offset=".436" stop-color="#2a90d1"/><stop offset=".539" stop-color="#2a90d1"/><stop offset=".570" stop-color="#4aa9df"/><stop offset=".585" stop-color="#6dbde9"/><stop offset=".601" stop-color="#a9d7f0"/><stop offset=".616" stop-color="#d2e9f7"/><stop offset=".647" stop-color="#eff7fd"/></linearGradient><linearGradient id="h205"><stop offset=".350" stop-color="#f0f8fd"/><stop offset=".379" stop-color="#d2e9f7"/><stop offset=".393" stop-color="#a8d6f0"/><stop offset=".407" stop-color="#69bce8"/><stop offset=".421" stop-color="#47a7df"/><stop offset=".450" stop-color="#278dd0"/><stop offset=".544" stop-color="#278dd0"/><stop offset=".573" stop-color="#47a7df"/><stop offset=".587" stop-color="#69bce8"/><stop offset=".601" stop-color="#a8d6f0"/><stop offset=".615" stop-color="#d2e9f7"/><stop offset=".644" stop-color="#f0f8fd"/></linearGradient><linearGradient id="h206"><stop offset=".364" stop-color="#f0f8fd"/><stop offset=".392" stop-color="#d1e9f7"/><stop offset=".406" stop-color="#a5d5f0"/><stop offset=".419" stop-color="#66bae7"/><stop offset=".433" stop-color="#43a5dd"/><stop offset=".461" stop-color="#258acd"/><stop offset=".554" stop-color="#258acd"/><stop offset=".582" stop-color="#43a5dd"/><stop offset=".596" stop-color="#66bae7"/><stop offset=".610" stop-color="#a5d5f0"/><stop offset=".624" stop-color="#d1e9f7"/><stop offset=".652" stop-color="#f0f8fd"/></linearGradient><linearGradient id="h207"><stop offset=".346" stop-color="#f0f8fd"/><stop offset=".375" stop-color="#d3e9f7"/><stop offset=".390" stop-color="#a9d7f0"/><stop offset=".405" stop-color="#6bbce8"/><stop offset=".419" stop-color="#48a8df"/><stop offset=".449" stop-color="#288ed0"/><stop offset=".546" stop-color="#288ed0"/><stop offset=".575" stop-color="#48a8df"/><stop offset=".590" stop-color="#6bbce8"/><stop offset=".605" stop-color="#a9d7f0"/><stop offset=".619" stop-color="#d3e9f7"/><stop offset=".648" stop-color="#f0f8fd"/></linearGradient><linearGradient id="h208"><stop offset=".351" stop-color="#f0f7fd"/><stop offset=".382" stop-color="#d1e8f7"/><stop offset=".397" stop-color="#a5d5f0"/><stop offset=".413" stop-color="#67bae8"/><stop offset=".428" stop-color="#45a6de"/><stop offset=".459" stop-color="#268bce"/><stop offset=".561" stop-color="#268bce"/><stop offset=".592" stop-color="#45a6de"/><stop offset=".607" stop-color="#67bae8"/><stop offset=".622" stop-color="#a5d5f0"/><stop offset=".638" stop-color="#d1e8f7"/><stop offset=".668" stop-color="#f0f7fd"/></linearGradient><linearGradient id="h209"><stop offset=".343" stop-color="#f0f8fd"/><stop offset=".373" stop-color="#d5eaf7"/><stop offset=".388" stop-color="#afd9f1"/><stop offset=".403" stop-color="#75c0ea"/><stop offset=".418" stop-color="#50ade1"/><stop offset=".448" stop-color="#2e94d4"/><stop offset=".549" stop-color="#2e94d4"/><stop offset=".579" stop-color="#50ade1"/><stop offset=".594" stop-color="#75c0ea"/><stop offset=".609" stop-color="#afd9f1"/><stop offset=".624" stop-color="#d5eaf7"/><stop offset=".654" stop-color="#f0f8fd"/></linearGradient><linearGradient id="h210"><stop offset=".350" stop-color="#f1f8fd"/><stop offset=".379" stop-color="#d6ebf7"/><stop offset=".394" stop-color="#b0daf1"/><stop offset=".408" stop-color="#76c1ea"/><stop offset=".423" stop-color="#50ade1"/><stop offset=".452" stop-color="#2f95d4"/><stop offset=".549" stop-color="#2f95d4"/><stop offset=".579" stop-color="#50ade1"/><stop offset=".593" stop-color="#76c1ea"/><stop offset=".608" stop-color="#b0daf1"/><stop offset=".623" stop-color="#d6ebf7"/><stop offset=".652" stop-color="#f1f8fd"/></linearGradient><linearGradient id="h211"><stop offset=".357" stop-color="#f0f8fd"/><stop offset=".387" stop-color="#d7ebf8"/><stop offset=".401" stop-color="#b6ddf2"/><stop offset=".416" stop-color="#81c6eb"/><stop offset=".431" stop-color="#5ab3e4"/><stop offset=".460" stop-color="#379dd9"/><stop offset=".558" stop-color="#379dd9"/><stop offset=".587" stop-color="#5ab3e4"/><stop offset=".602" stop-color="#81c6eb"/><stop offset=".616" stop-color="#b6ddf2"/><stop offset=".631" stop-color="#d7ebf8"/><stop offset=".660" stop-color="#f0f8fd"/></linearGradient><linearGradient id="h212"><stop offset=".353" stop-color="#f0f7fd"/><stop offset=".383" stop-color="#d6ebf7"/><stop offset=".397" stop-color="#b3dbf2"/><stop offset=".412" stop-color="#7dc4eb"/><stop offset=".426" stop-color="#56b0e3"/><stop offset=".456" stop-color="#349ad7"/><stop offset=".553" stop-color="#349ad7"/><stop offset=".582" stop-color="#56b0e3"/><stop offset=".597" stop-color="#7dc4eb"/><stop offset=".611" stop-color="#b3dbf2"/><stop offset=".626" stop-color="#d6ebf7"/><stop offset=".655" stop-color="#f0f7fd"/></linearGradient><linearGradient id="h213"><stop offset=".354" stop-color="#eff7fd"/><stop offset=".382" stop-color="#cee7f6"/><stop offset=".396" stop-color="#a0d3ef"/><stop offset=".410" stop-color="#63b8e7"/><stop offset=".425" stop-color="#3fa3dc"/><stop offset=".453" stop-color="#2487ca"/><stop offset=".548" stop-color="#2487ca"/><stop offset=".576" stop-color="#3fa3dc"/><stop offset=".591" stop-color="#63b8e7"/><stop offset=".605" stop-color="#a0d3ef"/><stop offset=".619" stop-color="#cee7f6"/><stop offset=".648" stop-color="#eff7fd"/></linearGradient><linearGradient id="h214"><stop offset=".351" stop-color="#eff7fd"/><stop offset=".379" stop-color="#d2e9f7"/><stop offset=".393" stop-color="#a9d7f0"/><stop offset=".408" stop-color="#6ebee9"/><stop offset=".422" stop-color="#4baae0"/><stop offset=".450" stop-color="#2a90d1"/><stop offset=".545" stop-color="#2a90d1"/><stop offset=".573" stop-color="#4baae0"/><stop offset=".587" stop-color="#6ebee9"/><stop offset=".601" stop-color="#a9d7f0"/><stop offset=".616" stop-color="#d2e9f7"/><stop offset=".644" stop-color="#eff7fd"/></linearGradient><linearGradient id="h215"><stop offset=".340" stop-color="#eff7fd"/><stop offset=".369" stop-color="#d5eaf7"/><stop offset=".384" stop-color="#b4dcf2"/><stop offset=".399" stop-color="#7fc5eb"/><stop offset=".413" stop-color="#58b2e3"/><stop offset=".443" stop-color="#359bd8"/><stop offset=".541" stop-color="#359bd8"/><stop offset=".570" stop-color="#58b2e3"/><stop offset=".585" stop-color="#7fc5eb"/><stop offset=".599" stop-color="#b4dcf2"/><stop offset=".614" stop-color="#d5eaf7"/><stop offset=".644" stop-color="#eff7fd"/></linearGradient><linearGradient id="h216"><stop offset=".356" stop-color="#f1f8fd"/><stop offset=".384" stop-color="#d5eaf7"/><stop offset=".398" stop-color="#afdaf1"/><stop offset=".411" stop-color="#76c1ea"/><stop offset=".425" stop-color="#51ade1"/><stop offset=".453" stop-color="#2f95d4"/><stop offset=".545" stop-color="#2f95d4"/><stop offset=".572" stop-color="#51ade1"/><stop offset=".586" stop-color="#76c1ea"/><stop offset=".600" stop-color="#afdaf1"/><stop offset=".613" stop-color="#d5eaf7"/><stop offset=".641" stop-color="#f1f8fd"/></linearGradient><linearGradient id="h217"><stop offset=".341" stop-color="#eef7fc"/><stop offset=".370" stop-color="#d5eaf7"/><stop offset=".385" stop-color="#b6dcf2"/><stop offset=".400" stop-color="#84c7ec"/><stop offset=".414" stop-color="#5cb4e5"/><stop offset=".443" stop-color="#399fdb"/><stop offset=".540" stop-color="#399fdb"/><stop offset=".570" stop-color="#5cb4e5"/><stop offset=".584" stop-color="#84c7ec"/><stop offset=".599" stop-color="#b6dcf2"/><stop offset=".613" stop-color="#d5eaf7"/><stop offset=".642" stop-color="#eef7fc"/></linearGradient><linearGradient id="h218"><stop offset=".347" stop-color="#eef7fc"/><stop offset=".373" stop-color="#d3e9f7"/><stop offset=".385" stop-color="#b0daf1"/><stop offset=".398" stop-color="#7ac3ea"/><stop offset=".411" stop-color="#55b0e3"/><stop offset=".436" stop-color="#3399d7"/><stop offset=".521" stop-color="#3399d7"/><stop offset=".546" stop-color="#55b0e3"/><stop offset=".559" stop-color="#7ac3ea"/><stop offset=".572" stop-color="#b0daf1"/><stop offset=".585" stop-color="#d3e9f7"/><stop offset=".610" stop-color="#eef7fc"/></linearGradient><linearGradient id="h219"><stop offset=".345" stop-color="#edf6fc"/><stop offset=".374" stop-color="#cfe7f6"/><stop offset=".389" stop-color="#a6d6f0"/><stop offset=".404" stop-color="#6cbde9"/><stop offset=".418" stop-color="#4aa9e0"/><stop offset=".448" stop-color="#2a90d1"/><stop offset=".546" stop-color="#2a90d1"/><stop offset=".576" stop-color="#4aa9e0"/><stop offset=".591" stop-color="#6cbde9"/><stop offset=".606" stop-color="#a6d6f0"/><stop offset=".620" stop-color="#cfe7f6"/><stop offset=".650" stop-color="#edf6fc"/></linearGradient><linearGradient id="h220"><stop offset=".346" stop-color="#f0f8fd"/><stop offset=".377" stop-color="#dceef9"/><stop offset=".392" stop-color="#c4e3f4"/><stop offset=".408" stop-color="#a0d3ef"/><stop offset=".423" stop-color="#79c2ea"/><stop offset=".454" stop-color="#54afe2"/><stop offset=".557" stop-color="#54afe2"/><stop offset=".588" stop-color="#79c2ea"/><stop offset=".603" stop-color="#a0d3ef"/><stop offset=".619" stop-color="#c4e3f4"/><stop offset=".634" stop-color="#dceef9"/><stop offset=".665" stop-color="#f0f8fd"/></linearGradient><linearGradient id="h221"><stop offset=".362" stop-color="#f0f7fd"/><stop offset=".391" stop-color="#d9ecf8"/><stop offset=".405" stop-color="#badef3"/><stop offset=".419" stop-color="#8ccaed"/><stop offset=".433" stop-color="#62b8e6"/><stop offset=".462" stop-color="#3fa3dc"/><stop offset=".556" stop-color="#3fa3dc"/><stop offset=".585" stop-color="#62b8e6"/><stop offset=".599" stop-color="#8ccaed"/><stop offset=".613" stop-color="#badef3"/><stop offset=".627" stop-color="#d9ecf8"/><stop offset=".656" stop-color="#f0f7fd"/></linearGradient><linearGradient id="h222"><stop offset=".361" stop-color="#f1f8fd"/><stop offset=".388" stop-color="#daedf8"/><stop offset=".402" stop-color="#bde0f3"/><stop offset=".416" stop-color="#91cced"/><stop offset=".430" stop-color="#66bae7"/><stop offset=".458" stop-color="#44a6de"/><stop offset=".551" stop-color="#44a6de"/><stop offset=".578" stop-color="#66bae7"/><stop offset=".592" stop-color="#91cced"/><stop offset=".606" stop-color="#bde0f3"/><stop offset=".620" stop-color="#daedf8"/><stop offset=".648" stop-color="#f1f8fd"/></linearGradient><linearGradient id="h223"><stop offset=".378" stop-color="#edf6fc"/><stop offset=".404" stop-color="#d4eaf7"/><stop offset=".417" stop-color="#b5dcf2"/><stop offset=".430" stop-color="#84c7ec"/><stop offset=".443" stop-color="#5db5e5"/><stop offset=".468" stop-color="#3aa0db"/><stop offset=".555" stop-color="#3aa0db"/><stop offset=".580" stop-color="#5db5e5"/><stop offset=".593" stop-color="#84c7ec"/><stop offset=".606" stop-color="#b5dcf2"/><stop offset=".619" stop-color="#d4eaf7"/><stop offset=".645" stop-color="#edf6fc"/></linearGradient><linearGradient id="h224"><stop offset=".361" stop-color="#eff7fd"/><stop offset=".390" stop-color="#d8ecf8"/><stop offset=".404" stop-color="#bbdff3"/><stop offset=".418" stop-color="#90cced"/><stop offset=".433" stop-color="#66bae7"/><stop offset=".462" stop-color="#44a6de"/><stop offset=".557" stop-color="#44a6de"/><stop offset=".586" stop-color="#66bae7"/><stop offset=".601" stop-color="#90cced"/><stop offset=".615" stop-color="#bbdff3"/><stop offset=".629" stop-color="#d8ecf8"/><stop offset=".658" stop-color="#eff7fd"/></linearGradient><linearGradient id="h225"><stop offset=".354" stop-color="#eef7fc"/><stop offset=".383" stop-color="#dcedf9"/><stop offset=".397" stop-color="#c5e3f5"/><stop offset=".412" stop-color="#a6d6f0"/><stop offset=".427" stop-color="#82c6eb"/><stop offset=".456" stop-color="#5cb4e5"/><stop offset=".553" stop-color="#5cb4e5"/><stop offset=".582" stop-color="#82c6eb"/><stop offset=".597" stop-color="#a6d6f0"/><stop offset=".611" stop-color="#c5e3f5"/><stop offset=".626" stop-color="#dcedf9"/><stop offset=".655" stop-color="#eef7fc"/></linearGradient><linearGradient id="h226"><stop offset=".358" stop-color="#f0f7fd"/><stop offset=".386" stop-color="#daecf8"/><stop offset=".400" stop-color="#bde0f3"/><stop offset=".414" stop-color="#93ceee"/><stop offset=".428" stop-color="#68bbe8"/><stop offset=".456" stop-color="#47a8df"/><stop offset=".550" stop-color="#47a8df"/><stop offset=".578" stop-color="#68bbe8"/><stop offset=".592" stop-color="#93ceee"/><stop offset=".607" stop-color="#bde0f3"/><stop offset=".621" stop-color="#daecf8"/><stop offset=".649" stop-color="#f0f7fd"/></linearGradient><linearGradient id="h227"><stop offset=".346" stop-color="#eef6fc"/><stop offset=".374" stop-color="#d6ebf8"/><stop offset=".389" stop-color="#b9def3"/><stop offset=".403" stop-color="#8dcbed"/><stop offset=".417" stop-color="#64b9e7"/><stop offset=".445" stop-color="#42a5dd"/><stop offset=".539" stop-color="#42a5dd"/><stop offset=".568" stop-color="#64b9e7"/><stop offset=".582" stop-color="#8dcbed"/><stop offset=".596" stop-color="#b9def3"/><stop offset=".610" stop-color="#d6ebf8"/><stop offset=".638" stop-color="#eef6fc"/></linearGradient><linearGradient id="h228"><stop offset=".358" stop-color="#f0f8fd"/><stop offset=".388" stop-color="#daecf8"/><stop offset=".403" stop-color="#bee0f3"/><stop offset=".418" stop-color="#93ceee"/><stop offset=".433" stop-color="#68bbe8"/><stop offset=".462" stop-color="#47a7df"/><stop offset=".562" stop-color="#47a7df"/><stop offset=".592" stop-color="#68bbe8"/><stop offset=".607" stop-color="#93ceee"/><stop offset=".622" stop-color="#bee0f3"/><stop offset=".637" stop-color="#daecf8"/><stop offset=".666" stop-color="#f0f8fd"/></linearGradient><linearGradient id="h229"><stop offset=".352" stop-color="#f0f7fd"/><stop offset=".382" stop-color="#dbedf8"/><stop offset=".397" stop-color="#c2e2f4"/><stop offset=".412" stop-color="#9dd2ef"/><stop offset=".427" stop-color="#75c1ea"/><stop offset=".457" stop-color="#51ade1"/><stop offset=".557" stop-color="#51ade1"/><stop offset=".587" stop-color="#75c1ea"/><stop offset=".602" stop-color="#9dd2ef"/><stop offset=".617" stop-color="#c2e2f4"/><stop offset=".632" stop-color="#dbedf8"/><stop offset=".662" stop-color="#f0f7fd"/></linearGradient><linearGradient id="h230"><stop offset=".330" stop-color="#f0f8fd"/><stop offset=".359" stop-color="#dceef9"/><stop offset=".374" stop-color="#c5e3f5"/><stop offset=".389" stop-color="#a4d5f0"/><stop offset=".404" stop-color="#7ec4eb"/><stop offset=".433" stop-color="#58b1e3"/><stop offset=".531" stop-color="#58b1e3"/><stop offset=".561" stop-color="#7ec4eb"/><stop offset=".575" stop-color="#a4d5f0"/><stop offset=".590" stop-color="#c5e3f5"/><stop offset=".605" stop-color="#dceef9"/><stop offset=".634" stop-color="#f0f8fd"/></linearGradient><linearGradient id="h231"><stop offset=".359" stop-color="#eff7fd"/><stop offset=".386" stop-color="#ddeef9"/><stop offset=".399" stop-color="#c7e4f5"/><stop offset=".413" stop-color="#a9d7f0"/><stop offset=".426" stop-color="#85c8ec"/><stop offset=".453" stop-color="#5eb5e5"/><stop offset=".542" stop-color="#5eb5e5"/><stop offset=".569" stop-color="#85c8ec"/><stop offset=".582" stop-color="#a9d7f0"/><stop offset=".596" stop-color="#c7e4f5"/><stop offset=".609" stop-color="#ddeef9"/><stop offset=".636" stop-color="#eff7fd"/></linearGradient><linearGradient id="h232"><stop offset=".348" stop-color="#f1f8fd"/><stop offset=".375" stop-color="#dceef9"/><stop offset=".389" stop-color="#c4e3f5"/><stop offset=".402" stop-color="#a2d4f0"/><stop offset=".416" stop-color="#7cc3eb"/><stop offset=".443" stop-color="#55b0e3"/><stop offset=".533" stop-color="#55b0e3"/><stop offset=".560" stop-color="#7cc3eb"/><stop offset=".573" stop-color="#a2d4f0"/><stop offset=".587" stop-color="#c4e3f5"/><stop offset=".600" stop-color="#dceef9"/><stop offset=".627" stop-color="#f1f8fd"/></linearGradient><linearGradient id="h233"><stop offset=".347" stop-color="#eff7fd"/><stop offset=".375" stop-color="#dbedf8"/><stop offset=".389" stop-color="#c3e2f4"/><stop offset=".403" stop-color="#a0d3ef"/><stop offset=".417" stop-color="#7ac3ea"/><stop offset=".445" stop-color="#55b0e3"/><stop offset=".539" stop-color="#55b0e3"/><stop offset=".567" stop-color="#7ac3ea"/><stop offset=".581" stop-color="#a0d3ef"/><stop offset=".595" stop-color="#c3e2f4"/><stop offset=".609" stop-color="#dbedf8"/><stop offset=".637" stop-color="#eff7fd"/></linearGradient><linearGradient id="h234"><stop offset=".375" stop-color="#f1f8fd"/><stop offset=".401" stop-color="#dfeff9"/><stop offset=".414" stop-color="#cbe6f6"/><stop offset=".427" stop-color="#b1daf1"/><stop offset=".440" stop-color="#8ecbed"/><stop offset=".466" stop-color="#64b9e7"/><stop offset=".552" stop-color="#64b9e7"/><stop offset=".578" stop-color="#8ecbed"/><stop offset=".591" stop-color="#b1daf1"/><stop offset=".604" stop-color="#cbe6f6"/><stop offset=".617" stop-color="#dfeff9"/><stop offset=".642" stop-color="#f1f8fd"/></linearGradient><linearGradient id="h235"><stop offset=".368" stop-color="#f1f8fd"/><stop offset=".394" stop-color="#dceef9"/><stop offset=".407" stop-color="#c5e3f5"/><stop offset=".421" stop-color="#a4d5f0"/><stop offset=".434" stop-color="#7ec4eb"/><stop offset=".461" stop-color="#57b1e3"/><stop offset=".549" stop-color="#57b1e3"/><stop offset=".576" stop-color="#7ec4eb"/><stop offset=".589" stop-color="#a4d5f0"/><stop offset=".602" stop-color="#c5e3f5"/><stop offset=".615" stop-color="#dceef9"/><stop offset=".642" stop-color="#f1f8fd"/></linearGradient><linearGradient id="h236"><stop offset=".338" stop-color="#f0f7fd"/><stop offset=".368" stop-color="#ddeef9"/><stop offset=".382" stop-color="#c8e4f5"/><stop offset=".397" stop-color="#aad7f1"/><stop offset=".412" stop-color="#87c8ec"/><stop offset=".441" stop-color="#5fb6e5"/><stop offset=".539" stop-color="#5fb6e5"/><stop offset=".568" stop-color="#87c8ec"/><stop offset=".583" stop-color="#aad7f1"/><stop offset=".597" stop-color="#c8e4f5"/><stop offset=".612" stop-color="#ddeef9"/><stop offset=".642" stop-color="#f0f7fd"/></linearGradient><linearGradient id="h237"><stop offset=".369" stop-color="#eef7fc"/><stop offset=".394" stop-color="#deeff9"/><stop offset=".406" stop-color="#cde7f6"/><stop offset=".419" stop-color="#b6ddf2"/><stop offset=".431" stop-color="#99d0ee"/><stop offset=".456" stop-color="#70bfe9"/><stop offset=".539" stop-color="#70bfe9"/><stop offset=".564" stop-color="#99d0ee"/><stop offset=".577" stop-color="#b6ddf2"/><stop offset=".589" stop-color="#cde7f6"/><stop offset=".602" stop-color="#deeff9"/><stop offset=".627" stop-color="#eef7fc"/></linearGradient><linearGradient id="h238"><stop offset=".365" stop-color="#edf6fc"/><stop offset=".390" stop-color="#d6ebf7"/><stop offset=".403" stop-color="#bbdff3"/><stop offset=".416" stop-color="#93ceee"/><stop offset=".429" stop-color="#6bbce8"/><stop offset=".455" stop-color="#49a9df"/><stop offset=".542" stop-color="#49a9df"/><stop offset=".568" stop-color="#6bbce8"/><stop offset=".581" stop-color="#93ceee"/><stop offset=".594" stop-color="#bbdff3"/><stop offset=".606" stop-color="#d6ebf7"/><stop offset=".632" stop-color="#edf6fc"/></linearGradient><linearGradient id="h239"><stop offset=".354" stop-color="#eef7fc"/><stop offset=".383" stop-color="#dbedf8"/><stop offset=".398" stop-color="#c5e3f5"/><stop offset=".412" stop-color="#a8d6f0"/><stop offset=".427" stop-color="#85c7ec"/><stop offset=".456" stop-color="#5db5e5"/><stop offset=".552" stop-color="#5db5e5"/><stop offset=".581" stop-color="#85c7ec"/><stop offset=".596" stop-color="#a8d6f0"/><stop offset=".610" stop-color="#c5e3f5"/><stop offset=".625" stop-color="#dbedf8"/><stop offset=".654" stop-color="#eef7fc"/></linearGradient><linearGradient id="h240"><stop offset=".366" stop-color="#eff7fd"/><stop offset=".393" stop-color="#dfeff9"/><stop offset=".407" stop-color="#cde7f6"/><stop offset=".420" stop-color="#b6dcf2"/><stop offset=".434" stop-color="#97cfee"/><stop offset=".461" stop-color="#6dbde9"/><stop offset=".551" stop-color="#6dbde9"/><stop offset=".578" stop-color="#97cfee"/><stop offset=".591" stop-color="#b6dcf2"/><stop offset=".605" stop-color="#cde7f6"/><stop offset=".618" stop-color="#dfeff9"/><stop offset=".645" stop-color="#eff7fd"/></linearGradient><linearGradient id="h241"><stop offset=".353" stop-color="#f0f7fd"/><stop offset=".381" stop-color="#deeff9"/><stop offset=".395" stop-color="#cce6f6"/><stop offset=".409" stop-color="#b4dcf2"/><stop offset=".423" stop-color="#94ceee"/><stop offset=".450" stop-color="#69bbe8"/><stop offset=".542" stop-color="#69bbe8"/><stop offset=".570" stop-color="#94ceee"/><stop offset=".584" stop-color="#b4dcf2"/><stop offset=".598" stop-color="#cce6f6"/><stop offset=".611" stop-color="#deeff9"/><stop offset=".639" stop-color="#f0f7fd"/></linearGradient><linearGradient id="h242"><stop offset=".362" stop-color="#f1f8fd"/><stop offset=".389" stop-color="#e1f0fa"/><stop offset=".403" stop-color="#d1e9f7"/><stop offset=".416" stop-color="#bbdff3"/><stop offset=".430" stop-color="#a0d3ef"/><stop offset=".457" stop-color="#78c2ea"/><stop offset=".548" stop-color="#78c2ea"/><stop offset=".575" stop-color="#a0d3ef"/><stop offset=".588" stop-color="#bbdff3"/><stop offset=".602" stop-color="#d1e9f7"/><stop offset=".616" stop-color="#e1f0fa"/><stop offset=".643" stop-color="#f1f8fd"/></linearGradient><linearGradient id="h243"><stop offset=".358" stop-color="#f0f7fd"/><stop offset=".386" stop-color="#ddeef9"/><stop offset=".400" stop-color="#c9e5f5"/><stop offset=".414" stop-color="#aed9f1"/><stop offset=".428" stop-color="#8ccaed"/><stop offset=".457" stop-color="#62b7e6"/><stop offset=".551" stop-color="#62b7e6"/><stop offset=".579" stop-color="#8ccaed"/><stop offset=".593" stop-color="#aed9f1"/><stop offset=".608" stop-color="#c9e5f5"/><stop offset=".622" stop-color="#ddeef9"/><stop offset=".650" stop-color="#f0f7fd"/></linearGradient><linearGradient id="h244"><stop offset=".360" stop-color="#eef7fc"/><stop offset=".387" stop-color="#ddeef9"/><stop offset=".400" stop-color="#c9e5f5"/><stop offset=".413" stop-color="#b0daf1"/><stop offset=".427" stop-color="#90cced"/><stop offset=".453" stop-color="#66bae7"/><stop offset=".542" stop-color="#66bae7"/><stop offset=".569" stop-color="#90cced"/><stop offset=".582" stop-color="#b0daf1"/><stop offset=".596" stop-color="#c9e5f5"/><stop offset=".609" stop-color="#ddeef9"/><stop offset=".636" stop-color="#eef7fc"/></linearGradient><linearGradient id="h245"><stop offset=".377" stop-color="#eef7fc"/><stop offset=".404" stop-color="#dcedf9"/><stop offset=".417" stop-color="#c7e4f5"/><stop offset=".431" stop-color="#acd8f1"/><stop offset=".444" stop-color="#8acaec"/><stop offset=".470" stop-color="#61b7e6"/><stop offset=".559" stop-color="#61b7e6"/><stop offset=".586" stop-color="#8acaec"/><stop offset=".599" stop-color="#acd8f1"/><stop offset=".612" stop-color="#c7e4f5"/><stop offset=".626" stop-color="#dcedf9"/><stop offset=".652" stop-color="#eef7fc"/></linearGradient><linearGradient id="h246"><stop offset=".354" stop-color="#eef7fc"/><stop offset=".383" stop-color="#e0eff9"/><stop offset=".397" stop-color="#d1e9f7"/><stop offset=".411" stop-color="#bde0f3"/><stop offset=".425" stop-color="#a6d6f0"/><stop offset=".453" stop-color="#81c6eb"/><stop offset=".547" stop-color="#81c6eb"/><stop offset=".575" stop-color="#a6d6f0"/><stop offset=".590" stop-color="#bde0f3"/><stop offset=".604" stop-color="#d1e9f7"/><stop offset=".618" stop-color="#e0eff9"/><stop offset=".646" stop-color="#eef7fc"/></linearGradient><linearGradient id="h247"><stop offset=".385" stop-color="#f0f7fd"/><stop offset=".408" stop-color="#dfeff9"/><stop offset=".420" stop-color="#cee7f6"/><stop offset=".432" stop-color="#b7ddf2"/><stop offset=".444" stop-color="#9ad0ee"/><stop offset=".467" stop-color="#6fbee9"/><stop offset=".546" stop-color="#6fbee9"/><stop offset=".569" stop-color="#9ad0ee"/><stop offset=".581" stop-color="#b7ddf2"/><stop offset=".593" stop-color="#cee7f6"/><stop offset=".604" stop-color="#dfeff9"/><stop offset=".628" stop-color="#f0f7fd"/></linearGradient><linearGradient id="h248"><stop offset=".360" stop-color="#f1f8fd"/><stop offset=".387" stop-color="#e1f0fa"/><stop offset=".400" stop-color="#d1e9f7"/><stop offset=".414" stop-color="#bcdff3"/><stop offset=".427" stop-color="#a2d4f0"/><stop offset=".454" stop-color="#79c2ea"/><stop offset=".544" stop-color="#79c2ea"/><stop offset=".571" stop-color="#a2d4f0"/><stop offset=".585" stop-color="#bcdff3"/><stop offset=".598" stop-color="#d1e9f7"/><stop offset=".612" stop-color="#e1f0fa"/><stop offset=".639" stop-color="#f1f8fd"/></linearGradient><linearGradient id="h249"><stop offset=".352" stop-color="#f0f7fd"/><stop offset=".382" stop-color="#e2f0fa"/><stop offset=".396" stop-color="#d6ebf7"/><stop offset=".411" stop-color="#c3e2f4"/><stop offset=".426" stop-color="#b0daf1"/><stop offset=".455" stop-color="#8dcbed"/><stop offset=".553" stop-color="#8dcbed"/><stop offset=".582" stop-color="#b0daf1"/><stop offset=".597" stop-color="#c3e2f4"/><stop offset=".612" stop-color="#d6ebf7"/><stop offset=".626" stop-color="#e2f0fa"/><stop offset=".656" stop-color="#f0f7fd"/></linearGradient><linearGradient id="h250"><stop offset=".362" stop-color="#eef7fc"/><stop offset=".388" stop-color="#dfeff9"/><stop offset=".401" stop-color="#d1e8f7"/><stop offset=".414" stop-color="#bde0f3"/><stop offset=".427" stop-color="#a6d6f0"/><stop offset=".453" stop-color="#80c5eb"/><stop offset=".540" stop-color="#80c5eb"/><stop offset=".566" stop-color="#a6d6f0"/><stop offset=".579" stop-color="#bde0f3"/><stop offset=".592" stop-color="#d1e8f7"/><stop offset=".605" stop-color="#dfeff9"/><stop offset=".632" stop-color="#eef7fc"/></linearGradient><linearGradient id="h251"><stop offset=".365" stop-color="#f0f8fd"/><stop offset=".390" stop-color="#e2f0fa"/><stop offset=".402" stop-color="#d5eaf7"/><stop offset=".415" stop-color="#c2e2f4"/><stop offset=".427" stop-color="#aed9f1"/><stop offset=".452" stop-color="#89c9ec"/><stop offset=".534" stop-color="#89c9ec"/><stop offset=".559" stop-color="#aed9f1"/><stop offset=".571" stop-color="#c2e2f4"/><stop offset=".584" stop-color="#d5eaf7"/><stop offset=".596" stop-color="#e2f0fa"/><stop offset=".621" stop-color="#f0f8fd"/></linearGradient><linearGradient id="h252"><stop offset=".377" stop-color="#f1f8fd"/><stop offset=".403" stop-color="#e2f0fa"/><stop offset=".416" stop-color="#d4eaf7"/><stop offset=".429" stop-color="#c0e1f4"/><stop offset=".442" stop-color="#abd8f1"/><stop offset=".468" stop-color="#85c7ec"/><stop offset=".554" stop-color="#85c7ec"/><stop offset=".580" stop-color="#abd8f1"/><stop offset=".593" stop-color="#c0e1f4"/><stop offset=".606" stop-color="#d4eaf7"/><stop offset=".619" stop-color="#e2f0fa"/><stop offset=".646" stop-color="#f1f8fd"/></linearGradient><linearGradient id="h253"><stop offset=".360" stop-color="#eff7fd"/><stop offset=".388" stop-color="#e0f0fa"/><stop offset=".402" stop-color="#d3e9f7"/><stop offset=".416" stop-color="#c0e1f4"/><stop offset=".430" stop-color="#abd8f1"/><stop offset=".457" stop-color="#87c8ec"/><stop offset=".550" stop-color="#87c8ec"/><stop offset=".578" stop-color="#abd8f1"/><stop offset=".592" stop-color="#c0e1f4"/><stop offset=".605" stop-color="#d3e9f7"/><stop offset=".619" stop-color="#e0f0fa"/><stop offset=".647" stop-color="#eff7fd"/></linearGradient><linearGradient id="h254"><stop offset=".384" stop-color="#eef6fc"/><stop offset=".408" stop-color="#dfeff9"/><stop offset=".420" stop-color="#d1e9f7"/><stop offset=".433" stop-color="#bee0f4"/><stop offset=".445" stop-color="#a8d6f0"/><stop offset=".469" stop-color="#83c7ec"/><stop offset=".551" stop-color="#83c7ec"/><stop offset=".576" stop-color="#a8d6f0"/><stop offset=".588" stop-color="#bee0f4"/><stop offset=".600" stop-color="#d1e9f7"/><stop offset=".613" stop-color="#dfeff9"/><stop offset=".637" stop-color="#eef6fc"/></linearGradient><linearGradient id="h255"><stop offset=".365" stop-color="#f0f8fd"/><stop offset=".393" stop-color="#e2f1fa"/><stop offset=".407" stop-color="#d6ebf8"/><stop offset=".421" stop-color="#c4e3f4"/><stop offset=".435" stop-color="#b1daf2"/><stop offset=".463" stop-color="#8ecbed"/><stop offset=".556" stop-color="#8ecbed"/><stop offset=".584" stop-color="#b1daf2"/><stop offset=".598" stop-color="#c4e3f4"/><stop offset=".611" stop-color="#d6ebf8"/><stop offset=".625" stop-color="#e2f1fa"/><stop offset=".653" stop-color="#f0f8fd"/></linearGradient><linearGradient id="h256"><stop offset=".366" stop-color="#eef7fc"/><stop offset=".392" stop-color="#e1f0fa"/><stop offset=".405" stop-color="#d7ebf8"/><stop offset=".418" stop-color="#c6e4f5"/><stop offset=".431" stop-color="#b7ddf2"/><stop offset=".457" stop-color="#97cfee"/><stop offset=".544" stop-color="#97cfee"/><stop offset=".570" stop-color="#b7ddf2"/><stop offset=".583" stop-color="#c6e4f5"/><stop offset=".596" stop-color="#d7ebf8"/><stop offset=".609" stop-color="#e1f0fa"/><stop offset=".635" stop-color="#eef7fc"/></linearGradient><linearGradient id="h257"><stop offset=".372" stop-color="#f1f8fd"/><stop offset=".397" stop-color="#e5f2fb"/><stop offset=".409" stop-color="#dceef9"/><stop offset=".422" stop-color="#cee7f6"/><stop offset=".434" stop-color="#c0e1f4"/><stop offset=".459" stop-color="#a6d6f0"/><stop offset=".543" stop-color="#a6d6f0"/><stop offset=".568" stop-color="#c0e1f4"/><stop offset=".580" stop-color="#cee7f6"/><stop offset=".593" stop-color="#dceef9"/><stop offset=".605" stop-color="#e5f2fb"/><stop offset=".630" stop-color="#f1f8fd"/></linearGradient><linearGradient id="h258"><stop offset=".349" stop-color="#f0f8fd"/><stop offset=".378" stop-color="#e4f1fa"/><stop offset=".393" stop-color="#daedf8"/><stop offset=".408" stop-color="#cbe6f6"/><stop offset=".422" stop-color="#bcdff3"/><stop offset=".452" stop-color="#a0d3ef"/><stop offset=".550" stop-color="#a0d3ef"/><stop offset=".580" stop-color="#bcdff3"/><stop offset=".594" stop-color="#cbe6f6"/><stop offset=".609" stop-color="#daedf8"/><stop offset=".624" stop-color="#e4f1fa"/><stop offset=".653" stop-color="#f0f8fd"/></linearGradient><linearGradient id="h259"><stop offset=".364" stop-color="#eff7fd"/><stop offset=".391" stop-color="#e3f1fa"/><stop offset=".405" stop-color="#d9ecf8"/><stop offset=".418" stop-color="#c9e5f5"/><stop offset=".432" stop-color="#badef3"/><stop offset=".459" stop-color="#9dd2ef"/><stop offset=".549" stop-color="#9dd2ef"/><stop offset=".576" stop-color="#badef3"/><stop offset=".590" stop-color="#c9e5f5"/><stop offset=".603" stop-color="#d9ecf8"/><stop offset=".617" stop-color="#e3f1fa"/><stop offset=".644" stop-color="#eff7fd"/></linearGradient><linearGradient id="h260"><stop offset=".378" stop-color="#eff7fd"/><stop offset=".403" stop-color="#e4f1fa"/><stop offset=".415" stop-color="#dbedf8"/><stop offset=".427" stop-color="#cee7f6"/><stop offset=".440" stop-color="#bfe1f4"/><stop offset=".465" stop-color="#a7d6f0"/><stop offset=".547" stop-color="#a7d6f0"/><stop offset=".572" stop-color="#bfe1f4"/><stop offset=".585" stop-color="#cee7f6"/><stop offset=".597" stop-color="#dbedf8"/><stop offset=".609" stop-color="#e4f1fa"/><stop offset=".634" stop-color="#eff7fd"/></linearGradient><linearGradient id="h261"><stop offset=".381" stop-color="#eef7fc"/><stop offset=".405" stop-color="#e2f1fa"/><stop offset=".417" stop-color="#d9ecf8"/><stop offset=".429" stop-color="#c9e5f5"/><stop offset=".440" stop-color="#bbdef3"/><stop offset=".464" stop-color="#9ed2ef"/><stop offset=".543" stop-color="#9ed2ef"/><stop offset=".566" stop-color="#bbdef3"/><stop offset=".578" stop-color="#c9e5f5"/><stop offset=".590" stop-color="#d9ecf8"/><stop offset=".602" stop-color="#e2f1fa"/><stop offset=".625" stop-color="#eef7fc"/></linearGradient><linearGradient id="h262"><stop offset=".354" stop-color="#eef7fc"/><stop offset=".380" stop-color="#e3f1fa"/><stop offset=".393" stop-color="#daedf8"/><stop offset=".407" stop-color="#cce6f6"/><stop offset=".420" stop-color="#bee0f4"/><stop offset=".446" stop-color="#a5d5f0"/><stop offset=".534" stop-color="#a5d5f0"/><stop offset=".561" stop-color="#bee0f4"/><stop offset=".574" stop-color="#cce6f6"/><stop offset=".587" stop-color="#daedf8"/><stop offset=".600" stop-color="#e3f1fa"/><stop offset=".626" stop-color="#eef7fc"/></linearGradient><linearGradient id="h263"><stop offset=".376" stop-color="#f0f8fd"/><stop offset=".399" stop-color="#e5f2fa"/><stop offset=".411" stop-color="#dceef9"/><stop offset=".422" stop-color="#d0e8f7"/><stop offset=".434" stop-color="#c2e2f4"/><stop offset=".457" stop-color="#acd8f1"/><stop offset=".535" stop-color="#acd8f1"/><stop offset=".558" stop-color="#c2e2f4"/><stop offset=".570" stop-color="#d0e8f7"/><stop offset=".581" stop-color="#dceef9"/><stop offset=".593" stop-color="#e5f2fa"/><stop offset=".616" stop-color="#f0f8fd"/></linearGradient><linearGradient id="h264"><stop offset=".383" stop-color="#f1f8fd"/><stop offset=".405" stop-color="#e5f2fb"/><stop offset=".417" stop-color="#ddeef9"/><stop offset=".428" stop-color="#d0e8f7"/><stop offset=".439" stop-color="#c3e2f4"/><stop offset=".462" stop-color="#acd8f1"/><stop offset=".536" stop-color="#acd8f1"/><stop offset=".559" stop-color="#c3e2f4"/><stop offset=".570" stop-color="#d0e8f7"/><stop offset=".581" stop-color="#ddeef9"/><stop offset=".592" stop-color="#e5f2fb"/><stop offset=".615" stop-color="#f1f8fd"/></linearGradient><linearGradient id="h265"><stop offset=".393" stop-color="#f1f8fd"/><stop offset=".416" stop-color="#e5f2fb"/><stop offset=".428" stop-color="#ddeef9"/><stop offset=".440" stop-color="#d1e9f7"/><stop offset=".451" stop-color="#c4e3f4"/><stop offset=".474" stop-color="#aed9f1"/><stop offset=".552" stop-color="#aed9f1"/><stop offset=".575" stop-color="#c4e3f4"/><stop offset=".586" stop-color="#d1e9f7"/><stop offset=".598" stop-color="#ddeef9"/><stop offset=".610" stop-color="#e5f2fb"/><stop offset=".633" stop-color="#f1f8fd"/></linearGradient><linearGradient id="h266"><stop offset=".382" stop-color="#eff7fd"/><stop offset=".406" stop-color="#e6f3fb"/><stop offset=".418" stop-color="#dfeff9"/><stop offset=".429" stop-color="#d6ebf8"/><stop offset=".441" stop-color="#cbe6f6"/><stop offset=".465" stop-color="#badef3"/><stop offset=".543" stop-color="#badef3"/><stop offset=".567" stop-color="#cbe6f6"/><stop offset=".578" stop-color="#d6ebf8"/><stop offset=".590" stop-color="#dfeff9"/><stop offset=".602" stop-color="#e6f3fb"/><stop offset=".625" stop-color="#eff7fd"/></linearGradient><linearGradient id="h267"><stop offset=".376" stop-color="#f0f7fd"/><stop offset=".401" stop-color="#e6f2fb"/><stop offset=".413" stop-color="#deeff9"/><stop offset=".425" stop-color="#d5eaf7"/><stop offset=".437" stop-color="#c9e5f5"/><stop offset=".462" stop-color="#b7ddf2"/><stop offset=".544" stop-color="#b7ddf2"/><stop offset=".569" stop-color="#c9e5f5"/><stop offset=".581" stop-color="#d5eaf7"/><stop offset=".593" stop-color="#deeff9"/><stop offset=".606" stop-color="#e6f2fb"/><stop offset=".630" stop-color="#f0f7fd"/></linearGradient><linearGradient id="h268"><stop offset=".400" stop-color="#f0f8fd"/><stop offset=".423" stop-color="#e6f2fb"/><stop offset=".435" stop-color="#deeff9"/><stop offset=".446" stop-color="#d4eaf7"/><stop offset=".458" stop-color="#c7e4f5"/><stop offset=".481" stop-color="#b4dcf2"/><stop offset=".559" stop-color="#b4dcf2"/><stop offset=".582" stop-color="#c7e4f5"/><stop offset=".594" stop-color="#d4eaf7"/><stop offset=".605" stop-color="#deeff9"/><stop offset=".617" stop-color="#e6f2fb"/><stop offset=".640" stop-color="#f0f8fd"/></linearGradient><linearGradient id="h269"><stop offset=".370" stop-color="#f1f8fd"/><stop offset=".393" stop-color="#e6f3fb"/><stop offset=".405" stop-color="#dfeff9"/><stop offset=".417" stop-color="#d5eaf7"/><stop offset=".428" stop-color="#c8e5f5"/><stop offset=".452" stop-color="#b6ddf2"/><stop offset=".529" stop-color="#b6ddf2"/><stop offset=".552" stop-color="#c8e5f5"/><stop offset=".564" stop-color="#d5eaf7"/><stop offset=".576" stop-color="#dfeff9"/><stop offset=".587" stop-color="#e6f3fb"/><stop offset=".611" stop-color="#f1f8fd"/></linearGradient><linearGradient id="h270"><stop offset=".371" stop-color="#f0f7fd"/><stop offset=".396" stop-color="#e7f3fb"/><stop offset=".409" stop-color="#e1f0fa"/><stop offset=".422" stop-color="#daecf8"/><stop offset=".434" stop-color="#d0e8f6"/><stop offset=".460" stop-color="#c0e1f4"/><stop offset=".545" stop-color="#c0e1f4"/><stop offset=".570" stop-color="#d0e8f6"/><stop offset=".583" stop-color="#daecf8"/><stop offset=".596" stop-color="#e1f0fa"/><stop offset=".608" stop-color="#e7f3fb"/><stop offset=".634" stop-color="#f0f7fd"/></linearGradient><linearGradient id="h271"><stop offset=".394" stop-color="#f1f8fd"/><stop offset=".416" stop-color="#e8f4fb"/><stop offset=".427" stop-color="#e1f0fa"/><stop offset=".438" stop-color="#daecf8"/><stop offset=".449" stop-color="#cee7f6"/><stop offset=".472" stop-color="#bee0f3"/><stop offset=".545" stop-color="#bee0f3"/><stop offset=".568" stop-color="#cee7f6"/><stop offset=".579" stop-color="#daecf8"/><stop offset=".590" stop-color="#e1f0fa"/><stop offset=".601" stop-color="#e8f4fb"/><stop offset=".623" stop-color="#f1f8fd"/></linearGradient><linearGradient id="h272"><stop offset=".382" stop-color="#eff7fd"/><stop offset=".407" stop-color="#e7f3fb"/><stop offset=".420" stop-color="#e1f0fa"/><stop offset=".433" stop-color="#daecf8"/><stop offset=".445" stop-color="#d0e8f7"/><stop offset=".471" stop-color="#c1e1f4"/><stop offset=".556" stop-color="#c1e1f4"/><stop offset=".581" stop-color="#d0e8f7"/><stop offset=".594" stop-color="#daecf8"/><stop offset=".606" stop-color="#e1f0fa"/><stop offset=".619" stop-color="#e7f3fb"/><stop offset=".645" stop-color="#eff7fd"/></linearGradient><linearGradient id="h273"><stop offset=".377" stop-color="#f1f8fd"/><stop offset=".401" stop-color="#e9f4fb"/><stop offset=".413" stop-color="#e3f1fa"/><stop offset=".424" stop-color="#dceef9"/><stop offset=".436" stop-color="#d4eaf7"/><stop offset=".460" stop-color="#c5e3f5"/><stop offset=".540" stop-color="#c5e3f5"/><stop offset=".563" stop-color="#d4eaf7"/><stop offset=".575" stop-color="#dceef9"/><stop offset=".587" stop-color="#e3f1fa"/><stop offset=".599" stop-color="#e9f4fb"/><stop offset=".623" stop-color="#f1f8fd"/></linearGradient><linearGradient id="h274"><stop offset=".366" stop-color="#f1f8fd"/><stop offset=".391" stop-color="#e9f4fb"/><stop offset=".403" stop-color="#e3f1fa"/><stop offset=".416" stop-color="#dceef9"/><stop offset=".428" stop-color="#d4eaf7"/><stop offset=".453" stop-color="#c4e3f5"/><stop offset=".535" stop-color="#c4e3f5"/><stop offset=".560" stop-color="#d4eaf7"/><stop offset=".572" stop-color="#dceef9"/><stop offset=".585" stop-color="#e3f1fa"/><stop offset=".597" stop-color="#e9f4fb"/><stop offset=".622" stop-color="#f1f8fd"/></linearGradient><linearGradient id="h275"><stop offset=".390" stop-color="#eff7fd"/><stop offset=".411" stop-color="#e8f3fb"/><stop offset=".422" stop-color="#e2f1fa"/><stop offset=".432" stop-color="#dceef9"/><stop offset=".443" stop-color="#d5eaf7"/><stop offset=".464" stop-color="#c7e4f5"/><stop offset=".534" stop-color="#c7e4f5"/><stop offset=".554" stop-color="#d5eaf7"/><stop offset=".565" stop-color="#dceef9"/><stop offset=".575" stop-color="#e2f1fa"/><stop offset=".586" stop-color="#e8f3fb"/><stop offset=".607" stop-color="#eff7fd"/></linearGradient><linearGradient id="h276"><stop offset=".374" stop-color="#f1f8fd"/><stop offset=".399" stop-color="#e9f4fb"/><stop offset=".411" stop-color="#e4f1fa"/><stop offset=".423" stop-color="#ddeef9"/><stop offset=".435" stop-color="#d7ebf8"/><stop offset=".460" stop-color="#c9e5f5"/><stop offset=".541" stop-color="#c9e5f5"/><stop offset=".565" stop-color="#d7ebf8"/><stop offset=".578" stop-color="#ddeef9"/><stop offset=".590" stop-color="#e4f1fa"/><stop offset=".602" stop-color="#e9f4fb"/><stop offset=".626" stop-color="#f1f8fd"/></linearGradient><linearGradient id="h277"><stop offset=".368" stop-color="#f1f8fd"/><stop offset=".396" stop-color="#e9f4fb"/><stop offset=".410" stop-color="#e4f1fa"/><stop offset=".424" stop-color="#deeff9"/><stop offset=".437" stop-color="#d8ecf8"/><stop offset=".465" stop-color="#cbe6f6"/><stop offset=".558" stop-color="#cbe6f6"/><stop offset=".586" stop-color="#d8ecf8"/><stop offset=".600" stop-color="#deeff9"/><stop offset=".614" stop-color="#e4f1fa"/><stop offset=".628" stop-color="#e9f4fb"/><stop offset=".656" stop-color="#f1f8fd"/></linearGradient><linearGradient id="h278"><stop offset=".353" stop-color="#f1f8fd"/><stop offset=".378" stop-color="#eaf5fc"/><stop offset=".390" stop-color="#e5f2fa"/><stop offset=".402" stop-color="#dfeff9"/><stop offset=".414" stop-color="#daecf8"/><stop offset=".439" stop-color="#cde7f6"/><stop offset=".521" stop-color="#cde7f6"/><stop offset=".545" stop-color="#daecf8"/><stop offset=".557" stop-color="#dfeff9"/><stop offset=".570" stop-color="#e5f2fa"/><stop offset=".582" stop-color="#eaf5fc"/><stop offset=".606" stop-color="#f1f8fd"/></linearGradient><linearGradient id="h279"><stop offset=".383" stop-color="#f0f7fd"/><stop offset=".407" stop-color="#e9f4fb"/><stop offset=".420" stop-color="#e4f2fa"/><stop offset=".432" stop-color="#dfeff9"/><stop offset=".444" stop-color="#daedf8"/><stop offset=".469" stop-color="#cfe8f6"/><stop offset=".550" stop-color="#cfe8f6"/><stop offset=".574" stop-color="#daedf8"/><stop offset=".587" stop-color="#dfeff9"/><stop offset=".599" stop-color="#e4f2fa"/><stop offset=".611" stop-color="#e9f4fb"/><stop offset=".635" stop-color="#f0f7fd"/></linearGradient><linearGradient id="h280"><stop offset=".376" stop-color="#f0f8fd"/><stop offset=".401" stop-color="#eaf4fc"/><stop offset=".413" stop-color="#e5f2fb"/><stop offset=".426" stop-color="#e0f0fa"/><stop offset=".439" stop-color="#dbedf8"/><stop offset=".464" stop-color="#d1e9f7"/><stop offset=".548" stop-color="#d1e9f7"/><stop offset=".574" stop-color="#dbedf8"/><stop offset=".586" stop-color="#e0f0fa"/><stop offset=".599" stop-color="#e5f2fb"/><stop offset=".611" stop-color="#eaf4fc"/><stop offset=".637" stop-color="#f0f8fd"/></linearGradient><linearGradient id="h281"><stop offset=".380" stop-color="#f2f8fd"/><stop offset=".403" stop-color="#ebf5fc"/><stop offset=".415" stop-color="#e6f3fb"/><stop offset=".426" stop-color="#e1f0fa"/><stop offset=".438" stop-color="#dcedf9"/><stop offset=".461" stop-color="#d0e8f7"/><stop offset=".538" stop-color="#d0e8f7"/><stop offset=".561" stop-color="#dcedf9"/><stop offset=".572" stop-color="#e1f0fa"/><stop offset=".584" stop-color="#e6f3fb"/><stop offset=".595" stop-color="#ebf5fc"/><stop offset=".618" stop-color="#f2f8fd"/></linearGradient><linearGradient id="h282"><stop offset=".364" stop-color="#f0f8fd"/><stop offset=".387" stop-color="#e9f4fb"/><stop offset=".399" stop-color="#e4f1fa"/><stop offset=".410" stop-color="#deeff9"/><stop offset=".422" stop-color="#d8ecf8"/><stop offset=".445" stop-color="#cbe6f6"/><stop offset=".522" stop-color="#cbe6f6"/><stop offset=".545" stop-color="#d8ecf8"/><stop offset=".557" stop-color="#deeff9"/><stop offset=".568" stop-color="#e4f1fa"/><stop offset=".580" stop-color="#e9f4fb"/><stop offset=".603" stop-color="#f0f8fd"/></linearGradient><linearGradient id="h283"><stop offset=".384" stop-color="#f0f7fd"/><stop offset=".406" stop-color="#e9f4fb"/><stop offset=".418" stop-color="#e4f2fa"/><stop offset=".429" stop-color="#dfeff9"/><stop offset=".440" stop-color="#daecf8"/><stop offset=".463" stop-color="#cde7f6"/><stop offset=".537" stop-color="#cde7f6"/><stop offset=".560" stop-color="#daecf8"/><stop offset=".571" stop-color="#dfeff9"/><stop offset=".582" stop-color="#e4f2fa"/><stop offset=".594" stop-color="#e9f4fb"/><stop offset=".616" stop-color="#f0f7fd"/></linearGradient><linearGradient id="h284"><stop offset=".371" stop-color="#f2f8fd"/><stop offset=".396" stop-color="#ecf5fc"/><stop offset=".408" stop-color="#e7f3fb"/><stop offset=".421" stop-color="#e2f0fa"/><stop offset=".434" stop-color="#ddeef9"/><stop offset=".459" stop-color="#d3e9f7"/><stop offset=".542" stop-color="#d3e9f7"/><stop offset=".568" stop-color="#ddeef9"/><stop offset=".580" stop-color="#e2f0fa"/><stop offset=".593" stop-color="#e7f3fb"/><stop offset=".605" stop-color="#ecf5fc"/><stop offset=".630" stop-color="#f2f8fd"/></linearGradient><linearGradient id="h285"><stop offset=".387" stop-color="#f1f8fd"/><stop offset=".411" stop-color="#ebf5fc"/><stop offset=".423" stop-color="#e8f3fb"/><stop offset=".435" stop-color="#e4f1fa"/><stop offset=".448" stop-color="#dfeff9"/><stop offset=".472" stop-color="#d9ecf8"/><stop offset=".552" stop-color="#d9ecf8"/><stop offset=".576" stop-color="#dfeff9"/><stop offset=".588" stop-color="#e4f1fa"/><stop offset=".600" stop-color="#e8f3fb"/><stop offset=".612" stop-color="#ebf5fc"/><stop offset=".636" stop-color="#f1f8fd"/></linearGradient><linearGradient id="h286"><stop offset=".368" stop-color="#f1f8fd"/><stop offset=".394" stop-color="#eaf4fc"/><stop offset=".407" stop-color="#e4f2fa"/><stop offset=".420" stop-color="#deeff9"/><stop offset=".433" stop-color="#d8ecf8"/><stop offset=".459" stop-color="#cae5f6"/><stop offset=".547" stop-color="#cae5f6"/><stop offset=".573" stop-color="#d8ecf8"/><stop offset=".586" stop-color="#deeff9"/><stop offset=".599" stop-color="#e4f2fa"/><stop offset=".613" stop-color="#eaf4fc"/><stop offset=".639" stop-color="#f1f8fd"/></linearGradient><linearGradient id="h287"><stop offset=".393" stop-color="#f0f7fd"/><stop offset=".415" stop-color="#eaf5fc"/><stop offset=".425" stop-color="#e6f3fb"/><stop offset=".436" stop-color="#e1f0fa"/><stop offset=".447" stop-color="#ddeef9"/><stop offset=".468" stop-color="#d4eaf7"/><stop offset=".539" stop-color="#d4eaf7"/><stop offset=".561" stop-color="#ddeef9"/><stop offset=".571" stop-color="#e1f0fa"/><stop offset=".582" stop-color="#e6f3fb"/><stop offset=".593" stop-color="#eaf5fc"/><stop offset=".614" stop-color="#f0f7fd"/></linearGradient><linearGradient id="h288"><stop offset=".379" stop-color="#f1f8fd"/><stop offset=".404" stop-color="#ecf5fc"/><stop offset=".417" stop-color="#e7f3fb"/><stop offset=".429" stop-color="#e2f1fa"/><stop offset=".442" stop-color="#deeef9"/><stop offset=".467" stop-color="#d5eaf7"/><stop offset=".550" stop-color="#d5eaf7"/><stop offset=".575" stop-color="#deeef9"/><stop offset=".587" stop-color="#e2f1fa"/><stop offset=".600" stop-color="#e7f3fb"/><stop offset=".612" stop-color="#ecf5fc"/><stop offset=".637" stop-color="#f1f8fd"/></linearGradient><linearGradient id="h289"><stop offset=".385" stop-color="#f0f8fd"/><stop offset=".407" stop-color="#ebf5fc"/><stop offset=".419" stop-color="#e7f3fb"/><stop offset=".430" stop-color="#e2f1fa"/><stop offset=".441" stop-color="#deeef9"/><stop offset=".464" stop-color="#d6ebf8"/><stop offset=".540" stop-color="#d6ebf8"/><stop offset=".563" stop-color="#deeef9"/><stop offset=".574" stop-color="#e2f1fa"/><stop offset=".585" stop-color="#e7f3fb"/><stop offset=".597" stop-color="#ebf5fc"/><stop offset=".620" stop-color="#f0f8fd"/></linearGradient><linearGradient id="h290"><stop offset=".368" stop-color="#f1f8fd"/><stop offset=".392" stop-color="#ebf5fc"/><stop offset=".405" stop-color="#e7f3fb"/><stop offset=".417" stop-color="#e2f1fa"/><stop offset=".429" stop-color="#deeef9"/><stop offset=".454" stop-color="#d6ebf7"/><stop offset=".535" stop-color="#d6ebf7"/><stop offset=".560" stop-color="#deeef9"/><stop offset=".572" stop-color="#e2f1fa"/><stop offset=".584" stop-color="#e7f3fb"/><stop offset=".597" stop-color="#ebf5fc"/><stop offset=".621" stop-color="#f1f8fd"/></linearGradient><linearGradient id="h291"><stop offset=".398" stop-color="#f0f7fd"/><stop offset=".418" stop-color="#eaf5fc"/><stop offset=".428" stop-color="#e7f3fb"/><stop offset=".438" stop-color="#e2f1fa"/><stop offset=".448" stop-color="#deeff9"/><stop offset=".468" stop-color="#d7ebf8"/><stop offset=".535" stop-color="#d7ebf8"/><stop offset=".555" stop-color="#deeff9"/><stop offset=".565" stop-color="#e2f1fa"/><stop offset=".575" stop-color="#e7f3fb"/><stop offset=".585" stop-color="#eaf5fc"/><stop offset=".605" stop-color="#f0f7fd"/></linearGradient><linearGradient id="h292"><stop offset=".379" stop-color="#f1f8fd"/><stop offset=".403" stop-color="#edf6fc"/><stop offset=".415" stop-color="#eaf4fb"/><stop offset=".427" stop-color="#e6f2fb"/><stop offset=".439" stop-color="#e2f1fa"/><stop offset=".463" stop-color="#dceef9"/><stop offset=".543" stop-color="#dceef9"/><stop offset=".567" stop-color="#e2f1fa"/><stop offset=".579" stop-color="#e6f2fb"/><stop offset=".591" stop-color="#eaf4fb"/><stop offset=".603" stop-color="#edf6fc"/><stop offset=".627" stop-color="#f1f8fd"/></linearGradient><linearGradient id="h293"><stop offset=".411" stop-color="#f2f9fd"/><stop offset=".430" stop-color="#eef7fc"/><stop offset=".440" stop-color="#ebf5fc"/><stop offset=".450" stop-color="#e7f3fb"/><stop offset=".459" stop-color="#e3f1fa"/><stop offset=".479" stop-color="#ddeef9"/><stop offset=".543" stop-color="#ddeef9"/><stop offset=".563" stop-color="#e3f1fa"/><stop offset=".573" stop-color="#e7f3fb"/><stop offset=".582" stop-color="#ebf5fc"/><stop offset=".592" stop-color="#eef7fc"/><stop offset=".611" stop-color="#f2f9fd"/></linearGradient><linearGradient id="h294"><stop offset=".393" stop-color="#f1f8fd"/><stop offset=".414" stop-color="#edf6fc"/><stop offset=".424" stop-color="#eaf4fc"/><stop offset=".435" stop-color="#e7f3fb"/><stop offset=".445" stop-color="#e4f1fa"/><stop offset=".466" stop-color="#dfeff9"/><stop offset=".534" stop-color="#dfeff9"/><stop offset=".555" stop-color="#e4f1fa"/><stop offset=".565" stop-color="#e7f3fb"/><stop offset=".576" stop-color="#eaf4fc"/><stop offset=".586" stop-color="#edf6fc"/><stop offset=".607" stop-color="#f1f8fd"/></linearGradient><linearGradient id="h295"><stop offset=".404" stop-color="#f1f8fd"/><stop offset=".425" stop-color="#edf6fc"/><stop offset=".436" stop-color="#eaf4fc"/><stop offset=".447" stop-color="#e7f3fb"/><stop offset=".457" stop-color="#e3f1fa"/><stop offset=".479" stop-color="#deeff9"/><stop offset=".550" stop-color="#deeff9"/><stop offset=".571" stop-color="#e3f1fa"/><stop offset=".582" stop-color="#e7f3fb"/><stop offset=".593" stop-color="#eaf4fc"/><stop offset=".603" stop-color="#edf6fc"/><stop offset=".625" stop-color="#f1f8fd"/></linearGradient><linearGradient id="h296"><stop offset=".375" stop-color="#f1f8fd"/><stop offset=".399" stop-color="#eef7fc"/><stop offset=".411" stop-color="#ecf5fc"/><stop offset=".422" stop-color="#e9f4fb"/><stop offset=".434" stop-color="#e7f3fb"/><stop offset=".458" stop-color="#e2f1fa"/><stop offset=".536" stop-color="#e2f1fa"/><stop offset=".559" stop-color="#e7f3fb"/><stop offset=".571" stop-color="#e9f4fb"/><stop offset=".583" stop-color="#ecf5fc"/><stop offset=".595" stop-color="#eef7fc"/><stop offset=".618" stop-color="#f1f8fd"/></linearGradient><linearGradient id="h297"><stop offset=".396" stop-color="#f1f8fd"/><stop offset=".416" stop-color="#eef7fc"/><stop offset=".426" stop-color="#ebf5fc"/><stop offset=".436" stop-color="#e9f4fb"/><stop offset=".446" stop-color="#e6f2fb"/><stop offset=".466" stop-color="#e1f0fa"/><stop offset=".533" stop-color="#e1f0fa"/><stop offset=".553" stop-color="#e6f2fb"/><stop offset=".563" stop-color="#e9f4fb"/><stop offset=".573" stop-color="#ebf5fc"/><stop offset=".583" stop-color="#eef7fc"/><stop offset=".603" stop-color="#f1f8fd"/></linearGradient><linearGradient id="h298"><stop offset=".389" stop-color="#f1f8fd"/><stop offset=".411" stop-color="#edf6fc"/><stop offset=".421" stop-color="#eaf5fc"/><stop offset=".432" stop-color="#e8f3fb"/><stop offset=".443" stop-color="#e5f2fa"/><stop offset=".464" stop-color="#e0eff9"/><stop offset=".535" stop-color="#e0eff9"/><stop offset=".557" stop-color="#e5f2fa"/><stop offset=".567" stop-color="#e8f3fb"/><stop offset=".578" stop-color="#eaf5fc"/><stop offset=".589" stop-color="#edf6fc"/><stop offset=".610" stop-color="#f1f8fd"/></linearGradient><linearGradient id="h299"><stop offset=".370" stop-color="#f2f9fd"/><stop offset=".392" stop-color="#eff7fd"/><stop offset=".403" stop-color="#edf6fc"/><stop offset=".414" stop-color="#e9f4fb"/><stop offset=".425" stop-color="#e6f3fb"/><stop offset=".448" stop-color="#e1f0fa"/><stop offset=".522" stop-color="#e1f0fa"/><stop offset=".545" stop-color="#e6f3fb"/><stop offset=".556" stop-color="#e9f4fb"/><stop offset=".567" stop-color="#edf6fc"/><stop offset=".578" stop-color="#eff7fd"/><stop offset=".600" stop-color="#f2f9fd"/></linearGradient><linearGradient id="h300"><stop offset=".392" stop-color="#f1f8fd"/><stop offset=".414" stop-color="#eef6fc"/><stop offset=".425" stop-color="#ecf5fc"/><stop offset=".436" stop-color="#eaf4fb"/><stop offset=".446" stop-color="#e8f3fb"/><stop offset=".468" stop-color="#e4f2fa"/><stop offset=".540" stop-color="#e4f2fa"/><stop offset=".561" stop-color="#e8f3fb"/><stop offset=".572" stop-color="#eaf4fb"/><stop offset=".583" stop-color="#ecf5fc"/><stop offset=".594" stop-color="#eef6fc"/><stop offset=".615" stop-color="#f1f8fd"/></linearGradient><linearGradient id="h301"><stop offset=".380" stop-color="#f1f8fd"/><stop offset=".402" stop-color="#eef6fc"/><stop offset=".413" stop-color="#ebf5fc"/><stop offset=".424" stop-color="#e9f4fb"/><stop offset=".436" stop-color="#e6f2fb"/><stop offset=".458" stop-color="#e2f0fa"/><stop offset=".533" stop-color="#e2f0fa"/><stop offset=".555" stop-color="#e6f2fb"/><stop offset=".566" stop-color="#e9f4fb"/><stop offset=".577" stop-color="#ebf5fc"/><stop offset=".589" stop-color="#eef6fc"/><stop offset=".611" stop-color="#f1f8fd"/></linearGradient><linearGradient id="h302"><stop offset=".390" stop-color="#f2f9fd"/><stop offset=".410" stop-color="#f0f7fd"/><stop offset=".421" stop-color="#eef6fc"/><stop offset=".431" stop-color="#ebf5fc"/><stop offset=".441" stop-color="#e9f4fb"/><stop offset=".462" stop-color="#e5f2fa"/><stop offset=".531" stop-color="#e5f2fa"/><stop offset=".552" stop-color="#e9f4fb"/><stop offset=".562" stop-color="#ebf5fc"/><stop offset=".572" stop-color="#eef6fc"/><stop offset=".583" stop-color="#f0f7fd"/><stop offset=".603" stop-color="#f2f9fd"/></linearGradient><linearGradient id="h303"><stop offset=".379" stop-color="#f2f8fd"/><stop offset=".403" stop-color="#eff7fd"/><stop offset=".415" stop-color="#edf6fc"/><stop offset=".426" stop-color="#ebf5fc"/><stop offset=".438" stop-color="#e9f4fb"/><stop offset=".462" stop-color="#e5f2fb"/><stop offset=".540" stop-color="#e5f2fb"/><stop offset=".563" stop-color="#e9f4fb"/><stop offset=".575" stop-color="#ebf5fc"/><stop offset=".587" stop-color="#edf6fc"/><stop offset=".599" stop-color="#eff7fd"/><stop offset=".622" stop-color="#f2f8fd"/></linearGradient><linearGradient id="h304"><stop offset=".391" stop-color="#f1f8fd"/><stop offset=".411" stop-color="#eff7fd"/><stop offset=".421" stop-color="#edf6fc"/><stop offset=".431" stop-color="#eaf5fc"/><stop offset=".441" stop-color="#e8f4fb"/><stop offset=".461" stop-color="#e5f2fa"/><stop offset=".527" stop-color="#e5f2fa"/><stop offset=".547" stop-color="#e8f4fb"/><stop offset=".557" stop-color="#eaf5fc"/><stop offset=".567" stop-color="#edf6fc"/><stop offset=".577" stop-color="#eff7fd"/><stop offset=".597" stop-color="#f1f8fd"/></linearGradient><linearGradient id="h305"><stop offset=".403" stop-color="#f1f8fd"/><stop offset=".424" stop-color="#eef7fc"/><stop offset=".434" stop-color="#ecf6fc"/><stop offset=".444" stop-color="#eaf5fc"/><stop offset=".454" stop-color="#e8f3fb"/><stop offset=".474" stop-color="#e4f2fa"/><stop offset=".541" stop-color="#e4f2fa"/><stop offset=".561" stop-color="#e8f3fb"/><stop offset=".572" stop-color="#eaf5fc"/><stop offset=".582" stop-color="#ecf6fc"/><stop offset=".592" stop-color="#eef7fc"/><stop offset=".612" stop-color="#f1f8fd"/></linearGradient><linearGradient id="h306"><stop offset=".392" stop-color="#f1f8fd"/><stop offset=".414" stop-color="#f0f7fd"/><stop offset=".425" stop-color="#eef7fc"/><stop offset=".436" stop-color="#ecf6fc"/><stop offset=".447" stop-color="#ebf5fc"/><stop offset=".469" stop-color="#e8f4fb"/><stop offset=".542" stop-color="#e8f4fb"/><stop offset=".564" stop-color="#ebf5fc"/><stop offset=".575" stop-color="#ecf6fc"/><stop offset=".586" stop-color="#eef7fc"/><stop offset=".597" stop-color="#f0f7fd"/><stop offset=".619" stop-color="#f1f8fd"/></linearGradient><linearGradient id="h307"><stop offset=".391" stop-color="#f3f9fd"/><stop offset=".413" stop-color="#f1f8fd"/><stop offset=".424" stop-color="#eff7fc"/><stop offset=".434" stop-color="#ecf6fc"/><stop offset=".445" stop-color="#eaf4fb"/><stop offset=".466" stop-color="#e6f2fb"/><stop offset=".538" stop-color="#e6f2fb"/><stop offset=".559" stop-color="#eaf4fb"/><stop offset=".570" stop-color="#ecf6fc"/><stop offset=".581" stop-color="#eff7fc"/><stop offset=".592" stop-color="#f1f8fd"/><stop offset=".613" stop-color="#f3f9fd"/></linearGradient><linearGradient id="h308"><stop offset=".386" stop-color="#f1f8fd"/><stop offset=".406" stop-color="#eff7fd"/><stop offset=".417" stop-color="#edf6fc"/><stop offset=".427" stop-color="#ebf5fc"/><stop offset=".437" stop-color="#e9f4fb"/><stop offset=".458" stop-color="#e6f3fb"/><stop offset=".526" stop-color="#e6f3fb"/><stop offset=".546" stop-color="#e9f4fb"/><stop offset=".557" stop-color="#ebf5fc"/><stop offset=".567" stop-color="#edf6fc"/><stop offset=".577" stop-color="#eff7fd"/><stop offset=".598" stop-color="#f1f8fd"/></linearGradient><linearGradient id="h309"><stop offset=".401" stop-color="#f3f9fd"/><stop offset=".420" stop-color="#f1f8fd"/><stop offset=".430" stop-color="#eff7fd"/><stop offset=".440" stop-color="#edf6fc"/><stop offset=".449" stop-color="#eaf5fc"/><stop offset=".469" stop-color="#e7f3fb"/><stop offset=".534" stop-color="#e7f3fb"/><stop offset=".553" stop-color="#eaf5fc"/><stop offset=".563" stop-color="#edf6fc"/><stop offset=".573" stop-color="#eff7fd"/><stop offset=".583" stop-color="#f1f8fd"/><stop offset=".602" stop-color="#f3f9fd"/></linearGradient><linearGradient id="h310"><stop offset=".392" stop-color="#f2f8fd"/><stop offset=".411" stop-color="#f0f7fd"/><stop offset=".420" stop-color="#eef6fc"/><stop offset=".430" stop-color="#ecf5fc"/><stop offset=".439" stop-color="#eaf4fc"/><stop offset=".458" stop-color="#e7f3fb"/><stop offset=".521" stop-color="#e7f3fb"/><stop offset=".539" stop-color="#eaf4fc"/><stop offset=".549" stop-color="#ecf5fc"/><stop offset=".558" stop-color="#eef6fc"/><stop offset=".568" stop-color="#f0f7fd"/><stop offset=".587" stop-color="#f2f8fd"/></linearGradient><linearGradient id="h311"><stop offset=".380" stop-color="#f2f8fd"/><stop offset=".400" stop-color="#f1f8fd"/><stop offset=".411" stop-color="#eff7fd"/><stop offset=".421" stop-color="#eef7fc"/><stop offset=".431" stop-color="#edf6fc"/><stop offset=".451" stop-color="#eaf5fc"/><stop offset=".519" stop-color="#eaf5fc"/><stop offset=".539" stop-color="#edf6fc"/><stop offset=".549" stop-color="#eef7fc"/><stop offset=".559" stop-color="#eff7fd"/><stop offset=".569" stop-color="#f1f8fd"/><stop offset=".590" stop-color="#f2f8fd"/></linearGradient><linearGradient id="h312"><stop offset=".397" stop-color="#f2f9fd"/><stop offset=".418" stop-color="#f0f8fd"/><stop offset=".428" stop-color="#eef7fc"/><stop offset=".439" stop-color="#ecf5fc"/><stop offset=".449" stop-color="#e9f4fb"/><stop offset=".470" stop-color="#e5f2fb"/><stop offset=".540" stop-color="#e5f2fb"/><stop offset=".561" stop-color="#e9f4fb"/><stop offset=".572" stop-color="#ecf5fc"/><stop offset=".582" stop-color="#eef7fc"/><stop offset=".593" stop-color="#f0f8fd"/><stop offset=".614" stop-color="#f2f9fd"/></linearGradient><linearGradient id="h313"><stop offset=".398" stop-color="#f2f9fd"/><stop offset=".419" stop-color="#f1f8fd"/><stop offset=".429" stop-color="#eff7fd"/><stop offset=".439" stop-color="#eef6fc"/><stop offset=".449" stop-color="#ecf6fc"/><stop offset=".469" stop-color="#e9f4fb"/><stop offset=".537" stop-color="#e9f4fb"/><stop offset=".557" stop-color="#ecf6fc"/><stop offset=".567" stop-color="#eef6fc"/><stop offset=".577" stop-color="#eff7fd"/><stop offset=".588" stop-color="#f1f8fd"/><stop offset=".608" stop-color="#f2f9fd"/></linearGradient></defs>
<rect x="177.3" y="281.60" width="38.2" height="1.80" fill="url(#h0)"/><rect x="177.3" y="283.10" width="38.2" height="1.80" fill="url(#h1)"/><rect x="177.3" y="284.60" width="38.2" height="1.80" fill="url(#h2)"/><rect x="177.3" y="286.10" width="38.2" height="1.80" fill="url(#h3)"/><rect x="177.3" y="287.60" width="38.2" height="1.80" fill="url(#h4)"/><rect x="177.3" y="289.10" width="38.2" height="1.80" fill="url(#h5)"/><rect x="177.3" y="290.60" width="38.2" height="1.80" fill="url(#h6)"/><rect x="177.3" y="292.10" width="38.2" height="1.80" fill="url(#h7)"/><rect x="177.3" y="293.60" width="38.2" height="1.80" fill="url(#h8)"/><rect x="177.3" y="295.10" width="38.2" height="1.80" fill="url(#h9)"/><rect x="177.3" y="296.60" width="38.2" height="1.80" fill="url(#h10)"/><rect x="177.3" y="298.10" width="38.2" height="1.80" fill="url(#h11)"/><rect x="177.3" y="299.60" width="38.2" height="1.80" fill="url(#h12)"/><rect x="177.3" y="301.10" width="38.2" height="1.80" fill="url(#h13)"/><rect x="177.3" y="302.60" width="38.2" height="1.80" fill="url(#h14)"/><rect x="177.3" y="304.10" width="38.2" height="1.80" fill="url(#h15)"/><rect x="177.3" y="305.60" width="38.2" height="1.80" fill="url(#h16)"/><rect x="177.3" y="307.10" width="38.2" height="1.80" fill="url(#h17)"/><rect x="177.3" y="308.60" width="38.2" height="1.80" fill="url(#h18)"/><rect x="177.3" y="310.10" width="38.2" height="1.80" fill="url(#h19)"/><rect x="177.3" y="311.60" width="38.2" height="1.80" fill="url(#h20)"/><rect x="177.3" y="313.10" width="38.2" height="1.80" fill="url(#h21)"/><rect x="177.3" y="314.60" width="38.2" height="1.80" fill="url(#h22)"/><rect x="177.3" y="316.10" width="38.2" height="1.80" fill="url(#h23)"/><rect x="177.3" y="317.60" width="38.2" height="1.80" fill="url(#h24)"/><rect x="177.3" y="319.10" width="38.2" height="1.80" fill="url(#h25)"/><rect x="177.3" y="320.60" width="38.2" height="1.80" fill="url(#h26)"/><rect x="177.3" y="322.10" width="38.2" height="1.80" fill="url(#h27)"/><rect x="177.3" y="323.60" width="38.2" height="1.80" fill="url(#h28)"/><rect x="177.3" y="325.10" width="38.2" height="1.80" fill="url(#h29)"/><rect x="177.3" y="326.60" width="38.2" height="1.80" fill="url(#h30)"/><rect x="177.3" y="328.10" width="38.2" height="1.80" fill="url(#h31)"/><rect x="177.3" y="329.60" width="38.2" height="1.80" fill="url(#h32)"/><rect x="177.3" y="331.10" width="38.2" height="1.80" fill="url(#h33)"/><rect x="177.3" y="332.60" width="38.2" height="1.80" fill="url(#h34)"/><rect x="177.3" y="334.10" width="38.2" height="1.80" fill="url(#h35)"/><rect x="177.3" y="335.60" width="38.2" height="1.80" fill="url(#h36)"/><rect x="177.3" y="337.10" width="38.2" height="1.80" fill="url(#h37)"/><rect x="177.3" y="338.60" width="38.2" height="1.80" fill="url(#h38)"/><rect x="177.3" y="340.10" width="38.2" height="1.80" fill="url(#h39)"/><rect x="177.3" y="341.60" width="38.2" height="1.80" fill="url(#h40)"/><rect x="177.3" y="343.10" width="38.2" height="1.80" fill="url(#h41)"/><rect x="177.3" y="344.60" width="38.2" height="1.80" fill="url(#h42)"/><rect x="177.3" y="346.10" width="38.2" height="1.80" fill="url(#h43)"/><rect x="177.3" y="347.60" width="38.2" height="1.80" fill="url(#h44)"/><rect x="177.3" y="349.10" width="38.2" height="1.80" fill="url(#h45)"/><rect x="177.3" y="350.60" width="38.2" height="1.80" fill="url(#h46)"/><rect x="177.3" y="352.10" width="38.2" height="1.80" fill="url(#h47)"/><rect x="177.3" y="353.60" width="38.2" height="1.80" fill="url(#h48)"/><rect x="177.3" y="355.10" width="38.2" height="1.80" fill="url(#h49)"/><rect x="177.3" y="356.60" width="38.2" height="1.80" fill="url(#h50)"/><rect x="177.3" y="358.10" width="38.2" height="1.80" fill="url(#h51)"/><rect x="177.3" y="359.60" width="38.2" height="1.80" fill="url(#h52)"/><rect x="177.3" y="361.10" width="38.2" height="1.80" fill="url(#h53)"/><rect x="177.3" y="362.60" width="38.2" height="1.80" fill="url(#h54)"/><rect x="177.3" y="364.10" width="38.2" height="1.80" fill="url(#h55)"/><rect x="177.3" y="365.60" width="38.2" height="1.80" fill="url(#h56)"/><rect x="177.3" y="367.10" width="38.2" height="1.80" fill="url(#h57)"/><rect x="177.3" y="368.60" width="38.2" height="1.80" fill="url(#h58)"/><rect x="177.3" y="370.10" width="38.2" height="1.80" fill="url(#h59)"/><rect x="177.3" y="371.60" width="38.2" height="1.80" fill="url(#h60)"/><rect x="177.3" y="373.10" width="38.2" height="1.80" fill="url(#h61)"/><rect x="177.3" y="374.60" width="38.2" height="1.80" fill="url(#h62)"/><rect x="177.3" y="376.10" width="38.2" height="1.80" fill="url(#h63)"/><rect x="177.3" y="377.60" width="38.2" height="1.80" fill="url(#h64)"/><rect x="177.3" y="379.10" width="38.2" height="1.80" fill="url(#h65)"/><rect x="177.3" y="380.60" width="38.2" height="1.80" fill="url(#h66)"/><rect x="177.3" y="382.10" width="38.2" height="1.80" fill="url(#h67)"/><rect x="177.3" y="383.60" width="38.2" height="1.80" fill="url(#h68)"/><rect x="177.3" y="385.10" width="38.2" height="1.80" fill="url(#h69)"/><rect x="177.3" y="386.60" width="38.2" height="1.80" fill="url(#h70)"/><rect x="177.3" y="388.10" width="38.2" height="1.80" fill="url(#h71)"/><rect x="177.3" y="389.60" width="38.2" height="1.80" fill="url(#h72)"/><rect x="177.3" y="391.10" width="38.2" height="1.80" fill="url(#h73)"/><rect x="177.3" y="392.60" width="38.2" height="1.80" fill="url(#h74)"/><rect x="177.3" y="394.10" width="38.2" height="1.80" fill="url(#h75)"/><rect x="177.3" y="395.60" width="38.2" height="1.80" fill="url(#h76)"/><rect x="177.3" y="397.10" width="38.2" height="1.80" fill="url(#h77)"/><rect x="177.3" y="398.60" width="38.2" height="1.80" fill="url(#h78)"/><rect x="177.3" y="400.10" width="38.2" height="1.80" fill="url(#h79)"/><rect x="177.3" y="401.60" width="38.2" height="1.80" fill="url(#h80)"/><rect x="177.3" y="403.10" width="38.2" height="1.80" fill="url(#h81)"/><rect x="177.3" y="404.60" width="38.2" height="1.80" fill="url(#h82)"/><rect x="177.3" y="406.10" width="38.2" height="1.80" fill="url(#h83)"/><rect x="177.3" y="407.60" width="38.2" height="1.80" fill="url(#h84)"/><rect x="177.3" y="409.10" width="38.2" height="1.80" fill="url(#h85)"/><rect x="177.3" y="410.60" width="38.2" height="1.80" fill="url(#h86)"/><rect x="177.3" y="412.10" width="38.2" height="1.80" fill="url(#h87)"/><rect x="177.3" y="413.60" width="38.2" height="1.80" fill="url(#h88)"/><rect x="177.3" y="415.10" width="38.2" height="1.80" fill="url(#h89)"/><rect x="177.3" y="416.60" width="38.2" height="1.80" fill="url(#h90)"/><rect x="177.3" y="418.10" width="38.2" height="1.80" fill="url(#h91)"/><rect x="177.3" y="419.60" width="38.2" height="1.80" fill="url(#h92)"/><rect x="177.3" y="421.10" width="38.2" height="1.80" fill="url(#h93)"/><rect x="177.3" y="422.60" width="38.2" height="1.80" fill="url(#h94)"/><rect x="177.3" y="424.10" width="38.2" height="1.80" fill="url(#h95)"/><rect x="177.3" y="425.60" width="38.2" height="1.80" fill="url(#h96)"/><rect x="177.3" y="427.10" width="38.2" height="1.80" fill="url(#h97)"/><rect x="177.3" y="428.60" width="38.2" height="1.80" fill="url(#h98)"/><rect x="177.3" y="430.10" width="38.2" height="1.80" fill="url(#h99)"/><rect x="177.3" y="431.60" width="38.2" height="1.80" fill="url(#h100)"/><rect x="177.3" y="433.10" width="38.2" height="1.80" fill="url(#h101)"/><rect x="177.3" y="434.60" width="38.2" height="1.80" fill="url(#h102)"/><rect x="177.3" y="436.10" width="38.2" height="1.80" fill="url(#h103)"/><rect x="177.3" y="437.60" width="38.2" height="1.80" fill="url(#h104)"/><rect x="177.3" y="439.10" width="38.2" height="1.80" fill="url(#h105)"/><rect x="177.3" y="440.60" width="38.2" height="1.80" fill="url(#h106)"/><rect x="177.3" y="442.10" width="38.2" height="1.80" fill="url(#h107)"/><rect x="177.3" y="443.60" width="38.2" height="1.80" fill="url(#h108)"/><rect x="177.3" y="445.10" width="38.2" height="1.80" fill="url(#h109)"/><rect x="177.3" y="446.60" width="38.2" height="1.80" fill="url(#h110)"/><rect x="177.3" y="448.10" width="38.2" height="1.80" fill="url(#h111)"/><rect x="177.3" y="449.60" width="38.2" height="1.80" fill="url(#h112)"/><rect x="177.3" y="451.10" width="38.2" height="1.80" fill="url(#h113)"/><rect x="177.3" y="452.60" width="38.2" height="1.80" fill="url(#h114)"/><rect x="177.3" y="454.10" width="38.2" height="1.80" fill="url(#h115)"/><rect x="177.3" y="455.60" width="38.2" height="1.80" fill="url(#h116)"/><rect x="177.3" y="457.10" width="38.2" height="1.80" fill="url(#h117)"/><rect x="177.3" y="458.60" width="38.2" height="1.80" fill="url(#h118)"/><rect x="177.3" y="460.10" width="38.2" height="1.80" fill="url(#h119)"/><rect x="177.3" y="461.60" width="38.2" height="1.80" fill="url(#h120)"/><rect x="177.3" y="463.10" width="38.2" height="1.80" fill="url(#h121)"/><rect x="177.3" y="464.60" width="38.2" height="1.80" fill="url(#h122)"/><rect x="177.3" y="466.10" width="38.2" height="1.80" fill="url(#h123)"/><rect x="177.3" y="467.60" width="38.2" height="1.80" fill="url(#h124)"/><rect x="177.3" y="469.10" width="38.2" height="1.80" fill="url(#h125)"/><rect x="177.3" y="470.60" width="38.2" height="1.80" fill="url(#h126)"/><rect x="177.3" y="472.10" width="38.2" height="1.80" fill="url(#h127)"/><rect x="177.3" y="473.60" width="38.2" height="1.80" fill="url(#h128)"/><rect x="177.3" y="475.10" width="38.2" height="1.80" fill="url(#h129)"/><rect x="177.3" y="476.60" width="38.2" height="1.80" fill="url(#h130)"/><rect x="177.3" y="478.10" width="38.2" height="1.80" fill="url(#h131)"/><rect x="177.3" y="479.60" width="38.2" height="1.80" fill="url(#h132)"/><rect x="177.3" y="481.10" width="38.2" height="1.80" fill="url(#h133)"/><rect x="177.3" y="482.60" width="38.2" height="1.80" fill="url(#h134)"/><rect x="177.3" y="484.10" width="38.2" height="1.80" fill="url(#h135)"/><rect x="177.3" y="485.60" width="38.2" height="1.80" fill="url(#h136)"/><rect x="177.3" y="487.10" width="38.2" height="1.80" fill="url(#h137)"/><rect x="177.3" y="488.60" width="38.2" height="1.80" fill="url(#h138)"/><rect x="177.3" y="490.10" width="38.2" height="1.80" fill="url(#h139)"/><rect x="177.3" y="491.60" width="38.2" height="1.80" fill="url(#h140)"/><rect x="177.3" y="493.10" width="38.2" height="1.80" fill="url(#h141)"/><rect x="177.3" y="494.60" width="38.2" height="1.80" fill="url(#h142)"/><rect x="177.3" y="496.10" width="38.2" height="1.80" fill="url(#h143)"/><rect x="177.3" y="497.60" width="38.2" height="1.80" fill="url(#h144)"/><rect x="177.3" y="499.10" width="38.2" height="1.80" fill="url(#h145)"/><rect x="177.3" y="500.60" width="38.2" height="1.80" fill="url(#h146)"/><rect x="177.3" y="502.10" width="38.2" height="1.80" fill="url(#h147)"/><rect x="177.3" y="503.60" width="38.2" height="1.80" fill="url(#h148)"/><rect x="177.3" y="505.10" width="38.2" height="1.80" fill="url(#h149)"/><rect x="177.3" y="506.60" width="38.2" height="1.80" fill="url(#h150)"/><rect x="177.3" y="508.10" width="38.2" height="1.80" fill="url(#h151)"/><rect x="177.3" y="509.60" width="38.2" height="1.80" fill="url(#h152)"/><rect x="177.3" y="511.10" width="38.2" height="1.80" fill="url(#h153)"/><rect x="177.3" y="512.60" width="38.2" height="1.80" fill="url(#h154)"/><rect x="177.3" y="514.10" width="38.2" height="1.80" fill="url(#h155)"/><rect x="177.3" y="515.60" width="38.2" height="0.60" fill="url(#h156)"/><rect x="217.8" y="281.60" width="37.9" height="1.80" fill="url(#h157)"/><rect x="217.8" y="283.10" width="37.9" height="1.80" fill="url(#h158)"/><rect x="217.8" y="284.60" width="37.9" height="1.80" fill="url(#h159)"/><rect x="217.8" y="286.10" width="37.9" height="1.80" fill="url(#h160)"/><rect x="217.8" y="287.60" width="37.9" height="1.80" fill="url(#h161)"/><rect x="217.8" y="289.10" width="37.9" height="1.80" fill="url(#h162)"/><rect x="217.8" y="290.60" width="37.9" height="1.80" fill="url(#h163)"/><rect x="217.8" y="292.10" width="37.9" height="1.80" fill="url(#h164)"/><rect x="217.8" y="293.60" width="37.9" height="1.80" fill="url(#h165)"/><rect x="217.8" y="295.10" width="37.9" height="1.80" fill="url(#h166)"/><rect x="217.8" y="296.60" width="37.9" height="1.80" fill="url(#h167)"/><rect x="217.8" y="298.10" width="37.9" height="1.80" fill="url(#h168)"/><rect x="217.8" y="299.60" width="37.9" height="1.80" fill="url(#h169)"/><rect x="217.8" y="301.10" width="37.9" height="1.80" fill="url(#h170)"/><rect x="217.8" y="302.60" width="37.9" height="1.80" fill="url(#h171)"/><rect x="217.8" y="304.10" width="37.9" height="1.80" fill="url(#h172)"/><rect x="217.8" y="305.60" width="37.9" height="1.80" fill="url(#h173)"/><rect x="217.8" y="307.10" width="37.9" height="1.80" fill="url(#h174)"/><rect x="217.8" y="308.60" width="37.9" height="1.80" fill="url(#h175)"/><rect x="217.8" y="310.10" width="37.9" height="1.80" fill="url(#h176)"/><rect x="217.8" y="311.60" width="37.9" height="1.80" fill="url(#h177)"/><rect x="217.8" y="313.10" width="37.9" height="1.80" fill="url(#h178)"/><rect x="217.8" y="314.60" width="37.9" height="1.80" fill="url(#h179)"/><rect x="217.8" y="316.10" width="37.9" height="1.80" fill="url(#h180)"/><rect x="217.8" y="317.60" width="37.9" height="1.80" fill="url(#h181)"/><rect x="217.8" y="319.10" width="37.9" height="1.80" fill="url(#h182)"/><rect x="217.8" y="320.60" width="37.9" height="1.80" fill="url(#h183)"/><rect x="217.8" y="322.10" width="37.9" height="1.80" fill="url(#h184)"/><rect x="217.8" y="323.60" width="37.9" height="1.80" fill="url(#h185)"/><rect x="217.8" y="325.10" width="37.9" height="1.80" fill="url(#h186)"/><rect x="217.8" y="326.60" width="37.9" height="1.80" fill="url(#h187)"/><rect x="217.8" y="328.10" width="37.9" height="1.80" fill="url(#h188)"/><rect x="217.8" y="329.60" width="37.9" height="1.80" fill="url(#h189)"/><rect x="217.8" y="331.10" width="37.9" height="1.80" fill="url(#h190)"/><rect x="217.8" y="332.60" width="37.9" height="1.80" fill="url(#h191)"/><rect x="217.8" y="334.10" width="37.9" height="1.80" fill="url(#h192)"/><rect x="217.8" y="335.60" width="37.9" height="1.80" fill="url(#h193)"/><rect x="217.8" y="337.10" width="37.9" height="1.80" fill="url(#h194)"/><rect x="217.8" y="338.60" width="37.9" height="1.80" fill="url(#h195)"/><rect x="217.8" y="340.10" width="37.9" height="1.80" fill="url(#h196)"/><rect x="217.8" y="341.60" width="37.9" height="1.80" fill="url(#h197)"/><rect x="217.8" y="343.10" width="37.9" height="1.80" fill="url(#h198)"/><rect x="217.8" y="344.60" width="37.9" height="1.80" fill="url(#h199)"/><rect x="217.8" y="346.10" width="37.9" height="1.80" fill="url(#h200)"/><rect x="217.8" y="347.60" width="37.9" height="1.80" fill="url(#h201)"/><rect x="217.8" y="349.10" width="37.9" height="1.80" fill="url(#h202)"/><rect x="217.8" y="350.60" width="37.9" height="1.80" fill="url(#h203)"/><rect x="217.8" y="352.10" width="37.9" height="1.80" fill="url(#h204)"/><rect x="217.8" y="353.60" width="37.9" height="1.80" fill="url(#h205)"/><rect x="217.8" y="355.10" width="37.9" height="1.80" fill="url(#h206)"/><rect x="217.8" y="356.60" width="37.9" height="1.80" fill="url(#h207)"/><rect x="217.8" y="358.10" width="37.9" height="1.80" fill="url(#h208)"/><rect x="217.8" y="359.60" width="37.9" height="1.80" fill="url(#h209)"/><rect x="217.8" y="361.10" width="37.9" height="1.80" fill="url(#h210)"/><rect x="217.8" y="362.60" width="37.9" height="1.80" fill="url(#h211)"/><rect x="217.8" y="364.10" width="37.9" height="1.80" fill="url(#h212)"/><rect x="217.8" y="365.60" width="37.9" height="1.80" fill="url(#h213)"/><rect x="217.8" y="367.10" width="37.9" height="1.80" fill="url(#h214)"/><rect x="217.8" y="368.60" width="37.9" height="1.80" fill="url(#h215)"/><rect x="217.8" y="370.10" width="37.9" height="1.80" fill="url(#h216)"/><rect x="217.8" y="371.60" width="37.9" height="1.80" fill="url(#h217)"/><rect x="217.8" y="373.10" width="37.9" height="1.80" fill="url(#h218)"/><rect x="217.8" y="374.60" width="37.9" height="1.80" fill="url(#h219)"/><rect x="217.8" y="376.10" width="37.9" height="1.80" fill="url(#h220)"/><rect x="217.8" y="377.60" width="37.9" height="1.80" fill="url(#h221)"/><rect x="217.8" y="379.10" width="37.9" height="1.80" fill="url(#h222)"/><rect x="217.8" y="380.60" width="37.9" height="1.80" fill="url(#h223)"/><rect x="217.8" y="382.10" width="37.9" height="1.80" fill="url(#h224)"/><rect x="217.8" y="383.60" width="37.9" height="1.80" fill="url(#h225)"/><rect x="217.8" y="385.10" width="37.9" height="1.80" fill="url(#h226)"/><rect x="217.8" y="386.60" width="37.9" height="1.80" fill="url(#h227)"/><rect x="217.8" y="388.10" width="37.9" height="1.80" fill="url(#h228)"/><rect x="217.8" y="389.60" width="37.9" height="1.80" fill="url(#h229)"/><rect x="217.8" y="391.10" width="37.9" height="1.80" fill="url(#h230)"/><rect x="217.8" y="392.60" width="37.9" height="1.80" fill="url(#h231)"/><rect x="217.8" y="394.10" width="37.9" height="1.80" fill="url(#h232)"/><rect x="217.8" y="395.60" width="37.9" height="1.80" fill="url(#h233)"/><rect x="217.8" y="397.10" width="37.9" height="1.80" fill="url(#h234)"/><rect x="217.8" y="398.60" width="37.9" height="1.80" fill="url(#h235)"/><rect x="217.8" y="400.10" width="37.9" height="1.80" fill="url(#h236)"/><rect x="217.8" y="401.60" width="37.9" height="1.80" fill="url(#h237)"/><rect x="217.8" y="403.10" width="37.9" height="1.80" fill="url(#h238)"/><rect x="217.8" y="404.60" width="37.9" height="1.80" fill="url(#h239)"/><rect x="217.8" y="406.10" width="37.9" height="1.80" fill="url(#h240)"/><rect x="217.8" y="407.60" width="37.9" height="1.80" fill="url(#h241)"/><rect x="217.8" y="409.10" width="37.9" height="1.80" fill="url(#h242)"/><rect x="217.8" y="410.60" width="37.9" height="1.80" fill="url(#h243)"/><rect x="217.8" y="412.10" width="37.9" height="1.80" fill="url(#h244)"/><rect x="217.8" y="413.60" width="37.9" height="1.80" fill="url(#h245)"/><rect x="217.8" y="415.10" width="37.9" height="1.80" fill="url(#h246)"/><rect x="217.8" y="416.60" width="37.9" height="1.80" fill="url(#h247)"/><rect x="217.8" y="418.10" width="37.9" height="1.80" fill="url(#h248)"/><rect x="217.8" y="419.60" width="37.9" height="1.80" fill="url(#h249)"/><rect x="217.8" y="421.10" width="37.9" height="1.80" fill="url(#h250)"/><rect x="217.8" y="422.60" width="37.9" height="1.80" fill="url(#h251)"/><rect x="217.8" y="424.10" width="37.9" height="1.80" fill="url(#h252)"/><rect x="217.8" y="425.60" width="37.9" height="1.80" fill="url(#h253)"/><rect x="217.8" y="427.10" width="37.9" height="1.80" fill="url(#h254)"/><rect x="217.8" y="428.60" width="37.9" height="1.80" fill="url(#h255)"/><rect x="217.8" y="430.10" width="37.9" height="1.80" fill="url(#h256)"/><rect x="217.8" y="431.60" width="37.9" height="1.80" fill="url(#h257)"/><rect x="217.8" y="433.10" width="37.9" height="1.80" fill="url(#h258)"/><rect x="217.8" y="434.60" width="37.9" height="1.80" fill="url(#h259)"/><rect x="217.8" y="436.10" width="37.9" height="1.80" fill="url(#h260)"/><rect x="217.8" y="437.60" width="37.9" height="1.80" fill="url(#h261)"/><rect x="217.8" y="439.10" width="37.9" height="1.80" fill="url(#h262)"/><rect x="217.8" y="440.60" width="37.9" height="1.80" fill="url(#h263)"/><rect x="217.8" y="442.10" width="37.9" height="1.80" fill="url(#h264)"/><rect x="217.8" y="443.60" width="37.9" height="1.80" fill="url(#h265)"/><rect x="217.8" y="445.10" width="37.9" height="1.80" fill="url(#h266)"/><rect x="217.8" y="446.60" width="37.9" height="1.80" fill="url(#h267)"/><rect x="217.8" y="448.10" width="37.9" height="1.80" fill="url(#h268)"/><rect x="217.8" y="449.60" width="37.9" height="1.80" fill="url(#h269)"/><rect x="217.8" y="451.10" width="37.9" height="1.80" fill="url(#h270)"/><rect x="217.8" y="452.60" width="37.9" height="1.80" fill="url(#h271)"/><rect x="217.8" y="454.10" width="37.9" height="1.80" fill="url(#h272)"/><rect x="217.8" y="455.60" width="37.9" height="1.80" fill="url(#h273)"/><rect x="217.8" y="457.10" width="37.9" height="1.80" fill="url(#h274)"/><rect x="217.8" y="458.60" width="37.9" height="1.80" fill="url(#h275)"/><rect x="217.8" y="460.10" width="37.9" height="1.80" fill="url(#h276)"/><rect x="217.8" y="461.60" width="37.9" height="1.80" fill="url(#h277)"/><rect x="217.8" y="463.10" width="37.9" height="1.80" fill="url(#h278)"/><rect x="217.8" y="464.60" width="37.9" height="1.80" fill="url(#h279)"/><rect x="217.8" y="466.10" width="37.9" height="1.80" fill="url(#h280)"/><rect x="217.8" y="467.60" width="37.9" height="1.80" fill="url(#h281)"/><rect x="217.8" y="469.10" width="37.9" height="1.80" fill="url(#h282)"/><rect x="217.8" y="470.60" width="37.9" height="1.80" fill="url(#h283)"/><rect x="217.8" y="472.10" width="37.9" height="1.80" fill="url(#h284)"/><rect x="217.8" y="473.60" width="37.9" height="1.80" fill="url(#h285)"/><rect x="217.8" y="475.10" width="37.9" height="1.80" fill="url(#h286)"/><rect x="217.8" y="476.60" width="37.9" height="1.80" fill="url(#h287)"/><rect x="217.8" y="478.10" width="37.9" height="1.80" fill="url(#h288)"/><rect x="217.8" y="479.60" width="37.9" height="1.80" fill="url(#h289)"/><rect x="217.8" y="481.10" width="37.9" height="1.80" fill="url(#h290)"/><rect x="217.8" y="482.60" width="37.9" height="1.80" fill="url(#h291)"/><rect x="217.8" y="484.10" width="37.9" height="1.80" fill="url(#h292)"/><rect x="217.8" y="485.60" width="37.9" height="1.80" fill="url(#h293)"/><rect x="217.8" y="487.10" width="37.9" height="1.80" fill="url(#h294)"/><rect x="217.8" y="488.60" width="37.9" height="1.80" fill="url(#h295)"/><rect x="217.8" y="490.10" width="37.9" height="1.80" fill="url(#h296)"/><rect x="217.8" y="491.60" width="37.9" height="1.80" fill="url(#h297)"/><rect x="217.8" y="493.10" width="37.9" height="1.80" fill="url(#h298)"/><rect x="217.8" y="494.60" width="37.9" height="1.80" fill="url(#h299)"/><rect x="217.8" y="496.10" width="37.9" height="1.80" fill="url(#h300)"/><rect x="217.8" y="497.60" width="37.9" height="1.80" fill="url(#h301)"/><rect x="217.8" y="499.10" width="37.9" height="1.80" fill="url(#h302)"/><rect x="217.8" y="500.60" width="37.9" height="1.80" fill="url(#h303)"/><rect x="217.8" y="502.10" width="37.9" height="1.80" fill="url(#h304)"/><rect x="217.8" y="503.60" width="37.9" height="1.80" fill="url(#h305)"/><rect x="217.8" y="505.10" width="37.9" height="1.80" fill="url(#h306)"/><rect x="217.8" y="506.60" width="37.9" height="1.80" fill="url(#h307)"/><rect x="217.8" y="508.10" width="37.9" height="1.80" fill="url(#h308)"/><rect x="217.8" y="509.60" width="37.9" height="1.80" fill="url(#h309)"/><rect x="217.8" y="511.10" width="37.9" height="1.80" fill="url(#h310)"/><rect x="217.8" y="512.60" width="37.9" height="1.80" fill="url(#h311)"/><rect x="217.8" y="514.10" width="37.9" height="1.80" fill="url(#h312)"/><rect x="217.8" y="515.60" width="37.9" height="0.60" fill="url(#h313)"/>
<rect x="177.30" y="281.60" width="38.20" height="234.60" fill="none" stroke="#222" stroke-width="0.9"/>
<rect x="217.80" y="281.60" width="37.90" height="234.60" fill="none" stroke="#222" stroke-width="0.9"/>
<defs><linearGradient id="cbg" x1="0" y1="0" x2="0" y2="1"><stop offset="0.000" stop-color="#0b326c"/><stop offset="0.130" stop-color="#104e96"/><stop offset="0.261" stop-color="#1b6fb5"/><stop offset="0.391" stop-color="#268ccf"/><stop offset="0.478" stop-color="#3aa0db"/><stop offset="0.609" stop-color="#68bbe8"/><stop offset="0.739" stop-color="#b5dcf2"/><stop offset="0.826" stop-color="#d9ecf8"/><stop offset="0.913" stop-color="#f1f8fd"/><stop offset="1.000" stop-color="#ffffff"/></linearGradient></defs>
<rect x="258.20" y="281.60" width="4.00" height="234.10" fill="url(#cbg)" stroke="#555" stroke-width="0.5"/>
<line x1="262.20" y1="515.10" x2="264.60" y2="515.10" stroke="#1a1a1a" stroke-width="0.8" />
<text x="267.90" y="517.75" font-size="7.5" text-anchor="start" font-weight="normal" font-style="normal" fill="#1a1a1a" >0</text>
<line x1="262.20" y1="463.75" x2="264.60" y2="463.75" stroke="#1a1a1a" stroke-width="0.8" />
<text x="267.90" y="466.40" font-size="7.5" text-anchor="start" font-weight="normal" font-style="normal" fill="#1a1a1a" >5</text>
<line x1="262.20" y1="412.40" x2="264.60" y2="412.40" stroke="#1a1a1a" stroke-width="0.8" />
<text x="267.90" y="415.05" font-size="7.5" text-anchor="start" font-weight="normal" font-style="normal" fill="#1a1a1a" >10</text>
<line x1="262.20" y1="361.05" x2="264.60" y2="361.05" stroke="#1a1a1a" stroke-width="0.8" />
<text x="267.90" y="363.70" font-size="7.5" text-anchor="start" font-weight="normal" font-style="normal" fill="#1a1a1a" >15</text>
<line x1="262.20" y1="309.70" x2="264.60" y2="309.70" stroke="#1a1a1a" stroke-width="0.8" />
<text x="267.90" y="312.35" font-size="7.5" text-anchor="start" font-weight="normal" font-style="normal" fill="#1a1a1a" >20</text>
<line x1="177.30" y1="516.20" x2="177.30" y2="518.60" stroke="#1a1a1a" stroke-width="0.8" />
<line x1="190.03" y1="516.20" x2="190.03" y2="518.60" stroke="#1a1a1a" stroke-width="0.8" />
<line x1="202.77" y1="516.20" x2="202.77" y2="518.60" stroke="#1a1a1a" stroke-width="0.8" />
<line x1="215.50" y1="516.20" x2="215.50" y2="518.60" stroke="#1a1a1a" stroke-width="0.8" />
<line x1="217.80" y1="516.20" x2="217.80" y2="518.60" stroke="#1a1a1a" stroke-width="0.8" />
<line x1="230.43" y1="516.20" x2="230.43" y2="518.60" stroke="#1a1a1a" stroke-width="0.8" />
<line x1="243.07" y1="516.20" x2="243.07" y2="518.60" stroke="#1a1a1a" stroke-width="0.8" />
<line x1="255.70" y1="516.20" x2="255.70" y2="518.60" stroke="#1a1a1a" stroke-width="0.8" />
<text x="176.20" y="529.00" font-size="7.0" text-anchor="middle" font-weight="normal" font-style="normal" fill="#1a1a1a" >−1</text>
<text x="216.60" y="529.00" font-size="7.0" text-anchor="middle" font-weight="normal" font-style="normal" fill="#1a1a1a" >1−1</text>
<text x="255.20" y="529.00" font-size="7.0" text-anchor="middle" font-weight="normal" font-style="normal" fill="#1a1a1a" >1</text>
<text x="0" y="0" transform="translate(216.00 541.00) scale(0.7 1)" font-size="8.5" text-anchor="middle" font-weight="bold" font-style="normal" fill="#1a1a1a" opacity="0.8">Distance from centre</text>
<text x="0" y="0" transform="translate(172.40 399.00) rotate(-90) scale(0.66 1)" font-size="8.5" text-anchor="middle" font-weight="bold" font-style="normal" fill="#1a1a1a" opacity="0.8">Peaks</text>
<rect x="177.30" y="270.84" width="38.20" height="2.56" fill="#dcdfe6" />
<polygon points="177.3,273.4 177.3,270.84 177.8,270.84 178.3,270.84 178.8,270.84 179.3,270.84 179.8,270.84 180.3,270.84 180.8,270.84 181.3,270.84 181.8,270.84 182.3,270.84 182.8,270.84 183.3,270.84 183.8,270.84 184.3,270.84 184.8,270.83 185.3,270.82 185.8,270.81 186.3,270.77 186.8,270.72 187.3,270.63 187.8,270.48 188.3,270.24 188.8,269.88 189.3,269.36 189.8,268.61 190.3,267.58 190.8,266.23 191.3,264.50 191.8,262.38 192.3,259.89 192.8,257.07 193.3,254.03 193.8,250.93 194.3,247.94 194.8,245.28 195.3,243.14 195.8,241.71 196.3,241.09 196.8,241.36 197.3,242.47 197.8,244.35 198.3,246.82 198.8,249.71 199.3,252.79 199.8,255.87 200.3,258.79 200.8,261.43 201.3,263.70 201.8,265.58 202.3,267.08 202.8,268.24 203.3,269.09 203.8,269.69 204.3,270.11 204.8,270.39 205.3,270.57 205.8,270.69 206.3,270.75 206.8,270.79 207.3,270.82 207.8,270.83 208.3,270.84 208.8,270.84 209.3,270.84 209.8,270.84 210.3,270.84 210.8,270.84 211.3,270.84 211.8,270.84 212.3,270.84 212.8,270.84 213.3,270.84 213.8,270.84 214.3,270.84 214.8,270.84 215.3,270.84 215.5,273.4" fill="#ffffff" opacity="0"/>
<polyline points="177.3,270.84 177.8,270.84 178.3,270.84 178.8,270.84 179.3,270.84 179.8,270.84 180.3,270.84 180.8,270.84 181.3,270.84 181.8,270.84 182.3,270.84 182.8,270.84 183.3,270.84 183.8,270.84 184.3,270.84 184.8,270.83 185.3,270.82 185.8,270.81 186.3,270.77 186.8,270.72 187.3,270.63 187.8,270.48 188.3,270.24 188.8,269.88 189.3,269.36 189.8,268.61 190.3,267.58 190.8,266.23 191.3,264.50 191.8,262.38 192.3,259.89 192.8,257.07 193.3,254.03 193.8,250.93 194.3,247.94 194.8,245.28 195.3,243.14 195.8,241.71 196.3,241.09 196.8,241.36 197.3,242.47 197.8,244.35 198.3,246.82 198.8,249.71 199.3,252.79 199.8,255.87 200.3,258.79 200.8,261.43 201.3,263.70 201.8,265.58 202.3,267.08 202.8,268.24 203.3,269.09 203.8,269.69 204.3,270.11 204.8,270.39 205.3,270.57 205.8,270.69 206.3,270.75 206.8,270.79 207.3,270.82 207.8,270.83 208.3,270.84 208.8,270.84 209.3,270.84 209.8,270.84 210.3,270.84 210.8,270.84 211.3,270.84 211.8,270.84 212.3,270.84 212.8,270.84 213.3,270.84 213.8,270.84 214.3,270.84 214.8,270.84 215.3,270.84" fill="none" stroke="#4f7aab" stroke-width="0.75"/>
<rect x="177.30" y="239.70" width="38.20" height="33.70" fill="none" stroke="#222" stroke-width="0.9"/>
<line x1="177.30" y1="273.40" x2="177.30" y2="275.20" stroke="#7a4a3a" stroke-width="0.7" />
<line x1="190.03" y1="273.40" x2="190.03" y2="275.20" stroke="#7a4a3a" stroke-width="0.7" />
<line x1="202.77" y1="273.40" x2="202.77" y2="275.20" stroke="#7a4a3a" stroke-width="0.7" />
<line x1="215.50" y1="273.40" x2="215.50" y2="275.20" stroke="#7a4a3a" stroke-width="0.7" />
<line x1="174.80" y1="271.70" x2="177.30" y2="271.70" stroke="#1a1a1a" stroke-width="0.8" />
<line x1="174.80" y1="259.45" x2="177.30" y2="259.45" stroke="#1a1a1a" stroke-width="0.8" />
<line x1="174.80" y1="247.20" x2="177.30" y2="247.20" stroke="#1a1a1a" stroke-width="0.8" />
<rect x="217.80" y="270.84" width="37.90" height="2.56" fill="#dcdfe6" />
<polygon points="217.8,273.4 217.8,270.84 218.3,270.84 218.8,270.84 219.3,270.84 219.8,270.84 220.3,270.84 220.8,270.84 221.3,270.84 221.8,270.84 222.3,270.84 222.8,270.84 223.3,270.84 223.8,270.83 224.3,270.83 224.8,270.81 225.3,270.79 225.8,270.76 226.3,270.70 226.8,270.61 227.3,270.48 227.8,270.29 228.3,270.00 228.8,269.61 229.3,269.07 229.8,268.36 230.3,267.44 230.8,266.29 231.3,264.90 231.8,263.26 232.3,261.39 232.8,259.33 233.3,257.16 233.8,254.96 234.3,252.84 234.8,250.91 235.3,249.29 235.8,248.09 236.3,247.38 236.8,247.21 237.3,247.60 237.8,248.52 238.3,249.90 238.8,251.65 239.3,253.67 239.8,255.84 240.3,258.04 240.8,260.17 241.3,262.16 241.8,263.94 242.3,265.48 242.8,266.78 243.3,267.84 243.8,268.67 244.3,269.31 244.8,269.78 245.3,270.13 245.8,270.37 246.3,270.54 246.8,270.65 247.3,270.73 247.8,270.77 248.3,270.80 248.8,270.82 249.3,270.83 249.8,270.84 250.3,270.84 250.8,270.84 251.3,270.84 251.8,270.84 252.3,270.84 252.8,270.84 253.3,270.84 253.8,270.84 254.3,270.84 254.8,270.84 255.3,270.84 255.7,273.4" fill="#ffffff" opacity="0"/>
<polyline points="217.8,270.84 218.3,270.84 218.8,270.84 219.3,270.84 219.8,270.84 220.3,270.84 220.8,270.84 221.3,270.84 221.8,270.84 222.3,270.84 222.8,270.84 223.3,270.84 223.8,270.83 224.3,270.83 224.8,270.81 225.3,270.79 225.8,270.76 226.3,270.70 226.8,270.61 227.3,270.48 227.8,270.29 228.3,270.00 228.8,269.61 229.3,269.07 229.8,268.36 230.3,267.44 230.8,266.29 231.3,264.90 231.8,263.26 232.3,261.39 232.8,259.33 233.3,257.16 233.8,254.96 234.3,252.84 234.8,250.91 235.3,249.29 235.8,248.09 236.3,247.38 236.8,247.21 237.3,247.60 237.8,248.52 238.3,249.90 238.8,251.65 239.3,253.67 239.8,255.84 240.3,258.04 240.8,260.17 241.3,262.16 241.8,263.94 242.3,265.48 242.8,266.78 243.3,267.84 243.8,268.67 244.3,269.31 244.8,269.78 245.3,270.13 245.8,270.37 246.3,270.54 246.8,270.65 247.3,270.73 247.8,270.77 248.3,270.80 248.8,270.82 249.3,270.83 249.8,270.84 250.3,270.84 250.8,270.84 251.3,270.84 251.8,270.84 252.3,270.84 252.8,270.84 253.3,270.84 253.8,270.84 254.3,270.84 254.8,270.84 255.3,270.84" fill="none" stroke="#4f7aab" stroke-width="0.75"/>
<rect x="217.80" y="239.70" width="37.90" height="33.70" fill="none" stroke="#222" stroke-width="0.9"/>
<line x1="217.80" y1="273.40" x2="217.80" y2="275.20" stroke="#7a4a3a" stroke-width="0.7" />
<line x1="230.43" y1="273.40" x2="230.43" y2="275.20" stroke="#7a4a3a" stroke-width="0.7" />
<line x1="243.07" y1="273.40" x2="243.07" y2="275.20" stroke="#7a4a3a" stroke-width="0.7" />
<line x1="255.70" y1="273.40" x2="255.70" y2="275.20" stroke="#7a4a3a" stroke-width="0.7" />
<line x1="215.30" y1="271.70" x2="217.80" y2="271.70" stroke="#1a1a1a" stroke-width="0.8" />
<line x1="215.30" y1="259.45" x2="217.80" y2="259.45" stroke="#1a1a1a" stroke-width="0.8" />
<line x1="215.30" y1="247.20" x2="217.80" y2="247.20" stroke="#1a1a1a" stroke-width="0.8" />
<text x="173.20" y="274.20" font-size="7.0" text-anchor="end" font-weight="normal" font-style="normal" fill="#1a1a1a" >0</text>
<text x="173.20" y="261.95" font-size="7.0" text-anchor="end" font-weight="normal" font-style="normal" fill="#1a1a1a" >5</text>
<text x="173.20" y="249.70" font-size="7.0" text-anchor="end" font-weight="normal" font-style="normal" fill="#1a1a1a" >10</text>
<text x="196.60" y="234.80" font-size="7.5" text-anchor="middle" font-weight="normal" font-style="normal" fill="#1a1a1a" >WT</text>
<text x="236.80" y="234.80" font-size="7.5" text-anchor="middle" font-weight="normal" font-style="normal" fill="#1a1a1a" ><tspan font-style="italic">Arid1b</tspan> KO</text>
<text x="8.20" y="382.80" font-size="11.2" text-anchor="start" font-weight="bold" font-style="normal" fill="#000" >D</text>
<line x1="51.45" y1="453.50" x2="51.45" y2="481.20" stroke="#7c7c7c" stroke-width="0.8" />
<rect x="49.80" y="462.20" width="3.30" height="8.60" fill="#1f4f8a" />
<line x1="49.80" y1="466.60" x2="53.10" y2="466.60" stroke="#222" stroke-width="0.9" />
<line x1="76.60" y1="446.50" x2="76.60" y2="476.50" stroke="#7c7c7c" stroke-width="0.8" />
<rect x="75.00" y="458.10" width="3.20" height="8.10" fill="#d0801f" />
<line x1="75.00" y1="462.20" x2="78.20" y2="462.20" stroke="#222" stroke-width="0.9" />
<line x1="101.90" y1="445.40" x2="101.90" y2="478.90" stroke="#7c7c7c" stroke-width="0.8" />
<rect x="92.30" y="456.20" width="19.20" height="9.30" fill="#1f4f8a" />
<line x1="92.30" y1="460.90" x2="111.50" y2="460.90" stroke="#141414" stroke-width="0.9" />
<line x1="126.90" y1="447.70" x2="126.90" y2="484.60" stroke="#7c7c7c" stroke-width="0.8" />
<rect x="117.20" y="461.10" width="19.40" height="10.10" fill="#d0801f" />
<line x1="117.20" y1="466.20" x2="136.60" y2="466.20" stroke="#141414" stroke-width="0.9" />
<path d="M51.4 443.0h0M51.5 443.8h0M51.4 444.6h0M51.5 445.4h0M51.5 446.2h0M51.3 447.0h0M51.3 447.8h0M51.6 448.5h0M51.4 449.3h0M51.4 450.1h0M51.6 450.9h0M51.4 451.7h0M51.6 452.5h0M51.4 453.3h0" stroke="#111" stroke-width="1.3" stroke-linecap="round" fill="none" opacity="1"/>
<path d="M51.5 435.0h0M51.5 439.0h0M51.5 441.3h0" stroke="#111" stroke-width="1.0" stroke-linecap="round" fill="none" opacity="1"/>
<path d="M51.5 484.6h0M51.5 486.4h0M51.3 488.2h0" stroke="#111" stroke-width="0.9" stroke-linecap="round" fill="none" opacity="1"/>
<path d="M76.6 437.3h0M76.5 438.1h0M76.6 438.9h0M76.7 439.8h0M76.6 440.6h0M76.7 441.4h0M76.7 442.2h0M76.5 443.0h0M76.7 443.8h0M76.6 444.7h0M76.5 445.5h0M76.5 446.3h0" stroke="#111" stroke-width="1.3" stroke-linecap="round" fill="none" opacity="1"/>
<path d="M76.6 431.5h0M76.6 433.8h0M76.6 435.6h0" stroke="#111" stroke-width="1.0" stroke-linecap="round" fill="none" opacity="1"/>
<path d="M76.6 479.5h0M76.6 485.0h0" stroke="#111" stroke-width="0.9" stroke-linecap="round" fill="none" opacity="1"/>
<path d="M102.0 423.8h0M101.9 424.5h0M102.0 425.3h0M102.0 426.0h0M102.0 426.8h0M102.0 427.5h0M101.9 428.2h0M102.0 429.0h0M101.9 429.7h0M102.0 430.4h0M102.0 431.2h0M101.8 431.9h0M101.8 432.7h0M101.8 433.4h0M102.0 434.1h0M101.9 434.9h0M101.9 435.6h0M101.8 436.3h0M101.9 437.1h0M101.9 437.8h0M101.9 438.6h0M101.9 439.3h0M101.9 440.0h0M102.0 440.8h0M102.0 441.5h0M102.0 442.2h0M102.0 443.0h0M102.0 443.7h0M102.0 444.5h0M101.8 445.2h0" stroke="#111" stroke-width="1.5" stroke-linecap="round" fill="none" opacity="1"/>
<path d="M127.0 427.2h0M127.0 428.0h0M127.0 428.7h0M126.9 429.5h0M127.0 430.2h0M126.8 431.0h0M127.0 431.7h0M126.9 432.5h0M126.8 433.2h0M126.8 434.0h0M127.0 434.7h0M127.0 435.5h0M126.8 436.2h0M127.0 437.0h0M126.9 437.7h0M126.8 438.5h0M126.8 439.2h0M127.0 440.0h0M127.0 440.7h0M126.8 441.5h0M126.9 442.2h0M126.8 443.0h0M127.0 443.7h0M126.8 444.5h0M127.0 445.2h0M127.0 446.0h0M126.9 446.7h0M127.0 447.5h0" stroke="#111" stroke-width="1.5" stroke-linecap="round" fill="none" opacity="1"/>
<path d="M126.8 487.0h0M126.8 487.8h0M126.9 488.5h0M126.8 489.2h0M126.8 490.0h0M126.9 490.8h0M126.9 491.5h0" stroke="#111" stroke-width="1.3" stroke-linecap="round" fill="none" opacity="1"/>
<path d="M126.9 499.6h0M126.9 485.8h0" stroke="#111" stroke-width="1.0" stroke-linecap="round" fill="none" opacity="1"/>
<polyline points="51.2,421.9 51.2,419.3 77.1,419.3 77.1,421.9" fill="none" stroke="#1a1a1a" stroke-width="0.8"/>
<text x="64.00" y="419.40" font-size="7.6" text-anchor="middle" font-weight="normal" font-style="normal" fill="#1a1a1a" >****</text>
<polyline points="101.5,411.5 101.5,408.9 127.4,408.9 127.4,411.5" fill="none" stroke="#1a1a1a" stroke-width="0.8"/>
<text x="114.50" y="409.20" font-size="7.6" text-anchor="middle" font-weight="normal" font-style="normal" fill="#1a1a1a" >****</text>
<line x1="36.30" y1="396.30" x2="36.30" y2="505.20" stroke="#1a1a1a" stroke-width="1.1" />
<line x1="35.80" y1="504.70" x2="142.20" y2="504.70" stroke="#1a1a1a" stroke-width="1.1" />
<line x1="33.00" y1="500.70" x2="36.30" y2="500.70" stroke="#1a1a1a" stroke-width="0.9" />
<text x="30.00" y="503.25" font-size="7.2" text-anchor="end" font-weight="normal" font-style="normal" fill="#1a1a1a" >0</text>
<line x1="33.00" y1="467.25" x2="36.30" y2="467.25" stroke="#1a1a1a" stroke-width="0.9" />
<text x="30.00" y="469.80" font-size="7.2" text-anchor="end" font-weight="normal" font-style="normal" fill="#1a1a1a" >5</text>
<line x1="33.00" y1="433.80" x2="36.30" y2="433.80" stroke="#1a1a1a" stroke-width="0.9" />
<text x="30.00" y="436.35" font-size="7.2" text-anchor="end" font-weight="normal" font-style="normal" fill="#1a1a1a" >10</text>
<line x1="33.00" y1="400.35" x2="36.30" y2="400.35" stroke="#1a1a1a" stroke-width="0.9" />
<text x="30.00" y="402.90" font-size="7.2" text-anchor="end" font-weight="normal" font-style="normal" fill="#1a1a1a" >15</text>
<line x1="51.30" y1="504.70" x2="51.30" y2="507.60" stroke="#1a1a1a" stroke-width="0.9" />
<line x1="76.50" y1="504.70" x2="76.50" y2="507.60" stroke="#1a1a1a" stroke-width="0.9" />
<line x1="101.70" y1="504.70" x2="101.70" y2="507.60" stroke="#1a1a1a" stroke-width="0.9" />
<line x1="127.00" y1="504.70" x2="127.00" y2="507.60" stroke="#1a1a1a" stroke-width="0.9" />
<text x="51.30" y="517.30" font-size="7.6" text-anchor="middle" font-weight="normal" font-style="normal" fill="#1a1a1a" >WT</text>
<text x="76.00" y="517.30" font-size="7.6" text-anchor="middle" font-weight="normal" font-style="normal" fill="#1a1a1a" >KO</text>
<text x="101.70" y="517.30" font-size="7.6" text-anchor="middle" font-weight="normal" font-style="normal" fill="#1a1a1a" >WT</text>
<text x="127.00" y="517.30" font-size="7.6" text-anchor="middle" font-weight="normal" font-style="normal" fill="#1a1a1a" >KO</text>
<line x1="41.00" y1="521.20" x2="86.40" y2="521.20" stroke="#1a1a1a" stroke-width="0.8" />
<line x1="91.80" y1="521.20" x2="136.60" y2="521.20" stroke="#1a1a1a" stroke-width="0.8" />
<text x="63.80" y="531.30" font-size="7.6" text-anchor="middle" font-weight="normal" font-style="normal" fill="#1a1a1a" >Sites with</text>
<text x="63.80" y="540.80" font-size="7.6" text-anchor="middle" font-weight="normal" font-style="normal" fill="#1a1a1a" >peaks</text>
<text x="63.80" y="550.30" font-size="7.6" text-anchor="middle" font-weight="normal" font-style="normal" fill="#1a1a1a" >gained in KO</text>
<text x="113.80" y="531.30" font-size="7.6" text-anchor="middle" font-weight="normal" font-style="normal" fill="#1a1a1a" >Sites with</text>
<text x="113.80" y="540.80" font-size="7.6" text-anchor="middle" font-weight="normal" font-style="normal" fill="#1a1a1a" >peaks</text>
<text x="113.80" y="550.30" font-size="7.6" text-anchor="middle" font-weight="normal" font-style="normal" fill="#1a1a1a" >lost in KO</text>
<text x="0" y="0" transform="translate(13.70 452.00) rotate(-90) scale(0.74 1)" font-size="8.0" text-anchor="middle" font-weight="bold" font-style="normal" fill="#1a1a1a" opacity="0.8">-log2 normalized reads</text>
<text x="295.70" y="220.90" font-size="11.2" text-anchor="start" font-weight="bold" font-style="normal" fill="#000" >E</text>
<rect x="363.20" y="236.20" width="4.60" height="4.60" fill="#c4122f" />
<text x="372.00" y="241.00" font-size="7.0" text-anchor="start" font-weight="normal" font-style="normal" fill="#1a1a1a" >Promoter/TSS</text>
<rect x="363.20" y="247.00" width="4.60" height="4.60" fill="#3fa9e0" />
<text x="372.00" y="251.80" font-size="7.0" text-anchor="start" font-weight="normal" font-style="normal" fill="#1a1a1a" >Intron</text>
<rect x="363.20" y="257.80" width="4.60" height="4.60" fill="#3aaa35" />
<text x="372.00" y="262.60" font-size="7.0" text-anchor="start" font-weight="normal" font-style="normal" fill="#1a1a1a" >Intergenic</text>
<rect x="363.20" y="268.90" width="4.60" height="4.60" fill="#1f4e8c" />
<text x="372.00" y="273.70" font-size="7.0" text-anchor="start" font-weight="normal" font-style="normal" fill="#1a1a1a" >Exon</text>
<rect x="429.10" y="236.20" width="4.60" height="4.60" fill="#5c2d82" />
<text x="437.50" y="241.00" font-size="7.0" text-anchor="start" font-weight="normal" font-style="normal" fill="#1a1a1a" >5′ UTR</text>
<rect x="429.10" y="247.00" width="4.60" height="4.60" fill="#d17f1e" />
<text x="437.50" y="251.80" font-size="7.0" text-anchor="start" font-weight="normal" font-style="normal" fill="#1a1a1a" >3′ UTR</text>
<rect x="429.10" y="257.80" width="4.60" height="4.60" fill="#e8958c" />
<text x="437.50" y="262.60" font-size="7.0" text-anchor="start" font-weight="normal" font-style="normal" fill="#1a1a1a" >TTS</text>
<rect x="429.10" y="268.90" width="4.60" height="4.60" fill="#1a1a1a" />
<text x="437.50" y="273.70" font-size="7.0" text-anchor="start" font-weight="normal" font-style="normal" fill="#1a1a1a" >Non-coding</text>
<path d="M355.00 323.00A46.0 46.0 0 1 1 351.25 414.85L353.15 391.62A22.7 22.7 0 1 0 355.00 346.30Z" fill="#c4122f" stroke="#c4122f" stroke-width="0.3"/>
<path d="M351.25 414.85A46.0 46.0 0 0 1 309.99 378.47L332.79 373.67A22.7 22.7 0 0 0 353.15 391.62Z" fill="#3fa9e0" stroke="#3fa9e0" stroke-width="0.3"/>
<path d="M309.99 378.47A46.0 46.0 0 0 1 321.87 337.09L338.65 353.25A22.7 22.7 0 0 0 332.79 373.67Z" fill="#3aaa35" stroke="#3aaa35" stroke-width="0.3"/>
<path d="M321.87 337.09A46.0 46.0 0 0 1 332.08 329.11L343.69 349.32A22.7 22.7 0 0 0 338.65 353.25Z" fill="#1f4e8c" stroke="#1f4e8c" stroke-width="0.3"/>
<path d="M332.08 329.11A46.0 46.0 0 0 1 346.10 323.87L350.61 346.73A22.7 22.7 0 0 0 343.69 349.32Z" fill="#5c2d82" stroke="#5c2d82" stroke-width="0.3"/>
<path d="M346.10 323.87A46.0 46.0 0 0 1 347.23 323.66L351.17 346.63A22.7 22.7 0 0 0 350.61 346.73Z" fill="#d17f1e" stroke="#d17f1e" stroke-width="0.3"/>
<path d="M347.23 323.66A46.0 46.0 0 0 1 352.40 323.07L353.72 346.34A22.7 22.7 0 0 0 351.17 346.63Z" fill="#e8958c" stroke="#e8958c" stroke-width="0.3"/>
<path d="M352.40 323.07A46.0 46.0 0 0 1 355.00 323.00L355.00 346.30A22.7 22.7 0 0 0 353.72 346.34Z" fill="#1a1a1a" stroke="#1a1a1a" stroke-width="0.3"/>
<path d="M468.60 323.00A45.8 45.8 0 0 1 485.73 411.28L477.09 389.85A22.7 22.7 0 0 0 468.60 346.10Z" fill="#c4122f" stroke="#c4122f" stroke-width="0.3"/>
<path d="M485.73 411.28A45.8 45.8 0 0 1 434.44 399.30L451.67 383.92A22.7 22.7 0 0 0 477.09 389.85Z" fill="#3fa9e0" stroke="#3fa9e0" stroke-width="0.3"/>
<path d="M434.44 399.30A45.8 45.8 0 0 1 454.72 325.15L461.72 347.17A22.7 22.7 0 0 0 451.67 383.92Z" fill="#3aaa35" stroke="#3aaa35" stroke-width="0.3"/>
<path d="M454.72 325.15A45.8 45.8 0 0 1 468.60 323.00L468.60 346.10A22.7 22.7 0 0 0 461.72 347.17Z" fill="#5c2d82" stroke="#5c2d82" stroke-width="0.3"/>
<text x="354.80" y="296.70" font-size="8.7" text-anchor="middle" font-weight="normal" font-style="normal" fill="#1a1a1a" >Peaks lost in KO</text>
<text x="471.60" y="296.70" font-size="8.7" text-anchor="middle" font-weight="normal" font-style="normal" fill="#1a1a1a" >Peaks gained in KO</text>
<text x="352.30" y="428.60" font-size="7.5" text-anchor="middle" font-weight="normal" font-style="normal" fill="#1a1a1a" >1,804 peaks</text>
<text x="474.90" y="428.60" font-size="7.5" text-anchor="middle" font-weight="normal" font-style="normal" fill="#1a1a1a" >41 peaks</text>
<text x="388.40" y="371.20" font-size="8.0" text-anchor="middle" font-weight="normal" font-style="normal" fill="#fff" >51.3%</text>
<text x="332.00" y="396.40" font-size="8.0" text-anchor="middle" font-weight="normal" font-style="normal" fill="#1a1a1a" >20.4%</text>
<text x="321.60" y="360.90" font-size="8.0" text-anchor="middle" font-weight="normal" font-style="normal" fill="#1a1a1a" >15.5%</text>
<text x="309.90" y="336.40" font-size="8.0" text-anchor="middle" font-weight="normal" font-style="normal" fill="#1a1a1a" >4.5%</text>
<text x="322.30" y="326.40" font-size="8.0" text-anchor="middle" font-weight="normal" font-style="normal" fill="#1a1a1a" >5.2%</text>
<text x="338.50" y="318.50" font-size="8.0" text-anchor="middle" font-weight="normal" font-style="normal" fill="#1a1a1a" >0.4%</text>
<text x="356.90" y="311.90" font-size="8.0" text-anchor="middle" font-weight="normal" font-style="normal" fill="#1a1a1a" >1.8%</text>
<text x="367.00" y="320.90" font-size="8.0" text-anchor="middle" font-weight="normal" font-style="normal" fill="#1a1a1a" >0.9%</text>
<line x1="318.60" y1="334.20" x2="323.90" y2="335.20" stroke="#444" stroke-width="0.6" />
<line x1="331.20" y1="324.20" x2="336.60" y2="325.60" stroke="#444" stroke-width="0.6" />
<line x1="346.40" y1="319.40" x2="347.20" y2="324.40" stroke="#444" stroke-width="0.6" />
<line x1="350.30" y1="313.40" x2="348.60" y2="324.20" stroke="#444" stroke-width="0.6" />
<line x1="357.60" y1="318.90" x2="353.90" y2="323.60" stroke="#444" stroke-width="0.6" />
<text x="500.00" y="363.40" font-size="8.0" text-anchor="middle" font-weight="normal" font-style="normal" fill="#fff" >43.9%</text>
<text x="460.20" y="403.00" font-size="8.0" text-anchor="middle" font-weight="normal" font-style="normal" fill="#1a1a1a" >19.5%</text>
<text x="436.00" y="361.40" font-size="8.0" text-anchor="middle" font-weight="normal" font-style="normal" fill="#1a1a1a" >31.7%</text>
<text x="459.70" y="321.50" font-size="8.0" text-anchor="middle" font-weight="normal" font-style="normal" fill="#1a1a1a" >4.9%</text>
<text x="295.80" y="450.90" font-size="11.2" text-anchor="start" font-weight="bold" font-style="normal" fill="#000" >F</text>
<text transform="translate(372.06 470.05) scale(1.445 1.017)" font-size="10" font-weight="bold" fill="#f0961e">G</text>
<text transform="translate(372.46 475.15) scale(1.656 0.683)" font-size="10" font-weight="bold" fill="#d4121c">T</text>
<text transform="translate(372.29 481.15) scale(1.453 0.828)" font-size="10" font-weight="bold" fill="#1f9a3c">A</text>
<text transform="translate(382.31 475.17) scale(1.445 1.879)" font-size="10" font-weight="bold" fill="#f0961e">G</text>
<text transform="translate(382.54 481.15) scale(1.453 0.799)" font-size="10" font-weight="bold" fill="#1f9a3c">A</text>
<text transform="translate(392.56 480.88) scale(1.445 2.726)" font-size="10" font-weight="bold" fill="#f0961e">G</text>
<text transform="translate(402.81 480.88) scale(1.445 2.726)" font-size="10" font-weight="bold" fill="#f0961e">G</text>
<text transform="translate(413.04 480.88) scale(1.491 2.782)" font-size="10" font-weight="bold" fill="#24127e">C</text>
<text transform="translate(423.31 480.88) scale(1.445 2.726)" font-size="10" font-weight="bold" fill="#f0961e">G</text>
<text transform="translate(433.56 476.35) scale(1.445 2.020)" font-size="10" font-weight="bold" fill="#f0961e">G</text>
<text transform="translate(433.96 481.15) scale(1.656 0.625)" font-size="10" font-weight="bold" fill="#d4121c">T</text>
<text transform="translate(443.81 476.35) scale(1.445 2.048)" font-size="10" font-weight="bold" fill="#f0961e">G</text>
<text transform="translate(444.04 481.15) scale(1.453 0.625)" font-size="10" font-weight="bold" fill="#1f9a3c">A</text>
<text transform="translate(454.06 476.35) scale(1.445 2.048)" font-size="10" font-weight="bold" fill="#f0961e">G</text>
<text transform="translate(454.29 481.15) scale(1.453 0.625)" font-size="10" font-weight="bold" fill="#1f9a3c">A</text>
<text transform="translate(464.29 476.94) scale(1.491 2.189)" font-size="10" font-weight="bold" fill="#24127e">C</text>
<text transform="translate(464.71 481.15) scale(1.656 0.538)" font-size="10" font-weight="bold" fill="#d4121c">T</text>
<text transform="translate(372.54 499.35) scale(1.890 1.381)" font-size="10" font-weight="bold" fill="#d4121c">T</text>
<text transform="translate(372.07 505.67) scale(1.649 0.862)" font-size="10" font-weight="bold" fill="#f0961e">G</text>
<text transform="translate(372.05 511.67) scale(1.702 0.805)" font-size="10" font-weight="bold" fill="#24127e">C</text>
<text transform="translate(383.68 498.43) scale(1.702 1.229)" font-size="10" font-weight="bold" fill="#24127e">C</text>
<text transform="translate(383.70 505.06) scale(1.649 0.890)" font-size="10" font-weight="bold" fill="#f0961e">G</text>
<text transform="translate(384.17 511.75) scale(1.890 0.916)" font-size="10" font-weight="bold" fill="#d4121c">T</text>
<text transform="translate(395.80 499.85) scale(1.890 1.468)" font-size="10" font-weight="bold" fill="#d4121c">T</text>
<text transform="translate(395.31 510.70) scale(1.702 1.511)" font-size="10" font-weight="bold" fill="#24127e">C</text>
<text transform="translate(395.60 511.75) scale(1.659 0.087)" font-size="10" font-weight="bold" fill="#1f9a3c">A</text>
<text transform="translate(406.96 498.63) scale(1.649 1.257)" font-size="10" font-weight="bold" fill="#f0961e">G</text>
<text transform="translate(406.94 505.07) scale(1.702 0.862)" font-size="10" font-weight="bold" fill="#24127e">C</text>
<text transform="translate(407.43 511.75) scale(1.890 0.916)" font-size="10" font-weight="bold" fill="#d4121c">T</text>
<text transform="translate(418.86 511.75) scale(1.659 3.183)" font-size="10" font-weight="bold" fill="#1f9a3c">A</text>
<text transform="translate(430.69 511.75) scale(1.890 3.183)" font-size="10" font-weight="bold" fill="#d4121c">T</text>
<text transform="translate(442.32 511.75) scale(1.890 3.183)" font-size="10" font-weight="bold" fill="#d4121c">T</text>
<text transform="translate(453.48 511.45) scale(1.649 3.093)" font-size="10" font-weight="bold" fill="#f0961e">G</text>
<text transform="translate(465.11 511.45) scale(1.649 3.093)" font-size="10" font-weight="bold" fill="#f0961e">G</text>
<text transform="translate(476.72 497.74) scale(1.702 1.130)" font-size="10" font-weight="bold" fill="#24127e">C</text>
<text transform="translate(477.21 507.45) scale(1.890 1.352)" font-size="10" font-weight="bold" fill="#d4121c">T</text>
<text transform="translate(476.74 509.62) scale(1.649 0.268)" font-size="10" font-weight="bold" fill="#f0961e">G</text>
<text transform="translate(477.01 511.75) scale(1.659 0.262)" font-size="10" font-weight="bold" fill="#1f9a3c">A</text>
<text transform="translate(488.84 498.75) scale(1.890 1.294)" font-size="10" font-weight="bold" fill="#d4121c">T</text>
<text transform="translate(488.35 507.93) scale(1.702 1.271)" font-size="10" font-weight="bold" fill="#24127e">C</text>
<text transform="translate(488.64 510.05) scale(1.659 0.247)" font-size="10" font-weight="bold" fill="#1f9a3c">A</text>
<text transform="translate(488.37 511.73) scale(1.649 0.198)" font-size="10" font-weight="bold" fill="#f0961e">G</text>
<text transform="translate(500.00 496.46) scale(1.649 0.946)" font-size="10" font-weight="bold" fill="#f0961e">G</text>
<text transform="translate(500.47 503.55) scale(1.890 0.974)" font-size="10" font-weight="bold" fill="#d4121c">T</text>
<text transform="translate(500.27 508.05) scale(1.659 0.610)" font-size="10" font-weight="bold" fill="#1f9a3c">A</text>
<text transform="translate(499.98 511.70) scale(1.702 0.480)" font-size="10" font-weight="bold" fill="#24127e">C</text>
<text transform="translate(372.45 531.65) scale(1.598 1.555)" font-size="10" font-weight="bold" fill="#1f9a3c">A</text>
<text transform="translate(372.20 537.77) scale(1.589 0.833)" font-size="10" font-weight="bold" fill="#f0961e">G</text>
<text transform="translate(372.18 542.00) scale(1.640 0.551)" font-size="10" font-weight="bold" fill="#24127e">C</text>
<text transform="translate(383.67 537.25) scale(1.598 2.355)" font-size="10" font-weight="bold" fill="#1f9a3c">A</text>
<text transform="translate(383.42 539.82) scale(1.589 0.325)" font-size="10" font-weight="bold" fill="#f0961e">G</text>
<text transform="translate(383.40 542.02) scale(1.640 0.268)" font-size="10" font-weight="bold" fill="#24127e">C</text>
<text transform="translate(394.89 537.05) scale(1.598 2.355)" font-size="10" font-weight="bold" fill="#1f9a3c">A</text>
<text transform="translate(394.64 539.22) scale(1.589 0.268)" font-size="10" font-weight="bold" fill="#f0961e">G</text>
<text transform="translate(395.09 540.85) scale(1.820 0.189)" font-size="10" font-weight="bold" fill="#d4121c">T</text>
<text transform="translate(394.62 542.04) scale(1.640 0.127)" font-size="10" font-weight="bold" fill="#24127e">C</text>
<text transform="translate(406.11 536.25) scale(1.598 2.238)" font-size="10" font-weight="bold" fill="#1f9a3c">A</text>
<text transform="translate(406.31 540.85) scale(1.820 0.625)" font-size="10" font-weight="bold" fill="#d4121c">T</text>
<text transform="translate(405.84 542.04) scale(1.640 0.127)" font-size="10" font-weight="bold" fill="#24127e">C</text>
<text transform="translate(417.08 536.04) scale(1.589 2.147)" font-size="10" font-weight="bold" fill="#f0961e">G</text>
<text transform="translate(417.33 540.45) scale(1.598 0.567)" font-size="10" font-weight="bold" fill="#1f9a3c">A</text>
<text transform="translate(417.06 542.03) scale(1.640 0.184)" font-size="10" font-weight="bold" fill="#24127e">C</text>
<text transform="translate(428.30 528.15) scale(1.589 1.017)" font-size="10" font-weight="bold" fill="#f0961e">G</text>
<text transform="translate(428.55 537.65) scale(1.598 1.323)" font-size="10" font-weight="bold" fill="#1f9a3c">A</text>
<text transform="translate(428.28 541.99) scale(1.640 0.579)" font-size="10" font-weight="bold" fill="#24127e">C</text>
<text transform="translate(439.52 534.27) scale(1.589 1.850)" font-size="10" font-weight="bold" fill="#f0961e">G</text>
<text transform="translate(439.77 542.05) scale(1.598 1.061)" font-size="10" font-weight="bold" fill="#1f9a3c">A</text>
<text transform="translate(450.74 541.76) scale(1.589 3.008)" font-size="10" font-weight="bold" fill="#f0961e">G</text>
<text transform="translate(462.21 542.05) scale(1.598 3.038)" font-size="10" font-weight="bold" fill="#1f9a3c">A</text>
<text transform="translate(473.43 540.25) scale(1.598 2.747)" font-size="10" font-weight="bold" fill="#1f9a3c">A</text>
<text transform="translate(473.63 542.05) scale(1.820 0.218)" font-size="10" font-weight="bold" fill="#d4121c">T</text>
<text transform="translate(484.40 533.28) scale(1.589 1.737)" font-size="10" font-weight="bold" fill="#f0961e">G</text>
<text transform="translate(484.38 538.98) scale(1.640 0.749)" font-size="10" font-weight="bold" fill="#24127e">C</text>
<text transform="translate(484.65 540.85) scale(1.598 0.218)" font-size="10" font-weight="bold" fill="#1f9a3c">A</text>
<text transform="translate(484.85 542.05) scale(1.820 0.131)" font-size="10" font-weight="bold" fill="#d4121c">T</text>
<text transform="translate(496.07 535.85) scale(1.820 2.224)" font-size="10" font-weight="bold" fill="#d4121c">T</text>
<text transform="translate(495.60 539.40) scale(1.640 0.466)" font-size="10" font-weight="bold" fill="#24127e">C</text>
<text transform="translate(495.87 541.05) scale(1.598 0.189)" font-size="10" font-weight="bold" fill="#1f9a3c">A</text>
<text transform="translate(495.62 542.04) scale(1.589 0.099)" font-size="10" font-weight="bold" fill="#f0961e">G</text>
<text transform="translate(372.20 564.48) scale(1.589 1.737)" font-size="10" font-weight="bold" fill="#f0961e">G</text>
<text transform="translate(372.65 568.65) scale(1.820 0.538)" font-size="10" font-weight="bold" fill="#d4121c">T</text>
<text transform="translate(372.45 573.45) scale(1.598 0.654)" font-size="10" font-weight="bold" fill="#1f9a3c">A</text>
<text transform="translate(383.40 568.22) scale(1.640 2.387)" font-size="10" font-weight="bold" fill="#24127e">C</text>
<text transform="translate(383.67 572.45) scale(1.598 0.538)" font-size="10" font-weight="bold" fill="#1f9a3c">A</text>
<text transform="translate(383.87 573.45) scale(1.820 0.102)" font-size="10" font-weight="bold" fill="#d4121c">T</text>
<text transform="translate(394.62 573.14) scale(1.640 3.150)" font-size="10" font-weight="bold" fill="#24127e">C</text>
<text transform="translate(405.84 562.90) scale(1.640 1.511)" font-size="10" font-weight="bold" fill="#24127e">C</text>
<text transform="translate(406.11 570.25) scale(1.598 1.003)" font-size="10" font-weight="bold" fill="#1f9a3c">A</text>
<text transform="translate(406.31 573.45) scale(1.820 0.422)" font-size="10" font-weight="bold" fill="#d4121c">T</text>
<text transform="translate(417.06 566.25) scale(1.640 2.048)" font-size="10" font-weight="bold" fill="#24127e">C</text>
<text transform="translate(417.53 572.25) scale(1.820 0.799)" font-size="10" font-weight="bold" fill="#d4121c">T</text>
<text transform="translate(417.33 573.45) scale(1.598 0.131)" font-size="10" font-weight="bold" fill="#1f9a3c">A</text>
<text transform="translate(428.28 571.76) scale(1.640 2.924)" font-size="10" font-weight="bold" fill="#24127e">C</text>
<text transform="translate(428.75 573.45) scale(1.820 0.160)" font-size="10" font-weight="bold" fill="#d4121c">T</text>
<text transform="translate(439.97 572.05) scale(1.820 3.009)" font-size="10" font-weight="bold" fill="#d4121c">T</text>
<text transform="translate(439.77 573.45) scale(1.598 0.160)" font-size="10" font-weight="bold" fill="#1f9a3c">A</text>
<text transform="translate(450.99 566.45) scale(1.598 2.108)" font-size="10" font-weight="bold" fill="#1f9a3c">A</text>
<text transform="translate(450.74 570.40) scale(1.589 0.523)" font-size="10" font-weight="bold" fill="#f0961e">G</text>
<text transform="translate(451.19 573.45) scale(1.820 0.392)" font-size="10" font-weight="bold" fill="#d4121c">T</text>
<text transform="translate(461.96 566.84) scale(1.589 2.161)" font-size="10" font-weight="bold" fill="#f0961e">G</text>
<text transform="translate(461.94 573.37) scale(1.640 0.862)" font-size="10" font-weight="bold" fill="#24127e">C</text>
<text transform="translate(473.63 567.65) scale(1.820 2.311)" font-size="10" font-weight="bold" fill="#d4121c">T</text>
<text transform="translate(473.43 573.45) scale(1.598 0.799)" font-size="10" font-weight="bold" fill="#1f9a3c">A</text>
<text transform="translate(484.40 573.14) scale(1.589 3.150)" font-size="10" font-weight="bold" fill="#f0961e">G</text>
<text transform="translate(495.62 567.43) scale(1.589 2.246)" font-size="10" font-weight="bold" fill="#f0961e">G</text>
<text transform="translate(495.60 571.20) scale(1.640 0.466)" font-size="10" font-weight="bold" fill="#24127e">C</text>
<text transform="translate(495.87 573.45) scale(1.598 0.276)" font-size="10" font-weight="bold" fill="#1f9a3c">A</text>
<text transform="translate(372.74 600.25) scale(1.890 2.747)" font-size="10" font-weight="bold" fill="#d4121c">T</text>
<text transform="translate(372.25 601.44) scale(1.702 0.127)" font-size="10" font-weight="bold" fill="#24127e">C</text>
<text transform="translate(372.54 602.45) scale(1.659 0.102)" font-size="10" font-weight="bold" fill="#1f9a3c">A</text>
<text transform="translate(383.90 602.16) scale(1.649 2.952)" font-size="10" font-weight="bold" fill="#f0961e">G</text>
<text transform="translate(396.00 602.45) scale(1.890 3.038)" font-size="10" font-weight="bold" fill="#d4121c">T</text>
<text transform="translate(407.16 602.16) scale(1.649 2.952)" font-size="10" font-weight="bold" fill="#f0961e">G</text>
<text transform="translate(418.79 602.16) scale(1.649 2.952)" font-size="10" font-weight="bold" fill="#f0961e">G</text>
<text transform="translate(430.89 602.45) scale(1.890 2.980)" font-size="10" font-weight="bold" fill="#d4121c">T</text>
<text transform="translate(442.52 599.25) scale(1.890 2.573)" font-size="10" font-weight="bold" fill="#d4121c">T</text>
<text transform="translate(442.03 601.03) scale(1.702 0.212)" font-size="10" font-weight="bold" fill="#24127e">C</text>
<text transform="translate(442.32 602.45) scale(1.659 0.160)" font-size="10" font-weight="bold" fill="#1f9a3c">A</text>
<text transform="translate(453.95 596.05) scale(1.659 2.108)" font-size="10" font-weight="bold" fill="#1f9a3c">A</text>
<text transform="translate(454.15 601.25) scale(1.890 0.712)" font-size="10" font-weight="bold" fill="#d4121c">T</text>
<text transform="translate(453.68 602.44) scale(1.649 0.127)" font-size="10" font-weight="bold" fill="#f0961e">G</text>
<text x="304.70" y="468.60" font-size="7.5" text-anchor="start" font-weight="normal" font-style="normal" fill="#1a1a1a" >Sp2(Zf)</text>
<text x="304.70" y="477.90" font-size="7.5" text-anchor="start" font-weight="normal" font-style="normal" fill="#1a1a1a" ><tspan font-style="italic">P</tspan> value = 1e−99</text>
<text x="304.70" y="498.10" font-size="7.5" text-anchor="start" font-weight="normal" font-style="normal" fill="#1a1a1a" >NFY(CCAAT)</text>
<text x="304.70" y="507.40" font-size="7.5" text-anchor="start" font-weight="normal" font-style="normal" fill="#1a1a1a" ><tspan font-style="italic">P</tspan> value = 1e−76</text>
<text x="304.70" y="529.10" font-size="7.5" text-anchor="start" font-weight="normal" font-style="normal" fill="#1a1a1a" >SpiB(ETS)</text>
<text x="304.70" y="538.40" font-size="7.5" text-anchor="start" font-weight="normal" font-style="normal" fill="#1a1a1a" ><tspan font-style="italic">P</tspan> value = 1e−69</text>
<text x="304.70" y="560.10" font-size="7.5" text-anchor="start" font-weight="normal" font-style="normal" fill="#1a1a1a" >BORIS(Zf)/CTCFL</text>
<text x="304.70" y="569.40" font-size="7.5" text-anchor="start" font-weight="normal" font-style="normal" fill="#1a1a1a" ><tspan font-style="italic">P</tspan> value = 1e−48</text>
<text x="304.70" y="590.50" font-size="7.5" text-anchor="start" font-weight="normal" font-style="normal" fill="#1a1a1a" >RUNX</text>
<text x="304.70" y="599.80" font-size="7.5" text-anchor="start" font-weight="normal" font-style="normal" fill="#1a1a1a" ><tspan font-style="italic">P</tspan> value = 1e−23</text>
</svg>
</body></html>
